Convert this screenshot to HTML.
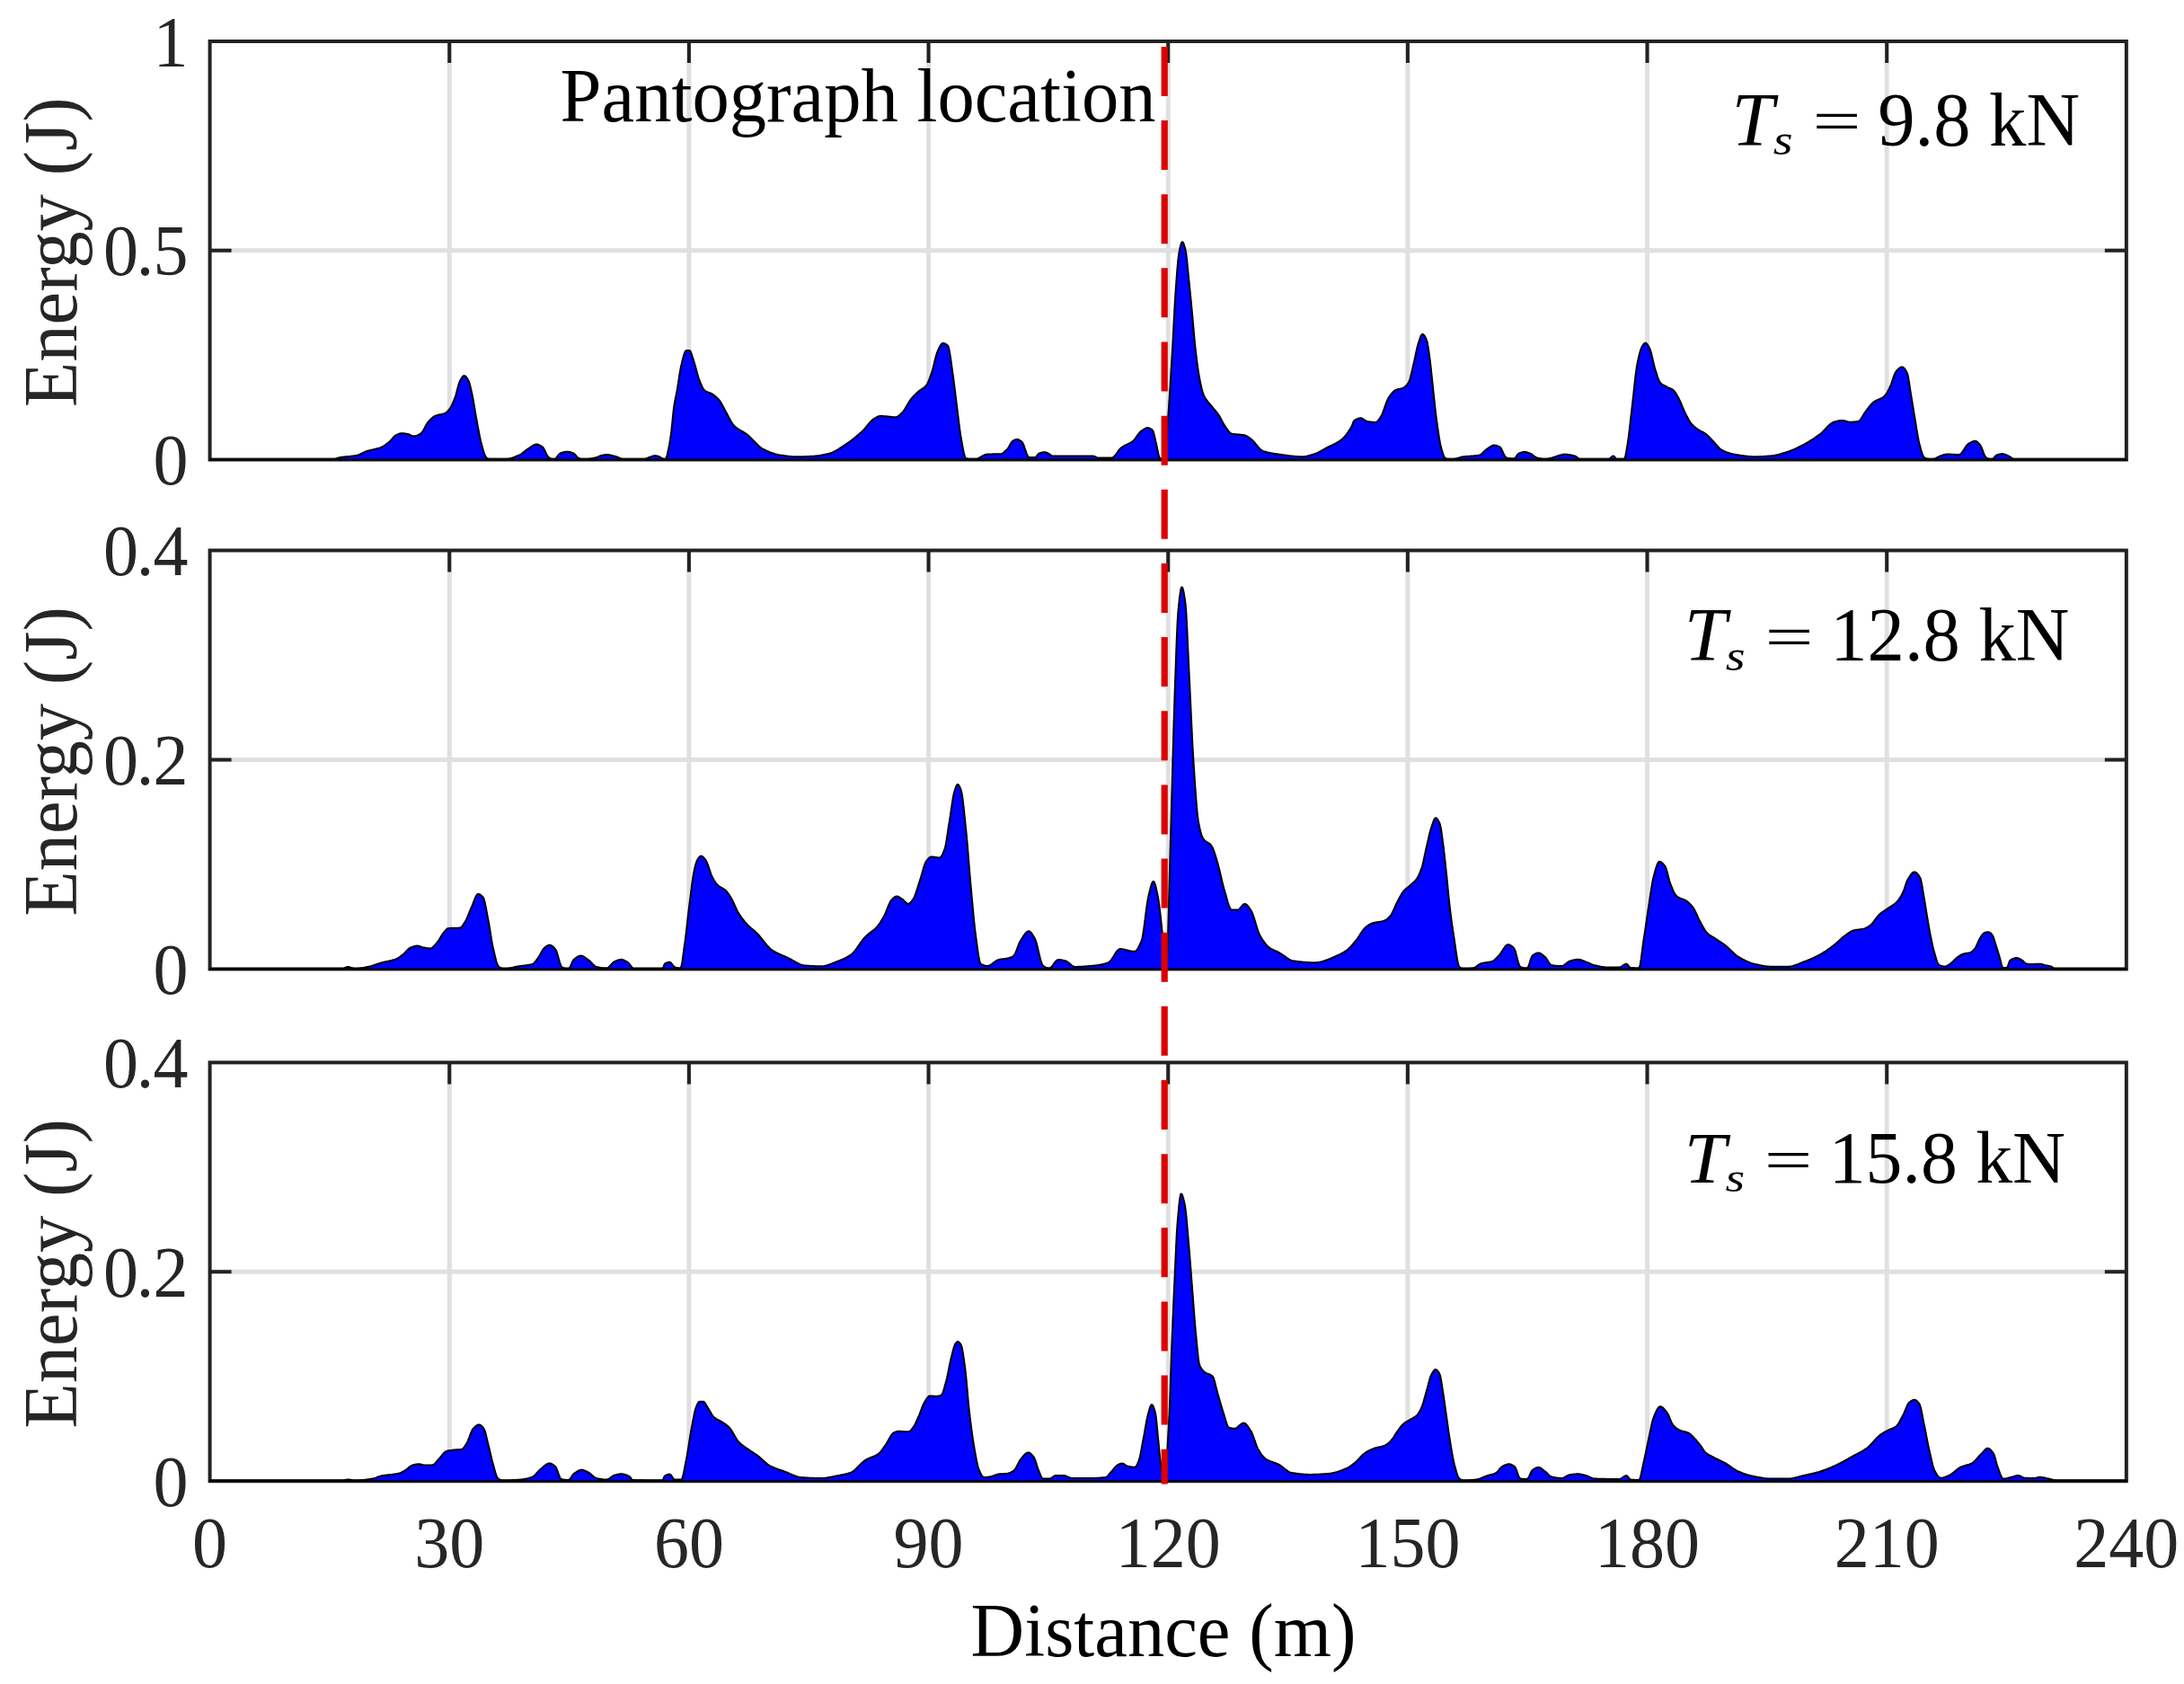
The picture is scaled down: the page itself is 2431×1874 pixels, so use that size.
<!DOCTYPE html><html><head><meta charset="utf-8"><title>Energy vs Distance</title>
<style>html,body{margin:0;padding:0;background:#fff;}svg{display:block;}</style></head><body>
<svg width="2431" height="1874" viewBox="0 0 2431 1874">
<rect x="0" y="0" width="2431" height="1874" fill="#fff"/>
<path d="M500.25,46V511.5M766.91,46V511.5M1033.57,46V511.5M1300.22,46V511.5M1566.88,46V511.5M1833.53,46V511.5M2100.18,46V511.5M233.6,278.75H2366.84" stroke="#e0e0e0" stroke-width="5.0" fill="none"/>
<path d="M500.25,46v24M500.25,511.5v-24M766.91,46v24M766.91,511.5v-24M1033.57,46v24M1033.57,511.5v-24M1300.22,46v24M1300.22,511.5v-24M1566.88,46v24M1566.88,511.5v-24M1833.53,46v24M1833.53,511.5v-24M2100.18,46v24M2100.18,511.5v-24M233.6,278.75h24M2366.84,278.75h-24" stroke="#222222" stroke-width="4.0" fill="none"/>
<rect x="233.6" y="46" width="2133.24" height="465.5" stroke="#222222" stroke-width="4.0" fill="none"/>
<path d="M233.6,511.5 L233.6,511.5 234.35,511.5 235.1,511.5 235.85,511.5 236.6,511.5 237.35,511.5 238.1,511.5 238.85,511.5 239.6,511.5 240.35,511.5 241.1,511.5 241.85,511.5 242.6,511.5 243.35,511.5 244.1,511.5 244.85,511.5 245.6,511.5 246.35,511.5 247.1,511.5 247.85,511.5 248.6,511.5 249.35,511.5 250.1,511.5 250.85,511.5 251.6,511.5 252.35,511.5 253.1,511.5 253.85,511.5 254.6,511.5 255.35,511.5 256.1,511.5 256.85,511.5 257.6,511.5 258.35,511.5 259.1,511.5 259.85,511.5 260.6,511.5 261.35,511.5 262.1,511.5 262.85,511.5 263.6,511.5 264.35,511.5 265.1,511.5 265.85,511.5 266.6,511.5 267.35,511.5 268.1,511.5 268.85,511.5 269.6,511.5 270.35,511.5 271.1,511.5 271.85,511.5 272.6,511.5 273.35,511.5 274.1,511.5 274.85,511.5 275.6,511.5 276.35,511.5 277.1,511.5 277.85,511.5 278.6,511.5 279.35,511.5 280.1,511.5 280.85,511.5 281.6,511.5 282.35,511.5 283.1,511.5 283.85,511.5 284.6,511.5 285.35,511.5 286.1,511.5 286.85,511.5 287.6,511.5 288.35,511.5 289.1,511.5 289.85,511.5 290.6,511.5 291.35,511.5 292.1,511.5 292.85,511.5 293.6,511.5 294.35,511.5 295.1,511.5 295.85,511.5 296.6,511.5 297.35,511.5 298.1,511.5 298.85,511.5 299.6,511.5 300.35,511.5 301.1,511.5 301.85,511.5 302.6,511.5 303.35,511.5 304.1,511.5 304.85,511.5 305.6,511.5 306.35,511.5 307.1,511.5 307.85,511.5 308.6,511.5 309.35,511.5 310.1,511.5 310.85,511.5 311.6,511.5 312.35,511.5 313.1,511.5 313.85,511.5 314.6,511.5 315.35,511.5 316.1,511.5 316.85,511.5 317.6,511.5 318.35,511.5 319.1,511.5 319.85,511.5 320.6,511.5 321.35,511.5 322.1,511.5 322.85,511.5 323.6,511.5 324.35,511.5 325.1,511.5 325.85,511.5 326.6,511.5 327.35,511.5 328.1,511.5 328.85,511.5 329.6,511.5 330.35,511.5 331.1,511.5 331.85,511.5 332.6,511.5 333.35,511.5 334.1,511.5 334.85,511.5 335.6,511.5 336.35,511.5 337.1,511.5 337.85,511.5 338.6,511.5 339.35,511.5 340.1,511.5 340.85,511.5 341.6,511.5 342.35,511.5 343.1,511.5 343.85,511.5 344.6,511.5 345.35,511.5 346.1,511.5 346.85,511.5 347.6,511.5 348.35,511.5 349.1,511.5 349.85,511.5 350.6,511.5 351.35,511.5 352.1,511.5 352.85,511.5 353.6,511.5 354.35,511.5 355.1,511.5 355.85,511.5 356.6,511.5 357.35,511.5 358.1,511.5 358.85,511.5 359.6,511.5 360.35,511.5 361.1,511.5 361.85,511.5 362.6,511.5 363.35,511.5 364.1,511.5 364.85,511.5 365.6,511.5 366.35,511.5 367.1,511.5 367.85,511.5 368.6,511.5 369.35,511.5 370.1,511.5 370.85,511.44 371.6,511.31 372.35,511.12 373.1,510.88 373.85,510.6 374.6,510.31 375.35,510.01 376.1,509.73 376.85,509.47 377.6,509.25 378.35,509.09 379.1,508.96 379.85,508.85 380.6,508.74 381.35,508.64 382.1,508.55 382.85,508.47 383.6,508.39 384.35,508.31 385.1,508.24 385.85,508.18 386.6,508.11 387.35,508.05 388.1,507.98 388.85,507.91 389.6,507.85 390.35,507.77 391.1,507.7 391.85,507.61 392.6,507.53 393.35,507.43 394.1,507.32 394.85,507.21 395.6,507.08 396.35,506.95 397.1,506.79 397.85,506.59 398.6,506.34 399.35,506.05 400.1,505.74 400.85,505.39 401.6,505.04 402.35,504.67 403.1,504.29 403.85,503.92 404.6,503.55 405.35,503.2 406.1,502.87 406.85,502.57 407.6,502.3 408.35,502.06 409.1,501.83 409.85,501.62 410.6,501.41 411.35,501.22 412.1,501.04 412.85,500.86 413.6,500.69 414.35,500.52 415.1,500.36 415.85,500.19 416.6,500.02 417.35,499.85 418.1,499.67 418.85,499.48 419.6,499.28 420.35,499.07 421.1,498.85 421.85,498.61 422.6,498.36 423.35,498.09 424.1,497.8 424.85,497.48 425.6,497.11 426.35,496.7 427.1,496.26 427.85,495.78 428.6,495.28 429.35,494.75 430.1,494.2 430.85,493.63 431.6,493.05 432.35,492.46 433.1,491.86 433.85,491.22 434.6,490.48 435.35,489.65 436.1,488.78 436.85,487.9 437.6,487.03 438.35,486.21 439.1,485.48 439.85,484.87 440.6,484.4 441.35,484.02 442.1,483.65 442.85,483.3 443.6,482.97 444.35,482.69 445.1,482.47 445.85,482.3 446.6,482.21 447.35,482.2 448.1,482.23 448.85,482.28 449.6,482.35 450.35,482.44 451.1,482.54 451.85,482.65 452.6,482.77 453.35,482.89 454.1,483.05 454.85,483.3 455.6,483.6 456.35,483.93 457.1,484.27 457.85,484.6 458.6,484.89 459.35,485.12 460.1,485.26 460.85,485.3 461.6,485.25 462.35,485.12 463.1,484.94 463.85,484.69 464.6,484.4 465.35,484.07 466.1,483.7 466.85,483.3 467.6,482.89 468.35,482.44 469.1,481.78 469.85,480.89 470.6,479.82 471.35,478.59 472.1,477.26 472.85,475.87 473.6,474.46 474.35,473.08 475.1,471.76 475.85,470.56 476.6,469.5 477.35,468.64 478.1,467.86 478.85,467.1 479.6,466.37 480.35,465.67 481.1,465.02 481.85,464.42 482.6,463.87 483.35,463.39 484.1,462.99 484.85,462.65 485.6,462.37 486.35,462.13 487.1,461.92 487.85,461.74 488.6,461.58 489.35,461.43 490.1,461.28 490.85,461.13 491.6,460.97 492.35,460.79 493.1,460.59 493.85,460.36 494.6,460.09 495.35,459.77 496.1,459.37 496.85,458.85 497.6,458.21 498.35,457.46 499.1,456.63 499.85,455.72 500.6,454.74 501.35,453.7 502.1,452.46 502.85,451.04 503.6,449.45 504.35,447.72 505.1,445.9 505.85,443.99 506.6,442.03 507.35,439.73 508.1,437.05 508.85,434.16 509.6,431.26 510.35,428.52 511.1,426.14 511.85,424.29 512.6,422.9 513.35,421.54 514.1,420.3 514.85,419.26 515.6,418.5 516.35,418.13 517.1,418.18 517.85,418.58 518.6,419.26 519.35,420.16 520.1,421.23 520.85,422.42 521.6,423.78 522.35,425.81 523.1,428.44 523.85,431.51 524.6,434.86 525.35,438.33 526.1,441.82 526.85,445.75 527.6,450.09 528.35,454.64 529.1,459.21 529.85,463.62 530.6,467.71 531.35,471.81 532.1,475.93 532.85,479.99 533.6,483.89 534.35,487.54 535.1,490.87 535.85,493.78 536.6,496.49 537.35,499.16 538.1,501.7 538.85,504.03 539.6,506.06 540.35,507.7 541.1,508.88 541.85,509.65 542.6,510.33 543.35,510.91 544.1,511.31 544.85,511.49 545.6,511.5 546.35,511.5 547.1,511.5 547.85,511.5 548.6,511.5 549.35,511.5 550.1,511.5 550.85,511.5 551.6,511.5 552.35,511.5 553.1,511.5 553.85,511.5 554.6,511.5 555.35,511.5 556.1,511.5 556.85,511.5 557.6,511.5 558.35,511.5 559.1,511.5 559.85,511.5 560.6,511.49 561.35,511.46 562.1,511.4 562.85,511.32 563.6,511.21 564.35,511.09 565.1,510.94 565.85,510.78 566.6,510.6 567.35,510.4 568.1,510.18 568.85,509.95 569.6,509.71 570.35,509.45 571.1,509.19 571.85,508.91 572.6,508.62 573.35,508.33 574.1,508.03 574.85,507.72 575.6,507.41 576.35,507.1 577.1,506.78 577.85,506.46 578.6,506.12 579.35,505.71 580.1,505.24 580.85,504.72 581.6,504.16 582.35,503.58 583.1,502.98 583.85,502.38 584.6,501.78 585.35,501.21 586.1,500.66 586.85,500.16 587.6,499.68 588.35,499.18 589.1,498.65 589.85,498.1 590.6,497.56 591.35,497.02 592.1,496.51 592.85,496.03 593.6,495.59 594.35,495.21 595.1,494.9 595.85,494.67 596.6,494.54 597.35,494.5 598.1,494.57 598.85,494.74 599.6,494.98 600.35,495.3 601.1,495.67 601.85,496.09 602.6,496.55 603.35,497.04 604.1,497.63 604.85,498.58 605.6,499.82 606.35,501.27 607.1,502.83 607.85,504.4 608.6,505.91 609.35,507.25 610.1,508.33 610.85,509.07 611.6,509.56 612.35,510.04 613.1,510.48 613.85,510.86 614.6,511.16 615.35,511.38 616.1,511.49 616.85,511.43 617.6,511.06 618.35,510.42 619.1,509.58 619.85,508.62 620.6,507.61 621.35,506.63 622.1,505.74 622.85,505.02 623.6,504.54 624.35,504.25 625.1,503.97 625.85,503.71 626.6,503.47 627.35,503.25 628.1,503.07 628.85,502.91 629.6,502.8 630.35,502.73 631.1,502.7 631.85,502.73 632.6,502.8 633.35,502.91 634.1,503.07 634.85,503.26 635.6,503.48 636.35,503.73 637.1,504 637.85,504.28 638.6,504.59 639.35,505.11 640.1,505.84 640.85,506.7 641.6,507.6 642.35,508.46 643.1,509.18 643.85,509.68 644.6,510.01 645.35,510.34 646.1,510.64 646.85,510.91 647.6,511.14 648.35,511.32 649.1,511.45 649.85,511.5 650.6,511.49 651.35,511.46 652.1,511.39 652.85,511.31 653.6,511.21 654.35,511.1 655.1,510.97 655.85,510.83 656.6,510.68 657.35,510.53 658.1,510.38 658.85,510.22 659.6,510.08 660.35,509.93 661.1,509.76 661.85,509.56 662.6,509.35 663.35,509.11 664.1,508.86 664.85,508.6 665.6,508.33 666.35,508.06 667.1,507.79 667.85,507.52 668.6,507.27 669.35,507.02 670.1,506.8 670.85,506.59 671.6,506.41 672.35,506.26 673.1,506.14 673.85,506.05 674.6,506.01 675.35,506 676.1,506.04 676.85,506.1 677.6,506.19 678.35,506.3 679.1,506.44 679.85,506.6 680.6,506.77 681.35,506.95 682.1,507.15 682.85,507.35 683.6,507.55 684.35,507.76 685.1,507.96 685.85,508.16 686.6,508.38 687.35,508.65 688.1,508.96 688.85,509.31 689.6,509.67 690.35,510.03 691.1,510.38 691.85,510.71 692.6,510.99 693.35,511.23 694.1,511.4 694.85,511.49 695.6,511.5 696.35,511.5 697.1,511.5 697.85,511.5 698.6,511.5 699.35,511.5 700.1,511.5 700.85,511.5 701.6,511.5 702.35,511.5 703.1,511.5 703.85,511.5 704.6,511.5 705.35,511.5 706.1,511.5 706.85,511.5 707.6,511.5 708.35,511.5 709.1,511.5 709.85,511.5 710.6,511.5 711.35,511.5 712.1,511.5 712.85,511.5 713.6,511.5 714.35,511.5 715.1,511.5 715.85,511.44 716.6,511.31 717.35,511.12 718.1,510.87 718.85,510.57 719.6,510.25 720.35,509.91 721.1,509.56 721.85,509.21 722.6,508.89 723.35,508.58 724.1,508.32 724.85,508.1 725.6,507.86 726.35,507.61 727.1,507.39 727.85,507.22 728.6,507.12 729.35,507.11 730.1,507.2 730.85,507.35 731.6,507.56 732.35,507.79 733.1,508.04 733.85,508.29 734.6,508.62 735.35,509.03 736.1,509.5 736.85,509.99 737.6,510.46 738.35,510.88 739.1,511.22 739.85,511.43 740.6,511.49 741.35,510.55 742.1,508.42 742.85,505.44 743.6,501.97 744.35,498.37 745.1,494.69 745.85,490.22 746.6,485.1 747.35,479.51 748.1,472.64 748.85,464.76 749.6,457.31 750.35,451.63 751.1,447.2 751.85,443.36 752.6,439.75 753.35,436 754.1,431.76 754.85,427.03 755.6,422.08 756.35,417.17 757.1,412.58 757.85,408.59 758.6,405.38 759.35,402.25 760.1,399.17 760.85,396.29 761.6,393.78 762.35,391.8 763.1,390.52 763.85,390.1 764.6,390.1 765.35,390.1 766.1,390.1 766.85,390.1 767.6,390.11 768.35,390.76 769.1,392.25 769.85,394.32 770.6,396.7 771.35,399.14 772.1,401.38 772.85,403.69 773.6,406.26 774.35,408.99 775.1,411.79 775.85,414.59 776.6,417.29 777.35,419.8 778.1,422.05 778.85,423.98 779.6,425.85 780.35,427.68 781.1,429.41 781.85,430.97 782.6,432.33 783.35,433.42 784.1,434.18 784.85,434.76 785.6,435.25 786.35,435.67 787.1,436.03 787.85,436.35 788.6,436.65 789.35,436.93 790.1,437.22 790.85,437.53 791.6,437.86 792.35,438.25 793.1,438.7 793.85,439.2 794.6,439.73 795.35,440.29 796.1,440.88 796.85,441.52 797.6,442.19 798.35,442.9 799.1,443.67 799.85,444.47 800.6,445.34 801.35,446.33 802.1,447.47 802.85,448.72 803.6,450.06 804.35,451.45 805.1,452.88 805.85,454.32 806.6,455.74 807.35,457.11 808.1,458.42 808.85,459.78 809.6,461.19 810.35,462.64 811.1,464.1 811.85,465.55 812.6,466.97 813.35,468.34 814.1,469.64 814.85,470.85 815.6,471.94 816.35,472.9 817.1,473.7 817.85,474.42 818.6,475.09 819.35,475.71 820.1,476.29 820.85,476.84 821.6,477.35 822.35,477.84 823.1,478.31 823.85,478.76 824.6,479.2 825.35,479.63 826.1,480.06 826.85,480.49 827.6,480.93 828.35,481.38 829.1,481.85 829.85,482.34 830.6,482.86 831.35,483.41 832.1,484 832.85,484.62 833.6,485.28 834.35,485.96 835.1,486.67 835.85,487.4 836.6,488.15 837.35,488.91 838.1,489.68 838.85,490.46 839.6,491.23 840.35,492.01 841.1,492.78 841.85,493.54 842.6,494.28 843.35,495.01 844.1,495.71 844.85,496.39 845.6,497.04 846.35,497.66 847.1,498.24 847.85,498.77 848.6,499.27 849.35,499.71 850.1,500.1 850.85,500.47 851.6,500.84 852.35,501.19 853.1,501.54 853.85,501.88 854.6,502.21 855.35,502.53 856.1,502.85 856.85,503.15 857.6,503.45 858.35,503.73 859.1,504 859.85,504.27 860.6,504.52 861.35,504.76 862.1,504.99 862.85,505.21 863.6,505.41 864.35,505.61 865.1,505.79 865.85,505.96 866.6,506.11 867.35,506.26 868.1,506.38 868.85,506.5 869.6,506.62 870.35,506.74 871.1,506.86 871.85,506.97 872.6,507.08 873.35,507.19 874.1,507.3 874.85,507.4 875.6,507.5 876.35,507.6 877.1,507.69 877.85,507.77 878.6,507.85 879.35,507.93 880.1,508 880.85,508.06 881.6,508.12 882.35,508.17 883.1,508.21 883.85,508.24 884.6,508.27 885.35,508.29 886.1,508.3 886.85,508.3 887.6,508.3 888.35,508.29 889.1,508.28 889.85,508.27 890.6,508.26 891.35,508.25 892.1,508.23 892.85,508.21 893.6,508.19 894.35,508.17 895.1,508.14 895.85,508.12 896.6,508.09 897.35,508.06 898.1,508.03 898.85,508 899.6,507.96 900.35,507.93 901.1,507.89 901.85,507.86 902.6,507.82 903.35,507.78 904.1,507.74 904.85,507.7 905.6,507.65 906.35,507.6 907.1,507.54 907.85,507.47 908.6,507.39 909.35,507.3 910.1,507.21 910.85,507.11 911.6,507 912.35,506.89 913.1,506.77 913.85,506.64 914.6,506.51 915.35,506.37 916.1,506.23 916.85,506.08 917.6,505.92 918.35,505.76 919.1,505.59 919.85,505.42 920.6,505.25 921.35,505.07 922.1,504.88 922.85,504.69 923.6,504.49 924.35,504.27 925.1,504.02 925.85,503.74 926.6,503.44 927.35,503.11 928.1,502.76 928.85,502.4 929.6,502.01 930.35,501.6 931.1,501.18 931.85,500.75 932.6,500.3 933.35,499.84 934.1,499.37 934.85,498.89 935.6,498.41 936.35,497.92 937.1,497.42 937.85,496.92 938.6,496.42 939.35,495.92 940.1,495.42 940.85,494.93 941.6,494.43 942.35,493.94 943.1,493.43 943.85,492.92 944.6,492.39 945.35,491.86 946.1,491.31 946.85,490.76 947.6,490.2 948.35,489.62 949.1,489.04 949.85,488.45 950.6,487.86 951.35,487.25 952.1,486.64 952.85,486.02 953.6,485.39 954.35,484.75 955.1,484.1 955.85,483.45 956.6,482.79 957.35,482.12 958.1,481.45 958.85,480.77 959.6,480.08 960.35,479.38 961.1,478.61 961.85,477.79 962.6,476.93 963.35,476.04 964.1,475.13 964.85,474.2 965.6,473.27 966.35,472.35 967.1,471.44 967.85,470.56 968.6,469.72 969.35,468.92 970.1,468.17 970.85,467.49 971.6,466.88 972.35,466.36 973.1,465.9 973.85,465.44 974.6,464.98 975.35,464.54 976.1,464.13 976.85,463.76 977.6,463.46 978.35,463.22 979.1,463.06 979.85,463 980.6,463.01 981.35,463.02 982.1,463.05 982.85,463.09 983.6,463.14 984.35,463.19 985.1,463.24 985.85,463.3 986.6,463.35 987.35,463.4 988.1,463.47 988.85,463.54 989.6,463.63 990.35,463.73 991.1,463.83 991.85,463.93 992.6,464.02 993.35,464.11 994.1,464.19 994.85,464.25 995.6,464.28 996.35,464.3 997.1,464.23 997.85,464.03 998.6,463.7 999.35,463.27 1000.1,462.75 1000.85,462.17 1001.6,461.54 1002.35,460.89 1003.1,460.22 1003.85,459.57 1004.6,458.81 1005.35,457.92 1006.1,456.92 1006.85,455.81 1007.6,454.63 1008.35,453.39 1009.1,452.11 1009.85,450.81 1010.6,449.52 1011.35,448.24 1012.1,447 1012.85,445.83 1013.6,444.73 1014.35,443.73 1015.1,442.83 1015.85,441.98 1016.6,441.17 1017.35,440.39 1018.1,439.63 1018.85,438.9 1019.6,438.18 1020.35,437.48 1021.1,436.8 1021.85,436.12 1022.6,435.47 1023.35,434.88 1024.1,434.34 1024.85,433.83 1025.6,433.34 1026.35,432.85 1027.1,432.34 1027.85,431.81 1028.6,431.22 1029.35,430.57 1030.1,429.85 1030.85,429.02 1031.6,428.05 1032.35,426.79 1033.1,425.25 1033.85,423.5 1034.6,421.58 1035.35,419.56 1036.1,417.47 1036.85,415.37 1037.6,413 1038.35,410.3 1039.1,407.38 1039.85,404.34 1040.6,401.28 1041.35,398.31 1042.1,395.54 1042.85,393.07 1043.6,391 1044.35,389.37 1045.1,387.8 1045.85,386.27 1046.6,384.85 1047.35,383.63 1048.1,382.68 1048.85,382.08 1049.6,381.9 1050.35,381.98 1051.1,382.16 1051.85,382.46 1052.6,382.85 1053.35,383.34 1054.1,383.91 1054.85,384.56 1055.6,385.79 1056.35,388.46 1057.1,392.3 1057.85,396.99 1058.6,402.22 1059.35,407.69 1060.1,413.07 1060.85,418.2 1061.6,423.76 1062.35,429.74 1063.1,435.97 1063.85,442.26 1064.6,448.44 1065.35,454.36 1066.1,460.45 1066.85,466.65 1067.6,472.74 1068.35,478.49 1069.1,483.65 1069.85,488.02 1070.6,492.21 1071.35,496.42 1072.1,500.42 1072.85,504 1073.6,506.94 1074.35,509.03 1075.1,510.06 1075.85,510.3 1076.6,510.51 1077.35,510.7 1078.1,510.87 1078.85,511.02 1079.6,511.14 1080.35,511.25 1081.1,511.34 1081.85,511.41 1082.6,511.45 1083.35,511.49 1084.1,511.5 1084.85,511.48 1085.6,511.37 1086.35,511.19 1087.1,510.95 1087.85,510.64 1088.6,510.29 1089.35,509.91 1090.1,509.49 1090.85,509.05 1091.6,508.6 1092.35,508.15 1093.1,507.71 1093.85,507.28 1094.6,506.88 1095.35,506.51 1096.1,506.18 1096.85,505.91 1097.6,505.7 1098.35,505.56 1099.1,505.5 1099.85,505.47 1100.6,505.45 1101.35,505.43 1102.1,505.41 1102.85,505.4 1103.6,505.39 1104.35,505.38 1105.1,505.37 1105.85,505.36 1106.6,505.36 1107.35,505.35 1108.1,505.34 1108.85,505.33 1109.6,505.32 1110.35,505.3 1111.1,505.29 1111.85,505.27 1112.6,505.24 1113.35,505.21 1114.1,505.14 1114.85,504.93 1115.6,504.6 1116.35,504.15 1117.1,503.6 1117.85,502.99 1118.6,502.31 1119.35,501.6 1120.1,500.87 1120.85,500.14 1121.6,499.33 1122.35,498.26 1123.1,497.01 1123.85,495.68 1124.6,494.34 1125.35,493.08 1126.1,491.99 1126.85,491.15 1127.6,490.61 1128.35,490.16 1129.1,489.74 1129.85,489.38 1130.6,489.1 1131.35,488.94 1132.1,488.91 1132.85,489.01 1133.6,489.25 1134.35,489.59 1135.1,490.03 1135.85,490.53 1136.6,491.08 1137.35,491.66 1138.1,492.52 1138.85,493.92 1139.6,495.72 1140.35,497.79 1141.1,500.01 1141.85,502.25 1142.6,504.37 1143.35,506.24 1144.1,507.74 1144.85,508.74 1145.6,509.1 1146.35,509.1 1147.1,509.1 1147.85,509.1 1148.6,509.1 1149.35,509.1 1150.1,509.1 1150.85,509.1 1151.6,509.1 1152.35,509.03 1153.1,508.51 1153.85,507.62 1154.6,506.58 1155.35,505.57 1156.1,504.79 1156.85,504.41 1157.6,504.17 1158.35,503.94 1159.1,503.73 1159.85,503.56 1160.6,503.41 1161.35,503.3 1162.1,503.23 1162.85,503.2 1163.6,503.24 1164.35,503.41 1165.1,503.69 1165.85,504.05 1166.6,504.48 1167.35,504.95 1168.1,505.43 1168.85,505.92 1169.6,506.38 1170.35,506.8 1171.1,507.15 1171.85,507.41 1172.6,507.57 1173.35,507.6 1174.1,507.6 1174.85,507.6 1175.6,507.6 1176.35,507.6 1177.1,507.6 1177.85,507.6 1178.6,507.6 1179.35,507.6 1180.1,507.6 1180.85,507.6 1181.6,507.6 1182.35,507.6 1183.1,507.6 1183.85,507.6 1184.6,507.6 1185.35,507.6 1186.1,507.6 1186.85,507.6 1187.6,507.6 1188.35,507.6 1189.1,507.6 1189.85,507.6 1190.6,507.6 1191.35,507.6 1192.1,507.6 1192.85,507.6 1193.6,507.6 1194.35,507.6 1195.1,507.6 1195.85,507.6 1196.6,507.6 1197.35,507.6 1198.1,507.6 1198.85,507.6 1199.6,507.6 1200.35,507.6 1201.1,507.6 1201.85,507.6 1202.6,507.6 1203.35,507.6 1204.1,507.6 1204.85,507.6 1205.6,507.6 1206.35,507.6 1207.1,507.6 1207.85,507.6 1208.6,507.6 1209.35,507.6 1210.1,507.6 1210.85,507.6 1211.6,507.6 1212.35,507.6 1213.1,507.6 1213.85,507.6 1214.6,507.6 1215.35,507.6 1216.1,507.6 1216.85,507.6 1217.6,507.64 1218.35,507.85 1219.1,508.17 1219.85,508.55 1220.6,508.93 1221.35,509.25 1222.1,509.46 1222.85,509.5 1223.6,509.5 1224.35,509.5 1225.1,509.5 1225.85,509.5 1226.6,509.5 1227.35,509.5 1228.1,509.5 1228.85,509.5 1229.6,509.5 1230.35,509.5 1231.1,509.5 1231.85,509.5 1232.6,509.5 1233.35,509.5 1234.1,509.5 1234.85,509.5 1235.6,509.5 1236.35,509.5 1237.1,509.5 1237.85,509.41 1238.6,509.11 1239.35,508.61 1240.1,507.96 1240.85,507.17 1241.6,506.27 1242.35,505.29 1243.1,504.27 1243.85,503.22 1244.6,502.17 1245.35,501.16 1246.1,500.21 1246.85,499.34 1247.6,498.6 1248.35,497.99 1249.1,497.47 1249.85,496.99 1250.6,496.54 1251.35,496.12 1252.1,495.73 1252.85,495.36 1253.6,495 1254.35,494.64 1255.1,494.29 1255.85,493.93 1256.6,493.55 1257.35,493.16 1258.1,492.74 1258.85,492.3 1259.6,491.82 1260.35,491.29 1261.1,490.72 1261.85,490.03 1262.6,489.22 1263.35,488.3 1264.1,487.31 1264.85,486.26 1265.6,485.2 1266.35,484.14 1267.1,483.12 1267.85,482.15 1268.6,481.27 1269.35,480.5 1270.1,479.87 1270.85,479.34 1271.6,478.8 1272.35,478.28 1273.1,477.77 1273.85,477.31 1274.6,476.9 1275.35,476.56 1276.1,476.3 1276.85,476.15 1277.6,476.1 1278.35,476.18 1279.1,476.36 1279.85,476.66 1280.6,477.05 1281.35,477.53 1282.1,478.11 1282.85,478.76 1283.6,479.95 1284.35,482.37 1285.1,485.55 1285.85,489 1286.6,492.22 1287.35,495.34 1288.1,498.94 1288.85,502.62 1289.6,505.96 1290.35,508.54 1291.1,509.93 1291.85,510.36 1292.6,510.72 1293.35,511.02 1294.1,511.25 1294.85,511.41 1295.6,511.49 1296.35,510.94 1297.1,506.42 1297.85,498.39 1298.6,488.08 1299.35,476.75 1300.1,465.62 1300.85,455.35 1301.6,444.35 1302.35,432.6 1303.1,420.32 1303.85,407.7 1304.6,394.97 1305.35,382.12 1306.1,368.21 1306.85,353.87 1307.6,340.06 1308.35,327.72 1309.1,317.11 1309.85,306.8 1310.6,297.26 1311.35,289.17 1312.1,283.16 1312.85,279.12 1313.6,275.47 1314.35,272.4 1315.1,270.22 1315.85,269.23 1316.6,269.55 1317.35,270.84 1318.1,272.87 1318.85,275.43 1319.6,278.3 1320.35,282.54 1321.1,288.82 1321.85,296.33 1322.6,304.25 1323.35,311.78 1324.1,319.06 1324.85,326.59 1325.6,334.3 1326.35,342.12 1327.1,350.03 1327.85,358.44 1328.6,367.15 1329.35,375.67 1330.1,383.55 1330.85,390.36 1331.6,396.67 1332.35,402.64 1333.1,408.21 1333.85,413.33 1334.6,417.93 1335.35,421.97 1336.1,425.7 1336.85,429.22 1337.6,432.44 1338.35,435.3 1339.1,437.72 1339.85,439.61 1340.6,441.15 1341.35,442.54 1342.1,443.78 1342.85,444.91 1343.6,445.94 1344.35,446.9 1345.1,447.8 1345.85,448.67 1346.6,449.52 1347.35,450.39 1348.1,451.28 1348.85,452.23 1349.6,453.2 1350.35,454.12 1351.1,455.02 1351.85,455.9 1352.6,456.77 1353.35,457.66 1354.1,458.57 1354.85,459.52 1355.6,460.51 1356.35,461.57 1357.1,462.74 1357.85,464.03 1358.6,465.4 1359.35,466.82 1360.1,468.27 1360.85,469.7 1361.6,471.08 1362.35,472.39 1363.1,473.58 1363.85,474.65 1364.6,475.71 1365.35,476.79 1366.1,477.86 1366.85,478.89 1367.6,479.86 1368.35,480.72 1369.1,481.45 1369.85,482.02 1370.6,482.41 1371.35,482.61 1372.1,482.77 1372.85,482.91 1373.6,483.03 1374.35,483.14 1375.1,483.22 1375.85,483.3 1376.6,483.37 1377.35,483.43 1378.1,483.48 1378.85,483.54 1379.6,483.59 1380.35,483.65 1381.1,483.72 1381.85,483.79 1382.6,483.88 1383.35,483.98 1384.1,484.1 1384.85,484.24 1385.6,484.4 1386.35,484.62 1387.1,484.93 1387.85,485.31 1388.6,485.75 1389.35,486.25 1390.1,486.78 1390.85,487.34 1391.6,487.91 1392.35,488.48 1393.1,489.05 1393.85,489.69 1394.6,490.41 1395.35,491.2 1396.1,492.04 1396.85,492.93 1397.6,493.85 1398.35,494.78 1399.1,495.71 1399.85,496.63 1400.6,497.52 1401.35,498.37 1402.1,499.17 1402.85,499.9 1403.6,500.55 1404.35,501.1 1405.1,501.54 1405.85,501.85 1406.6,502.12 1407.35,502.37 1408.1,502.61 1408.85,502.83 1409.6,503.05 1410.35,503.25 1411.1,503.44 1411.85,503.61 1412.6,503.78 1413.35,503.94 1414.1,504.09 1414.85,504.24 1415.6,504.38 1416.35,504.51 1417.1,504.63 1417.85,504.75 1418.6,504.87 1419.35,504.99 1420.1,505.1 1420.85,505.21 1421.6,505.31 1422.35,505.42 1423.1,505.53 1423.85,505.64 1424.6,505.75 1425.35,505.86 1426.1,505.96 1426.85,506.07 1427.6,506.18 1428.35,506.29 1429.1,506.39 1429.85,506.5 1430.6,506.6 1431.35,506.71 1432.1,506.81 1432.85,506.91 1433.6,507 1434.35,507.1 1435.1,507.19 1435.85,507.28 1436.6,507.37 1437.35,507.45 1438.1,507.53 1438.85,507.61 1439.6,507.68 1440.35,507.75 1441.1,507.81 1441.85,507.88 1442.6,507.93 1443.35,507.98 1444.1,508.03 1444.85,508.07 1445.6,508.11 1446.35,508.14 1447.1,508.16 1447.85,508.18 1448.6,508.19 1449.35,508.2 1450.1,508.2 1450.85,508.16 1451.6,508.11 1452.35,508.02 1453.1,507.91 1453.85,507.78 1454.6,507.63 1455.35,507.47 1456.1,507.28 1456.85,507.09 1457.6,506.88 1458.35,506.66 1459.1,506.44 1459.85,506.21 1460.6,505.98 1461.35,505.75 1462.1,505.52 1462.85,505.29 1463.6,505.04 1464.35,504.76 1465.1,504.46 1465.85,504.14 1466.6,503.79 1467.35,503.43 1468.1,503.06 1468.85,502.67 1469.6,502.27 1470.35,501.86 1471.1,501.44 1471.85,501.02 1472.6,500.6 1473.35,500.17 1474.1,499.75 1474.85,499.33 1475.6,498.91 1476.35,498.5 1477.1,498.1 1477.85,497.71 1478.6,497.33 1479.35,496.96 1480.1,496.6 1480.85,496.24 1481.6,495.89 1482.35,495.53 1483.1,495.18 1483.85,494.82 1484.6,494.45 1485.35,494.08 1486.1,493.7 1486.85,493.3 1487.6,492.9 1488.35,492.47 1489.1,492.03 1489.85,491.57 1490.6,491.09 1491.35,490.58 1492.1,490.05 1492.85,489.49 1493.6,488.9 1494.35,488.26 1495.1,487.57 1495.85,486.82 1496.6,486.01 1497.35,485.15 1498.1,484.23 1498.85,483.27 1499.6,482.25 1500.35,481.19 1501.1,480.07 1501.85,478.92 1502.6,477.71 1503.35,476.47 1504.1,475.18 1504.85,473.8 1505.6,471.84 1506.35,469.77 1507.1,468.3 1507.85,467.71 1508.6,467.23 1509.35,466.79 1510.1,466.41 1510.85,466.08 1511.6,465.81 1512.35,465.6 1513.1,465.44 1513.85,465.34 1514.6,465.3 1515.35,465.37 1516.1,465.62 1516.85,466 1517.6,466.47 1518.35,467 1519.1,467.53 1519.85,468.04 1520.6,468.49 1521.35,468.83 1522.1,469.02 1522.85,469.14 1523.6,469.26 1524.35,469.37 1525.1,469.47 1525.85,469.56 1526.6,469.65 1527.35,469.72 1528.1,469.78 1528.85,469.83 1529.6,469.87 1530.35,469.89 1531.1,469.9 1531.85,469.74 1532.6,469.3 1533.35,468.63 1534.1,467.79 1534.85,466.83 1535.6,465.79 1536.35,464.74 1537.1,463.64 1537.85,462.24 1538.6,460.58 1539.35,458.7 1540.1,456.68 1540.85,454.57 1541.6,452.42 1542.35,450.29 1543.1,448.24 1543.85,446.33 1544.6,444.61 1545.35,443.14 1546.1,441.95 1546.85,440.84 1547.6,439.77 1548.35,438.75 1549.1,437.79 1549.85,436.91 1550.6,436.11 1551.35,435.4 1552.1,434.81 1552.85,434.33 1553.6,433.97 1554.35,433.67 1555.1,433.43 1555.85,433.22 1556.6,433.04 1557.35,432.87 1558.1,432.71 1558.85,432.55 1559.6,432.37 1560.35,432.16 1561.1,431.91 1561.85,431.61 1562.6,431.25 1563.35,430.79 1564.1,430.24 1564.85,429.59 1565.6,428.82 1566.35,427.94 1567.1,426.94 1567.85,425.82 1568.6,424.22 1569.35,422 1570.1,419.29 1570.85,416.25 1571.6,413.02 1572.35,409.76 1573.1,406.6 1573.85,403.51 1574.6,400.12 1575.35,396.55 1576.1,392.95 1576.85,389.46 1577.6,386.24 1578.35,383.43 1579.1,381.11 1579.85,378.8 1580.6,376.55 1581.35,374.55 1582.1,372.99 1582.85,372.06 1583.6,371.94 1584.35,372.32 1585.1,373.08 1585.85,374.17 1586.6,375.51 1587.35,377.06 1588.1,378.82 1588.85,381.81 1589.6,386.06 1590.35,391.15 1591.1,396.64 1591.85,402.17 1592.6,408.48 1593.35,415.5 1594.1,422.84 1594.85,430.07 1595.6,436.96 1596.35,444 1597.1,451.03 1597.85,457.77 1598.6,463.95 1599.35,469.47 1600.1,474.86 1600.85,480.09 1601.6,485.05 1602.35,489.62 1603.1,493.68 1603.85,497.13 1604.6,499.88 1605.35,502.37 1606.1,504.71 1606.85,506.79 1607.6,508.48 1608.35,509.67 1609.1,510.24 1609.85,510.53 1610.6,510.78 1611.35,511 1612.1,511.18 1612.85,511.32 1613.6,511.42 1614.35,511.48 1615.1,511.5 1615.85,511.47 1616.6,511.4 1617.35,511.29 1618.1,511.15 1618.85,510.98 1619.6,510.79 1620.35,510.57 1621.1,510.35 1621.85,510.11 1622.6,509.87 1623.35,509.63 1624.1,509.4 1624.85,509.17 1625.6,508.96 1626.35,508.77 1627.1,508.6 1627.85,508.46 1628.6,508.34 1629.35,508.24 1630.1,508.15 1630.85,508.07 1631.6,508 1632.35,507.93 1633.1,507.87 1633.85,507.81 1634.6,507.76 1635.35,507.71 1636.1,507.66 1636.85,507.61 1637.6,507.56 1638.35,507.5 1639.1,507.45 1639.85,507.38 1640.6,507.32 1641.35,507.25 1642.1,507.17 1642.85,507.08 1643.6,506.98 1644.35,506.88 1645.1,506.76 1645.85,506.63 1646.6,506.48 1647.35,506.23 1648.1,505.84 1648.85,505.33 1649.6,504.72 1650.35,504.05 1651.1,503.32 1651.85,502.58 1652.6,501.82 1653.35,501.1 1654.1,500.41 1654.85,499.79 1655.6,499.26 1656.35,498.79 1657.1,498.28 1657.85,497.77 1658.6,497.27 1659.35,496.79 1660.1,496.36 1660.85,496 1661.6,495.72 1662.35,495.55 1663.1,495.5 1663.85,495.54 1664.6,495.65 1665.35,495.81 1666.1,496.02 1666.85,496.28 1667.6,496.57 1668.35,496.9 1669.1,497.25 1669.85,497.72 1670.6,498.63 1671.35,499.91 1672.1,501.44 1672.85,503.1 1673.6,504.78 1674.35,506.36 1675.1,507.71 1675.85,508.72 1676.6,509.27 1677.35,509.47 1678.1,509.65 1678.85,509.82 1679.6,509.97 1680.35,510.1 1681.1,510.22 1681.85,510.31 1682.6,510.39 1683.35,510.45 1684.1,510.48 1684.85,510.5 1685.6,510.33 1686.35,509.74 1687.1,508.83 1687.85,507.76 1688.6,506.67 1689.35,505.68 1690.1,504.94 1690.85,504.54 1691.6,504.22 1692.35,503.91 1693.1,503.64 1693.85,503.39 1694.6,503.19 1695.35,503.04 1696.1,502.94 1696.85,502.9 1697.6,502.93 1698.35,503.04 1699.1,503.2 1699.85,503.41 1700.6,503.66 1701.35,503.94 1702.1,504.23 1702.85,504.52 1703.6,504.83 1704.35,505.22 1705.1,505.7 1705.85,506.24 1706.6,506.82 1707.35,507.4 1708.1,507.96 1708.85,508.47 1709.6,508.9 1710.35,509.22 1711.1,509.44 1711.85,509.65 1712.6,509.85 1713.35,510.05 1714.1,510.23 1714.85,510.4 1715.6,510.55 1716.35,510.68 1717.1,510.79 1717.85,510.88 1718.6,510.95 1719.35,510.99 1720.1,511 1720.85,510.97 1721.6,510.9 1722.35,510.78 1723.1,510.64 1723.85,510.46 1724.6,510.27 1725.35,510.05 1726.1,509.82 1726.85,509.58 1727.6,509.34 1728.35,509.1 1729.1,508.87 1729.85,508.65 1730.6,508.45 1731.35,508.26 1732.1,508.04 1732.85,507.81 1733.6,507.56 1734.35,507.31 1735.1,507.06 1735.85,506.81 1736.6,506.56 1737.35,506.34 1738.1,506.13 1738.85,505.95 1739.6,505.8 1740.35,505.69 1741.1,505.62 1741.85,505.6 1742.6,505.61 1743.35,505.65 1744.1,505.71 1744.85,505.78 1745.6,505.88 1746.35,505.99 1747.1,506.11 1747.85,506.25 1748.6,506.41 1749.35,506.57 1750.1,506.74 1750.85,506.93 1751.6,507.11 1752.35,507.31 1753.1,507.53 1753.85,507.88 1754.6,508.35 1755.35,508.89 1756.1,509.46 1756.85,510.03 1757.6,510.56 1758.35,511 1759.1,511.33 1759.85,511.49 1760.6,511.5 1761.35,511.5 1762.1,511.5 1762.85,511.5 1763.6,511.5 1764.35,511.5 1765.1,511.5 1765.85,511.5 1766.6,511.5 1767.35,511.5 1768.1,511.5 1768.85,511.5 1769.6,511.5 1770.35,511.5 1771.1,511.5 1771.85,511.5 1772.6,511.5 1773.35,511.5 1774.1,511.5 1774.85,511.5 1775.6,511.5 1776.35,511.5 1777.1,511.5 1777.85,511.5 1778.6,511.5 1779.35,511.5 1780.1,511.5 1780.85,511.5 1781.6,511.5 1782.35,511.5 1783.1,511.5 1783.85,511.5 1784.6,511.5 1785.35,511.5 1786.1,511.5 1786.85,511.5 1787.6,511.5 1788.35,511.5 1789.1,511.5 1789.85,511.5 1790.6,511.38 1791.35,510.94 1792.1,510.28 1792.85,509.5 1793.6,508.72 1794.35,508.04 1795.1,507.56 1795.85,507.4 1796.6,507.79 1797.35,508.66 1798.1,509.74 1798.85,510.75 1799.6,511.4 1800.35,511.5 1801.1,511.5 1801.85,511.5 1802.6,511.5 1803.35,511.5 1804.1,511.5 1804.85,511.5 1805.6,511.5 1806.35,511.5 1807.1,511.5 1807.85,511.46 1808.6,510.04 1809.35,507.05 1810.1,503.07 1810.85,498.66 1811.6,494.36 1812.35,489.46 1813.1,483.78 1813.85,477.53 1814.6,470.94 1815.35,464.2 1816.1,457.55 1816.85,451.19 1817.6,444.68 1818.35,437.76 1819.1,430.72 1819.85,423.83 1820.6,417.37 1821.35,411.62 1822.1,406.87 1822.85,403.04 1823.6,399.46 1824.35,396.13 1825.1,393.11 1825.85,390.45 1826.6,388.2 1827.35,386.42 1828.1,385.12 1828.85,383.95 1829.6,382.92 1830.35,382.12 1831.1,381.67 1831.85,381.65 1832.6,382.08 1833.35,382.87 1834.1,383.94 1834.85,385.2 1835.6,386.57 1836.35,388.01 1837.1,389.98 1837.85,392.51 1838.6,395.45 1839.35,398.64 1840.1,401.92 1840.85,405.15 1841.6,408.17 1842.35,410.83 1843.1,413.19 1843.85,415.62 1844.6,418.02 1845.35,420.29 1846.1,422.35 1846.85,424.08 1847.6,425.4 1848.35,426.25 1849.1,426.93 1849.85,427.52 1850.6,428.03 1851.35,428.48 1852.1,428.88 1852.85,429.26 1853.6,429.62 1854.35,430 1855.1,430.39 1855.85,430.79 1856.6,431.16 1857.35,431.49 1858.1,431.8 1858.85,432.11 1859.6,432.44 1860.35,432.8 1861.1,433.2 1861.85,433.66 1862.6,434.2 1863.35,434.89 1864.1,435.78 1864.85,436.84 1865.6,438.02 1866.35,439.29 1867.1,440.62 1867.85,441.96 1868.6,443.32 1869.35,444.84 1870.1,446.47 1870.85,448.2 1871.6,449.99 1872.35,451.8 1873.1,453.6 1873.85,455.36 1874.6,457.03 1875.35,458.6 1876.1,460.09 1876.85,461.58 1877.6,463.08 1878.35,464.55 1879.1,465.98 1879.85,467.34 1880.6,468.62 1881.35,469.8 1882.1,470.85 1882.85,471.76 1883.6,472.56 1884.35,473.31 1885.1,474.01 1885.85,474.67 1886.6,475.29 1887.35,475.87 1888.1,476.43 1888.85,476.97 1889.6,477.48 1890.35,477.98 1891.1,478.48 1891.85,478.97 1892.6,479.44 1893.35,479.86 1894.1,480.25 1894.85,480.63 1895.6,481.01 1896.35,481.41 1897.1,481.83 1897.85,482.29 1898.6,482.82 1899.35,483.4 1900.1,484.05 1900.85,484.74 1901.6,485.47 1902.35,486.24 1903.1,487.02 1903.85,487.83 1904.6,488.64 1905.35,489.45 1906.1,490.25 1906.85,491.04 1907.6,491.8 1908.35,492.59 1909.1,493.43 1909.85,494.29 1910.6,495.18 1911.35,496.06 1912.1,496.93 1912.85,497.77 1913.6,498.56 1914.35,499.28 1915.1,499.92 1915.85,500.47 1916.6,500.9 1917.35,501.26 1918.1,501.61 1918.85,501.95 1919.6,502.27 1920.35,502.58 1921.1,502.87 1921.85,503.16 1922.6,503.43 1923.35,503.69 1924.1,503.93 1924.85,504.17 1925.6,504.4 1926.35,504.61 1927.1,504.82 1927.85,505.01 1928.6,505.19 1929.35,505.37 1930.1,505.54 1930.85,505.69 1931.6,505.84 1932.35,505.98 1933.1,506.11 1933.85,506.24 1934.6,506.36 1935.35,506.47 1936.1,506.58 1936.85,506.69 1937.6,506.8 1938.35,506.9 1939.1,507.01 1939.85,507.11 1940.6,507.21 1941.35,507.31 1942.1,507.41 1942.85,507.5 1943.6,507.58 1944.35,507.67 1945.1,507.75 1945.85,507.82 1946.6,507.89 1947.35,507.95 1948.1,508.01 1948.85,508.06 1949.6,508.1 1950.35,508.13 1951.1,508.16 1951.85,508.18 1952.6,508.2 1953.35,508.2 1954.1,508.2 1954.85,508.19 1955.6,508.18 1956.35,508.17 1957.1,508.15 1957.85,508.13 1958.6,508.11 1959.35,508.08 1960.1,508.05 1960.85,508.02 1961.6,507.98 1962.35,507.94 1963.1,507.9 1963.85,507.86 1964.6,507.81 1965.35,507.77 1966.1,507.72 1966.85,507.66 1967.6,507.61 1968.35,507.56 1969.1,507.5 1969.85,507.44 1970.6,507.38 1971.35,507.32 1972.1,507.26 1972.85,507.17 1973.6,507.08 1974.35,506.97 1975.1,506.85 1975.85,506.71 1976.6,506.56 1977.35,506.4 1978.1,506.23 1978.85,506.05 1979.6,505.86 1980.35,505.66 1981.1,505.45 1981.85,505.24 1982.6,505.02 1983.35,504.79 1984.1,504.56 1984.85,504.33 1985.6,504.09 1986.35,503.85 1987.1,503.61 1987.85,503.36 1988.6,503.12 1989.35,502.88 1990.1,502.64 1990.85,502.39 1991.6,502.13 1992.35,501.86 1993.1,501.58 1993.85,501.29 1994.6,501 1995.35,500.69 1996.1,500.38 1996.85,500.06 1997.6,499.73 1998.35,499.4 1999.1,499.05 1999.85,498.71 2000.6,498.35 2001.35,497.99 2002.1,497.63 2002.85,497.26 2003.6,496.88 2004.35,496.5 2005.1,496.12 2005.85,495.73 2006.6,495.34 2007.35,494.95 2008.1,494.55 2008.85,494.15 2009.6,493.74 2010.35,493.32 2011.1,492.9 2011.85,492.47 2012.6,492.02 2013.35,491.57 2014.1,491.12 2014.85,490.65 2015.6,490.18 2016.35,489.7 2017.1,489.22 2017.85,488.73 2018.6,488.23 2019.35,487.72 2020.1,487.21 2020.85,486.69 2021.6,486.17 2022.35,485.64 2023.1,485.1 2023.85,484.56 2024.6,484.01 2025.35,483.46 2026.1,482.9 2026.85,482.33 2027.6,481.71 2028.35,481.04 2029.1,480.33 2029.85,479.58 2030.6,478.8 2031.35,478.01 2032.1,477.2 2032.85,476.4 2033.6,475.6 2034.35,474.81 2035.1,474.05 2035.85,473.32 2036.6,472.62 2037.35,471.98 2038.1,471.39 2038.85,470.86 2039.6,470.4 2040.35,470.02 2041.1,469.73 2041.85,469.5 2042.6,469.28 2043.35,469.06 2044.1,468.85 2044.85,468.66 2045.6,468.48 2046.35,468.32 2047.1,468.19 2047.85,468.07 2048.6,467.99 2049.35,467.93 2050.1,467.9 2050.85,467.92 2051.6,468 2052.35,468.13 2053.1,468.3 2053.85,468.5 2054.6,468.71 2055.35,468.93 2056.1,469.14 2056.85,469.34 2057.6,469.5 2058.35,469.62 2059.1,469.69 2059.85,469.7 2060.6,469.69 2061.35,469.66 2062.1,469.62 2062.85,469.57 2063.6,469.51 2064.35,469.43 2065.1,469.35 2065.85,469.25 2066.6,469.14 2067.35,469.02 2068.1,468.89 2068.85,468.73 2069.6,468.31 2070.35,467.6 2071.1,466.65 2071.85,465.54 2072.6,464.3 2073.35,463.01 2074.1,461.71 2074.85,460.47 2075.6,459.34 2076.35,458.35 2077.1,457.36 2077.85,456.36 2078.6,455.34 2079.35,454.33 2080.1,453.34 2080.85,452.36 2081.6,451.42 2082.35,450.53 2083.1,449.69 2083.85,448.92 2084.6,448.22 2085.35,447.61 2086.1,447.06 2086.85,446.58 2087.6,446.14 2088.35,445.74 2089.1,445.38 2089.85,445.04 2090.6,444.71 2091.35,444.39 2092.1,444.06 2092.85,443.72 2093.6,443.36 2094.35,442.98 2095.1,442.55 2095.85,442.08 2096.6,441.56 2097.35,440.97 2098.1,440.31 2098.85,439.46 2099.6,438.41 2100.35,437.19 2101.1,435.83 2101.85,434.39 2102.6,432.9 2103.35,431.4 2104.1,429.77 2104.85,427.86 2105.6,425.76 2106.35,423.55 2107.1,421.33 2107.85,419.17 2108.6,417.17 2109.35,415.41 2110.1,413.97 2110.85,412.95 2111.6,412.13 2112.35,411.34 2113.1,410.61 2113.85,409.94 2114.6,409.37 2115.35,408.91 2116.1,408.59 2116.85,408.42 2117.6,408.44 2118.35,408.75 2119.1,409.32 2119.85,410.13 2120.6,411.14 2121.35,412.32 2122.1,413.65 2122.85,415.13 2123.6,417.67 2124.35,421.44 2125.1,426.02 2125.85,431.03 2126.6,436.05 2127.35,440.69 2128.1,445.17 2128.85,449.78 2129.6,454.46 2130.35,459.13 2131.1,463.73 2131.85,468.19 2132.6,472.71 2133.35,477.36 2134.1,481.93 2134.85,486.26 2135.6,490.14 2136.35,493.41 2137.1,496.26 2137.85,499.08 2138.6,501.75 2139.35,504.18 2140.1,506.24 2140.85,507.85 2141.6,508.87 2142.35,509.35 2143.1,509.73 2143.85,510.09 2144.6,510.4 2145.35,510.68 2146.1,510.92 2146.85,511.12 2147.6,511.28 2148.35,511.39 2149.1,511.47 2149.85,511.5 2150.6,511.47 2151.35,511.35 2152.1,511.14 2152.85,510.87 2153.6,510.55 2154.35,510.18 2155.1,509.79 2155.85,509.38 2156.6,508.96 2157.35,508.55 2158.1,508.16 2158.85,507.81 2159.6,507.5 2160.35,507.25 2161.1,507.01 2161.85,506.76 2162.6,506.52 2163.35,506.27 2164.1,506.05 2164.85,505.85 2165.6,505.69 2166.35,505.57 2167.1,505.51 2167.85,505.5 2168.6,505.51 2169.35,505.53 2170.1,505.55 2170.85,505.58 2171.6,505.62 2172.35,505.66 2173.1,505.7 2173.85,505.74 2174.6,505.79 2175.35,505.83 2176.1,505.87 2176.85,505.91 2177.6,505.94 2178.35,505.97 2179.1,505.99 2179.85,506 2180.6,505.99 2181.35,505.78 2182.1,505.33 2182.85,504.66 2183.6,503.83 2184.35,502.86 2185.1,501.78 2185.85,500.64 2186.6,499.47 2187.35,498.3 2188.1,497.17 2188.85,496.12 2189.6,495.18 2190.35,494.39 2191.1,493.78 2191.85,493.35 2192.6,492.93 2193.35,492.53 2194.1,492.14 2194.85,491.78 2195.6,491.47 2196.35,491.2 2197.1,490.99 2197.85,490.86 2198.6,490.8 2199.35,490.9 2200.1,491.23 2200.85,491.75 2201.6,492.43 2202.35,493.22 2203.1,494.08 2203.85,494.98 2204.6,495.96 2205.35,497.38 2206.1,499.17 2206.85,501.17 2207.6,503.24 2208.35,505.22 2209.1,506.95 2209.85,508.3 2210.6,509.1 2211.35,509.56 2212.1,509.99 2212.85,510.39 2213.6,510.73 2214.35,511.02 2215.1,511.24 2215.85,511.4 2216.6,511.49 2217.35,511.45 2218.1,511.03 2218.85,510.3 2219.6,509.38 2220.35,508.4 2221.1,507.49 2221.85,506.77 2222.6,506.37 2223.35,506.12 2224.1,505.89 2224.85,505.68 2225.6,505.5 2226.35,505.35 2227.1,505.23 2227.85,505.14 2228.6,505.1 2229.35,505.12 2230.1,505.21 2230.85,505.38 2231.6,505.61 2232.35,505.89 2233.1,506.21 2233.85,506.57 2234.6,506.94 2235.35,507.33 2236.1,507.71 2236.85,508.08 2237.6,508.47 2238.35,508.99 2239.1,509.57 2239.85,510.17 2240.6,510.73 2241.35,511.17 2242.1,511.44 2242.85,511.5 2243.6,511.5 2244.35,511.5 2245.1,511.5 2245.85,511.5 2246.6,511.5 2247.35,511.5 2248.1,511.5 2248.85,511.5 2249.6,511.5 2250.35,511.5 2251.1,511.5 2251.85,511.5 2252.6,511.5 2253.35,511.5 2254.1,511.5 2254.85,511.5 2255.6,511.5 2256.35,511.5 2257.1,511.5 2257.85,511.5 2258.6,511.5 2259.35,511.5 2260.1,511.5 2260.85,511.5 2261.6,511.5 2262.35,511.5 2263.1,511.5 2263.85,511.5 2264.6,511.5 2265.35,511.5 2266.1,511.5 2266.85,511.5 2267.6,511.5 2268.35,511.5 2269.1,511.5 2269.85,511.5 2270.6,511.5 2271.35,511.5 2272.1,511.5 2272.85,511.5 2273.6,511.5 2274.35,511.5 2275.1,511.5 2275.85,511.5 2276.6,511.5 2277.35,511.5 2278.1,511.5 2278.85,511.5 2279.6,511.5 2280.35,511.5 2281.1,511.5 2281.85,511.5 2282.6,511.5 2283.35,511.5 2284.1,511.5 2284.85,511.5 2285.6,511.5 2286.35,511.5 2287.1,511.5 2287.85,511.5 2288.6,511.5 2289.35,511.5 2290.1,511.5 2290.85,511.5 2291.6,511.5 2292.35,511.5 2293.1,511.5 2293.85,511.5 2294.6,511.5 2295.35,511.5 2296.1,511.5 2296.85,511.5 2297.6,511.5 2298.35,511.5 2299.1,511.5 2299.85,511.5 2300.6,511.5 2301.35,511.5 2302.1,511.5 2302.85,511.5 2303.6,511.5 2304.35,511.5 2305.1,511.5 2305.85,511.5 2306.6,511.5 2307.35,511.5 2308.1,511.5 2308.85,511.5 2309.6,511.5 2310.35,511.5 2311.1,511.5 2311.85,511.5 2312.6,511.5 2313.35,511.5 2314.1,511.5 2314.85,511.5 2315.6,511.5 2316.35,511.5 2317.1,511.5 2317.85,511.5 2318.6,511.5 2319.35,511.5 2320.1,511.5 2320.85,511.5 2321.6,511.5 2322.35,511.5 2323.1,511.5 2323.85,511.5 2324.6,511.5 2325.35,511.5 2326.1,511.5 2326.85,511.5 2327.6,511.5 2328.35,511.5 2329.1,511.5 2329.85,511.5 2330.6,511.5 2331.35,511.5 2332.1,511.5 2332.85,511.5 2333.6,511.5 2334.35,511.5 2335.1,511.5 2335.85,511.5 2336.6,511.5 2337.35,511.5 2338.1,511.5 2338.85,511.5 2339.6,511.5 2340.35,511.5 2341.1,511.5 2341.85,511.5 2342.6,511.5 2343.35,511.5 2344.1,511.5 2344.85,511.5 2345.6,511.5 2346.35,511.5 2347.1,511.5 2347.85,511.5 2348.6,511.5 2349.35,511.5 2350.1,511.5 2350.85,511.5 2351.6,511.5 2352.35,511.5 2353.1,511.5 2353.85,511.5 2354.6,511.5 2355.35,511.5 2356.1,511.5 2356.85,511.5 2357.6,511.5 2358.35,511.5 2359.1,511.5 2359.85,511.5 2360.6,511.5 2361.35,511.5 2362.1,511.5 2362.85,511.5 2363.6,511.5 2364.35,511.5 2365.1,511.5 2365.85,511.5 2366.6,511.5 2367,511.5 L2367,511.5 Z" fill="#0000ff" stroke="#000" stroke-width="2.0" stroke-linejoin="round"/>
<text transform="translate(0,539) scale(1,1.03)" x="170.4" font-family="'Liberation Serif','Times New Roman',serif" font-size="78" fill="#262626">0</text>
<text transform="translate(0,306.25) scale(1,1.03)" x="115 151.7 170.4" font-family="'Liberation Serif','Times New Roman',serif" font-size="78" fill="#262626">0.5</text>
<text transform="translate(0,73.5) scale(1,1.03)" x="170.4" font-family="'Liberation Serif','Times New Roman',serif" font-size="78" fill="#262626">1</text>
<text transform="translate(84.5,280.75) rotate(-90) scale(1,1.033)" text-anchor="middle" font-family="'Liberation Serif','Times New Roman',serif" font-size="82.6" fill="#262626">Energy (J)</text>
<path d="M500.25,612.5V1078.4M766.91,612.5V1078.4M1033.57,612.5V1078.4M1300.22,612.5V1078.4M1566.88,612.5V1078.4M1833.53,612.5V1078.4M2100.18,612.5V1078.4M233.6,845.45H2366.84" stroke="#e0e0e0" stroke-width="5.0" fill="none"/>
<path d="M500.25,612.5v24M500.25,1078.4v-24M766.91,612.5v24M766.91,1078.4v-24M1033.57,612.5v24M1033.57,1078.4v-24M1300.22,612.5v24M1300.22,1078.4v-24M1566.88,612.5v24M1566.88,1078.4v-24M1833.53,612.5v24M1833.53,1078.4v-24M2100.18,612.5v24M2100.18,1078.4v-24M233.6,845.45h24M2366.84,845.45h-24" stroke="#222222" stroke-width="4.0" fill="none"/>
<rect x="233.6" y="612.5" width="2133.24" height="465.9" stroke="#222222" stroke-width="4.0" fill="none"/>
<path d="M233.6,1078.4 L233.6,1078.3 234.35,1078.3 235.1,1078.3 235.85,1078.3 236.6,1078.3 237.35,1078.3 238.1,1078.3 238.85,1078.3 239.6,1078.3 240.35,1078.3 241.1,1078.3 241.85,1078.3 242.6,1078.3 243.35,1078.3 244.1,1078.3 244.85,1078.3 245.6,1078.3 246.35,1078.3 247.1,1078.3 247.85,1078.3 248.6,1078.3 249.35,1078.3 250.1,1078.3 250.85,1078.3 251.6,1078.3 252.35,1078.3 253.1,1078.3 253.85,1078.3 254.6,1078.3 255.35,1078.3 256.1,1078.3 256.85,1078.3 257.6,1078.3 258.35,1078.3 259.1,1078.3 259.85,1078.3 260.6,1078.3 261.35,1078.3 262.1,1078.3 262.85,1078.3 263.6,1078.3 264.35,1078.3 265.1,1078.3 265.85,1078.3 266.6,1078.3 267.35,1078.3 268.1,1078.3 268.85,1078.3 269.6,1078.3 270.35,1078.3 271.1,1078.3 271.85,1078.3 272.6,1078.3 273.35,1078.3 274.1,1078.3 274.85,1078.3 275.6,1078.3 276.35,1078.3 277.1,1078.3 277.85,1078.3 278.6,1078.3 279.35,1078.3 280.1,1078.3 280.85,1078.3 281.6,1078.3 282.35,1078.3 283.1,1078.3 283.85,1078.3 284.6,1078.3 285.35,1078.3 286.1,1078.3 286.85,1078.3 287.6,1078.3 288.35,1078.3 289.1,1078.3 289.85,1078.3 290.6,1078.3 291.35,1078.3 292.1,1078.3 292.85,1078.3 293.6,1078.3 294.35,1078.3 295.1,1078.3 295.85,1078.3 296.6,1078.3 297.35,1078.3 298.1,1078.3 298.85,1078.3 299.6,1078.3 300.35,1078.3 301.1,1078.3 301.85,1078.3 302.6,1078.3 303.35,1078.3 304.1,1078.3 304.85,1078.3 305.6,1078.3 306.35,1078.3 307.1,1078.3 307.85,1078.3 308.6,1078.3 309.35,1078.3 310.1,1078.3 310.85,1078.3 311.6,1078.3 312.35,1078.3 313.1,1078.3 313.85,1078.3 314.6,1078.3 315.35,1078.3 316.1,1078.3 316.85,1078.3 317.6,1078.3 318.35,1078.3 319.1,1078.3 319.85,1078.3 320.6,1078.3 321.35,1078.3 322.1,1078.3 322.85,1078.3 323.6,1078.3 324.35,1078.3 325.1,1078.3 325.85,1078.3 326.6,1078.3 327.35,1078.3 328.1,1078.3 328.85,1078.3 329.6,1078.3 330.35,1078.3 331.1,1078.3 331.85,1078.3 332.6,1078.3 333.35,1078.3 334.1,1078.3 334.85,1078.3 335.6,1078.3 336.35,1078.3 337.1,1078.3 337.85,1078.3 338.6,1078.3 339.35,1078.3 340.1,1078.3 340.85,1078.3 341.6,1078.3 342.35,1078.3 343.1,1078.3 343.85,1078.3 344.6,1078.3 345.35,1078.3 346.1,1078.3 346.85,1078.3 347.6,1078.3 348.35,1078.3 349.1,1078.3 349.85,1078.3 350.6,1078.3 351.35,1078.3 352.1,1078.3 352.85,1078.3 353.6,1078.3 354.35,1078.3 355.1,1078.3 355.85,1078.3 356.6,1078.3 357.35,1078.3 358.1,1078.3 358.85,1078.3 359.6,1078.3 360.35,1078.3 361.1,1078.3 361.85,1078.3 362.6,1078.3 363.35,1078.3 364.1,1078.3 364.85,1078.3 365.6,1078.3 366.35,1078.3 367.1,1078.3 367.85,1078.3 368.6,1078.3 369.35,1078.3 370.1,1078.3 370.85,1078.3 371.6,1078.3 372.35,1078.3 373.1,1078.3 373.85,1078.3 374.6,1078.3 375.35,1078.3 376.1,1078.3 376.85,1078.3 377.6,1078.3 378.35,1078.3 379.1,1078.3 379.85,1078.3 380.6,1078.26 381.35,1078.1 382.1,1077.86 382.85,1077.56 383.6,1077.22 384.35,1076.88 385.1,1076.56 385.85,1076.28 386.6,1076.09 387.35,1076 388.1,1076.04 388.85,1076.17 389.6,1076.38 390.35,1076.65 391.1,1076.94 391.85,1077.24 392.6,1077.52 393.35,1077.75 394.1,1077.92 394.85,1078 395.6,1077.99 396.35,1077.97 397.1,1077.94 397.85,1077.88 398.6,1077.82 399.35,1077.74 400.1,1077.65 400.85,1077.55 401.6,1077.43 402.35,1077.31 403.1,1077.18 403.85,1077.05 404.6,1076.9 405.35,1076.76 406.1,1076.6 406.85,1076.45 407.6,1076.29 408.35,1076.13 409.1,1075.97 409.85,1075.81 410.6,1075.65 411.35,1075.49 412.1,1075.32 412.85,1075.13 413.6,1074.93 414.35,1074.71 415.1,1074.48 415.85,1074.24 416.6,1073.99 417.35,1073.74 418.1,1073.48 418.85,1073.22 419.6,1072.95 420.35,1072.69 421.1,1072.44 421.85,1072.19 422.6,1071.95 423.35,1071.72 424.1,1071.5 424.85,1071.29 425.6,1071.1 426.35,1070.92 427.1,1070.74 427.85,1070.57 428.6,1070.4 429.35,1070.24 430.1,1070.09 430.85,1069.93 431.6,1069.77 432.35,1069.61 433.1,1069.45 433.85,1069.28 434.6,1069.1 435.35,1068.92 436.1,1068.73 436.85,1068.53 437.6,1068.31 438.35,1068.08 439.1,1067.84 439.85,1067.58 440.6,1067.3 441.35,1066.98 442.1,1066.61 442.85,1066.2 443.6,1065.74 444.35,1065.25 445.1,1064.74 445.85,1064.2 446.6,1063.66 447.35,1063.1 448.1,1062.55 448.85,1061.93 449.6,1061.24 450.35,1060.49 451.1,1059.7 451.85,1058.9 452.6,1058.1 453.35,1057.33 454.1,1056.6 454.85,1055.93 455.6,1055.35 456.35,1054.86 457.1,1054.5 457.85,1054.21 458.6,1053.92 459.35,1053.64 460.1,1053.39 460.85,1053.16 461.6,1052.96 462.35,1052.8 463.1,1052.68 463.85,1052.62 464.6,1052.6 465.35,1052.67 466.1,1052.81 466.85,1053.01 467.6,1053.24 468.35,1053.5 469.1,1053.77 469.85,1054.02 470.6,1054.25 471.35,1054.43 472.1,1054.57 472.85,1054.7 473.6,1054.83 474.35,1054.95 475.1,1055.07 475.85,1055.17 476.6,1055.26 477.35,1055.33 478.1,1055.38 478.85,1055.4 479.6,1055.33 480.35,1055.06 481.1,1054.62 481.85,1054.03 482.6,1053.32 483.35,1052.52 484.1,1051.67 484.85,1050.79 485.6,1049.91 486.35,1049.06 487.1,1048.15 487.85,1047.11 488.6,1045.94 489.35,1044.71 490.1,1043.43 490.85,1042.16 491.6,1040.93 492.35,1039.77 493.1,1038.73 493.85,1037.83 494.6,1036.95 495.35,1036.04 496.1,1035.17 496.85,1034.38 497.6,1033.72 498.35,1033.25 499.1,1033.01 499.85,1032.95 500.6,1032.9 501.35,1032.86 502.1,1032.83 502.85,1032.81 503.6,1032.79 504.35,1032.77 505.1,1032.76 505.85,1032.75 506.6,1032.74 507.35,1032.72 508.1,1032.7 508.85,1032.68 509.6,1032.65 510.35,1032.62 511.1,1032.57 511.85,1032.51 512.6,1032.34 513.35,1031.84 514.1,1031.09 514.85,1030.15 515.6,1029.06 516.35,1027.89 517.1,1026.71 517.85,1025.54 518.6,1024.19 519.35,1022.64 520.1,1020.94 520.85,1019.14 521.6,1017.27 522.35,1015.39 523.1,1013.52 523.85,1011.72 524.6,1010.03 525.35,1008.37 526.1,1006.53 526.85,1004.57 527.6,1002.59 528.35,1000.66 529.1,998.88 529.85,997.33 530.6,996.09 531.35,995.25 532.1,994.91 532.85,994.96 533.6,995.19 534.35,995.56 535.1,996.06 535.85,996.68 536.6,997.4 537.35,998.2 538.1,999.23 538.85,1001.18 539.6,1003.98 540.35,1007.4 541.1,1011.24 541.85,1015.29 542.6,1019.32 543.35,1023.16 544.1,1027.26 544.85,1031.78 545.6,1036.51 546.35,1041.26 547.1,1045.82 547.85,1050 548.6,1053.6 549.35,1056.9 550.1,1060.25 550.85,1063.52 551.6,1066.62 552.35,1069.43 553.1,1071.85 553.85,1073.77 554.6,1075.09 555.35,1075.76 556.1,1076.3 556.85,1076.78 557.6,1077.2 558.35,1077.57 559.1,1077.87 559.85,1078.09 560.6,1078.24 561.35,1078.3 562.1,1078.29 562.85,1078.25 563.6,1078.19 564.35,1078.1 565.1,1077.99 565.85,1077.86 566.6,1077.72 567.35,1077.56 568.1,1077.39 568.85,1077.21 569.6,1077.02 570.35,1076.83 571.1,1076.64 571.85,1076.45 572.6,1076.26 573.35,1076.08 574.1,1075.91 574.85,1075.74 575.6,1075.59 576.35,1075.46 577.1,1075.33 577.85,1075.22 578.6,1075.12 579.35,1075.02 580.1,1074.93 580.85,1074.84 581.6,1074.75 582.35,1074.67 583.1,1074.59 583.85,1074.5 584.6,1074.41 585.35,1074.31 586.1,1074.21 586.85,1074.1 587.6,1073.98 588.35,1073.84 589.1,1073.7 589.85,1073.54 590.6,1073.36 591.35,1073.17 592.1,1072.95 592.85,1072.71 593.6,1072.3 594.35,1071.71 595.1,1070.97 595.85,1070.1 596.6,1069.14 597.35,1068.12 598.1,1067.05 598.85,1065.97 599.6,1064.91 600.35,1063.84 601.1,1062.57 601.85,1061.16 602.6,1059.71 603.35,1058.3 604.1,1057.02 604.85,1055.97 605.6,1055.23 606.35,1054.58 607.1,1053.96 607.85,1053.38 608.6,1052.86 609.35,1052.41 610.1,1052.06 610.85,1051.82 611.6,1051.71 612.35,1051.75 613.1,1051.96 613.85,1052.31 614.6,1052.8 615.35,1053.39 616.1,1054.08 616.85,1054.83 617.6,1055.63 618.35,1056.48 619.1,1057.85 619.85,1059.83 620.6,1062.25 621.35,1064.93 622.1,1067.68 622.85,1070.34 623.6,1072.73 624.35,1074.66 625.1,1075.97 625.85,1076.52 626.6,1076.85 627.35,1077.15 628.1,1077.43 628.85,1077.67 629.6,1077.87 630.35,1078.04 631.1,1078.17 631.85,1078.25 632.6,1078.3 633.35,1078.14 634.1,1077.25 634.85,1075.79 635.6,1073.99 636.35,1072.08 637.1,1070.3 637.85,1068.88 638.6,1068.02 639.35,1067.37 640.1,1066.74 640.85,1066.14 641.6,1065.59 642.35,1065.08 643.1,1064.64 643.85,1064.26 644.6,1063.96 645.35,1063.74 646.1,1063.62 646.85,1063.61 647.6,1063.71 648.35,1063.93 649.1,1064.25 649.85,1064.65 650.6,1065.11 651.35,1065.62 652.1,1066.16 652.85,1066.72 653.6,1067.28 654.35,1067.82 655.1,1068.34 655.85,1068.92 656.6,1069.59 657.35,1070.32 658.1,1071.1 658.85,1071.89 659.6,1072.68 660.35,1073.43 661.1,1074.13 661.85,1074.75 662.6,1075.28 663.35,1075.67 664.1,1075.93 664.85,1076.11 665.6,1076.29 666.35,1076.46 667.1,1076.62 667.85,1076.76 668.6,1076.9 669.35,1077.03 670.1,1077.14 670.85,1077.24 671.6,1077.32 672.35,1077.39 673.1,1077.44 673.85,1077.48 674.6,1077.5 675.35,1077.47 676.1,1077.25 676.85,1076.84 677.6,1076.27 678.35,1075.58 679.1,1074.8 679.85,1073.97 680.6,1073.12 681.35,1072.3 682.1,1071.53 682.85,1070.86 683.6,1070.32 684.35,1069.94 685.1,1069.61 685.85,1069.29 686.6,1068.98 687.35,1068.68 688.1,1068.42 688.85,1068.19 689.6,1068.01 690.35,1067.88 691.1,1067.81 691.85,1067.81 692.6,1067.91 693.35,1068.1 694.1,1068.37 694.85,1068.7 695.6,1069.08 696.35,1069.5 697.1,1069.95 697.85,1070.42 698.6,1070.88 699.35,1071.4 700.1,1072.13 700.85,1073.02 701.6,1074 702.35,1075.01 703.1,1075.99 703.85,1076.87 704.6,1077.59 705.35,1078.09 706.1,1078.3 706.85,1078.3 707.6,1078.3 708.35,1078.3 709.1,1078.3 709.85,1078.3 710.6,1078.3 711.35,1078.3 712.1,1078.3 712.85,1078.3 713.6,1078.3 714.35,1078.3 715.1,1078.3 715.85,1078.3 716.6,1078.3 717.35,1078.3 718.1,1078.3 718.85,1078.3 719.6,1078.3 720.35,1078.3 721.1,1078.3 721.85,1078.3 722.6,1078.3 723.35,1078.3 724.1,1078.3 724.85,1078.3 725.6,1078.3 726.35,1078.3 727.1,1078.3 727.85,1078.3 728.6,1078.3 729.35,1078.3 730.1,1078.3 730.85,1078.3 731.6,1078.3 732.35,1078.3 733.1,1078.3 733.85,1078.3 734.6,1078.3 735.35,1078.3 736.1,1078.3 736.85,1078.3 737.6,1078.12 738.35,1076.51 739.1,1074.25 739.85,1072.63 740.6,1072.15 741.35,1071.75 742.1,1071.42 742.85,1071.14 743.6,1070.93 744.35,1070.79 745.1,1070.71 745.85,1070.76 746.6,1071.21 747.35,1072.01 748.1,1073 748.85,1074.06 749.6,1075.05 750.35,1075.81 751.1,1076.23 751.85,1076.48 752.6,1076.71 753.35,1076.92 754.1,1077.1 754.85,1077.26 755.6,1077.37 756.35,1077.46 757.1,1077.5 757.85,1077.07 758.6,1074.66 759.35,1070.63 760.1,1065.53 760.85,1059.89 761.6,1054.29 762.35,1049.07 763.1,1043.36 763.85,1037.13 764.6,1030.56 765.35,1023.86 766.1,1017.23 766.85,1010.86 767.6,1004.94 768.35,999.06 769.1,993.07 769.85,987.14 770.6,981.46 771.35,976.23 772.1,971.63 772.85,967.84 773.6,964.78 774.35,962 775.1,959.58 775.85,957.62 776.6,956.2 777.35,955.11 778.1,954.12 778.85,953.31 779.6,952.78 780.35,952.6 781.1,952.76 781.85,953.16 782.6,953.75 783.35,954.48 784.1,955.29 784.85,956.14 785.6,957.18 786.35,958.6 787.1,960.33 787.85,962.29 788.6,964.41 789.35,966.63 790.1,968.85 790.85,971.01 791.6,973.04 792.35,974.86 793.1,976.4 793.85,977.75 794.6,979.06 795.35,980.3 796.1,981.46 796.85,982.54 797.6,983.5 798.35,984.35 799.1,985.07 799.85,985.7 800.6,986.25 801.35,986.75 802.1,987.21 802.85,987.64 803.6,988.07 804.35,988.5 805.1,988.95 805.85,989.44 806.6,989.98 807.35,990.59 808.1,991.29 808.85,992.1 809.6,993 810.35,993.98 811.1,995.04 811.85,996.15 812.6,997.3 813.35,998.48 814.1,999.75 814.85,1001.16 815.6,1002.67 816.35,1004.26 817.1,1005.9 817.85,1007.56 818.6,1009.23 819.35,1010.87 820.1,1012.45 820.85,1013.96 821.6,1015.35 822.35,1016.62 823.1,1017.78 823.85,1018.91 824.6,1019.99 825.35,1021.04 826.1,1022.05 826.85,1023.03 827.6,1023.98 828.35,1024.9 829.1,1025.8 829.85,1026.66 830.6,1027.51 831.35,1028.33 832.1,1029.13 832.85,1029.89 833.6,1030.61 834.35,1031.31 835.1,1031.98 835.85,1032.64 836.6,1033.28 837.35,1033.92 838.1,1034.55 838.85,1035.19 839.6,1035.83 840.35,1036.49 841.1,1037.17 841.85,1037.87 842.6,1038.6 843.35,1039.37 844.1,1040.18 844.85,1041.03 845.6,1041.91 846.35,1042.81 847.1,1043.74 847.85,1044.68 848.6,1045.63 849.35,1046.59 850.1,1047.54 850.85,1048.49 851.6,1049.43 852.35,1050.35 853.1,1051.25 853.85,1052.13 854.6,1052.97 855.35,1053.78 856.1,1054.54 856.85,1055.26 857.6,1055.92 858.35,1056.53 859.1,1057.07 859.85,1057.57 860.6,1058.06 861.35,1058.52 862.1,1058.96 862.85,1059.39 863.6,1059.8 864.35,1060.2 865.1,1060.58 865.85,1060.95 866.6,1061.31 867.35,1061.66 868.1,1062.01 868.85,1062.34 869.6,1062.67 870.35,1063 871.1,1063.32 871.85,1063.64 872.6,1063.96 873.35,1064.29 874.1,1064.61 874.85,1064.94 875.6,1065.27 876.35,1065.61 877.1,1065.96 877.85,1066.32 878.6,1066.69 879.35,1067.08 880.1,1067.49 880.85,1067.9 881.6,1068.32 882.35,1068.75 883.1,1069.18 883.85,1069.62 884.6,1070.04 885.35,1070.47 886.1,1070.88 886.85,1071.29 887.6,1071.68 888.35,1072.06 889.1,1072.42 889.85,1072.76 890.6,1073.08 891.35,1073.36 892.1,1073.63 892.85,1073.86 893.6,1074.05 894.35,1074.21 895.1,1074.33 895.85,1074.41 896.6,1074.48 897.35,1074.54 898.1,1074.6 898.85,1074.66 899.6,1074.72 900.35,1074.77 901.1,1074.83 901.85,1074.88 902.6,1074.92 903.35,1074.97 904.1,1075.01 904.85,1075.05 905.6,1075.09 906.35,1075.12 907.1,1075.16 907.85,1075.19 908.6,1075.21 909.35,1075.23 910.1,1075.25 910.85,1075.27 911.6,1075.28 912.35,1075.29 913.1,1075.3 913.85,1075.3 914.6,1075.29 915.35,1075.25 916.1,1075.18 916.85,1075.08 917.6,1074.96 918.35,1074.81 919.1,1074.64 919.85,1074.45 920.6,1074.24 921.35,1074.02 922.1,1073.78 922.85,1073.52 923.6,1073.25 924.35,1072.97 925.1,1072.69 925.85,1072.39 926.6,1072.09 927.35,1071.78 928.1,1071.48 928.85,1071.17 929.6,1070.87 930.35,1070.56 931.1,1070.26 931.85,1069.97 932.6,1069.69 933.35,1069.4 934.1,1069.11 934.85,1068.82 935.6,1068.52 936.35,1068.21 937.1,1067.89 937.85,1067.57 938.6,1067.23 939.35,1066.89 940.1,1066.53 940.85,1066.16 941.6,1065.78 942.35,1065.38 943.1,1064.96 943.85,1064.53 944.6,1064.08 945.35,1063.61 946.1,1063.12 946.85,1062.6 947.6,1062.05 948.35,1061.42 949.1,1060.7 949.85,1059.92 950.6,1059.08 951.35,1058.19 952.1,1057.25 952.85,1056.27 953.6,1055.25 954.35,1054.21 955.1,1053.15 955.85,1052.08 956.6,1051.01 957.35,1049.94 958.1,1048.88 958.85,1047.84 959.6,1046.82 960.35,1045.83 961.1,1044.89 961.85,1043.99 962.6,1043.14 963.35,1042.35 964.1,1041.62 964.85,1040.93 965.6,1040.28 966.35,1039.66 967.1,1039.07 967.85,1038.49 968.6,1037.92 969.35,1037.36 970.1,1036.8 970.85,1036.23 971.6,1035.65 972.35,1035.05 973.1,1034.42 973.85,1033.76 974.6,1033.06 975.35,1032.32 976.1,1031.52 976.85,1030.66 977.6,1029.73 978.35,1028.72 979.1,1027.65 979.85,1026.53 980.6,1025.35 981.35,1024.14 982.1,1022.88 982.85,1021.6 983.6,1020.3 984.35,1018.88 985.1,1017.28 985.85,1015.54 986.6,1013.71 987.35,1011.83 988.1,1009.95 988.85,1008.11 989.6,1006.37 990.35,1004.76 991.1,1003.33 991.85,1002.13 992.6,1001.2 993.35,1000.46 994.1,999.74 994.85,999.07 995.6,998.46 996.35,997.97 997.1,997.61 997.85,997.42 998.6,997.43 999.35,997.6 1000.1,997.91 1000.85,998.33 1001.6,998.81 1002.35,999.32 1003.1,999.82 1003.85,1000.29 1004.6,1000.84 1005.35,1001.49 1006.1,1002.22 1006.85,1002.96 1007.6,1003.7 1008.35,1004.37 1009.1,1004.95 1009.85,1005.39 1010.6,1005.65 1011.35,1005.68 1012.1,1005.43 1012.85,1004.93 1013.6,1004.21 1014.35,1003.34 1015.1,1002.34 1015.85,1001.28 1016.6,1000.2 1017.35,998.94 1018.1,997.34 1018.85,995.46 1019.6,993.36 1020.35,991.11 1021.1,988.75 1021.85,986.34 1022.6,983.95 1023.35,981.63 1024.1,979.41 1024.85,977.05 1025.6,974.5 1026.35,971.84 1027.1,969.16 1027.85,966.56 1028.6,964.11 1029.35,961.91 1030.1,960.05 1030.85,958.6 1031.6,957.59 1032.35,956.66 1033.1,955.8 1033.85,955.02 1034.6,954.37 1035.35,953.88 1036.1,953.58 1036.85,953.5 1037.6,953.52 1038.35,953.58 1039.1,953.65 1039.85,953.74 1040.6,953.85 1041.35,953.96 1042.1,954.07 1042.85,954.17 1043.6,954.26 1044.35,954.33 1045.1,954.38 1045.85,954.4 1046.6,954.19 1047.35,953.55 1048.1,952.53 1048.85,951.2 1049.6,949.63 1050.35,947.86 1051.1,945.98 1051.85,943.81 1052.6,940.61 1053.35,936.54 1054.1,931.86 1054.85,926.85 1055.6,921.75 1056.35,916.84 1057.1,912.29 1057.85,907.42 1058.6,902.27 1059.35,897.08 1060.1,892.1 1060.85,887.59 1061.6,883.79 1062.35,880.94 1063.1,878.57 1063.85,876.34 1064.6,874.5 1065.35,873.27 1066.1,872.91 1066.85,873.35 1067.6,874.38 1068.35,875.88 1069.1,877.7 1069.85,879.75 1070.6,883 1071.35,887.72 1072.1,893.6 1072.85,900.32 1073.6,907.56 1074.35,915.01 1075.1,922.35 1075.85,929.84 1076.6,938.17 1077.35,947.09 1078.1,956.35 1078.85,965.68 1079.6,974.83 1080.35,983.55 1081.1,991.73 1081.85,999.97 1082.6,1008.2 1083.35,1016.27 1084.1,1023.98 1084.85,1031.18 1085.6,1037.7 1086.35,1043.38 1087.1,1048.93 1087.85,1054.51 1088.6,1059.82 1089.35,1064.56 1090.1,1068.46 1090.85,1071.2 1091.6,1072.5 1092.35,1072.96 1093.1,1073.37 1093.85,1073.73 1094.6,1074.05 1095.35,1074.31 1096.1,1074.53 1096.85,1074.69 1097.6,1074.81 1098.35,1074.88 1099.1,1074.9 1099.85,1074.82 1100.6,1074.64 1101.35,1074.36 1102.1,1073.99 1102.85,1073.56 1103.6,1073.07 1104.35,1072.54 1105.1,1071.98 1105.85,1071.41 1106.6,1070.83 1107.35,1070.27 1108.1,1069.73 1108.85,1069.23 1109.6,1068.78 1110.35,1068.4 1111.1,1068.1 1111.85,1067.89 1112.6,1067.74 1113.35,1067.61 1114.1,1067.5 1114.85,1067.41 1115.6,1067.32 1116.35,1067.23 1117.1,1067.15 1117.85,1067.05 1118.6,1066.95 1119.35,1066.82 1120.1,1066.68 1120.85,1066.52 1121.6,1066.36 1122.35,1066.18 1123.1,1065.98 1123.85,1065.76 1124.6,1065.51 1125.35,1065.24 1126.1,1064.92 1126.85,1064.57 1127.6,1064.17 1128.35,1063.64 1129.1,1062.68 1129.85,1061.33 1130.6,1059.68 1131.35,1057.82 1132.1,1055.83 1132.85,1053.8 1133.6,1051.81 1134.35,1049.95 1135.1,1048.31 1135.85,1046.98 1136.6,1045.82 1137.35,1044.64 1138.1,1043.45 1138.85,1042.28 1139.6,1041.14 1140.35,1040.07 1141.1,1039.09 1141.85,1038.21 1142.6,1037.48 1143.35,1036.9 1144.1,1036.5 1144.85,1036.31 1145.6,1036.37 1146.35,1036.72 1147.1,1037.32 1147.85,1038.13 1148.6,1039.12 1149.35,1040.24 1150.1,1041.46 1150.85,1042.74 1151.6,1044.03 1152.35,1045.55 1153.1,1047.65 1153.85,1050.21 1154.6,1053.11 1155.35,1056.23 1156.1,1059.45 1156.85,1062.65 1157.6,1065.71 1158.35,1068.52 1159.1,1070.95 1159.85,1072.88 1160.6,1074.19 1161.35,1074.86 1162.1,1075.38 1162.85,1075.87 1163.6,1076.3 1164.35,1076.69 1165.1,1077 1165.85,1077.25 1166.6,1077.42 1167.35,1077.49 1168.1,1077.44 1168.85,1077.13 1169.6,1076.6 1170.35,1075.89 1171.1,1075.04 1171.85,1074.09 1172.6,1073.09 1173.35,1072.07 1174.1,1071.09 1174.85,1070.17 1175.6,1069.36 1176.35,1068.7 1177.1,1068.24 1177.85,1068.02 1178.6,1068.01 1179.35,1068.05 1180.1,1068.11 1180.85,1068.2 1181.6,1068.32 1182.35,1068.46 1183.1,1068.61 1183.85,1068.78 1184.6,1068.95 1185.35,1069.14 1186.1,1069.33 1186.85,1069.6 1187.6,1070 1188.35,1070.49 1189.1,1071.06 1189.85,1071.67 1190.6,1072.32 1191.35,1072.98 1192.1,1073.62 1192.85,1074.22 1193.6,1074.77 1194.35,1075.23 1195.1,1075.59 1195.85,1075.82 1196.6,1075.9 1197.35,1075.9 1198.1,1075.89 1198.85,1075.88 1199.6,1075.87 1200.35,1075.85 1201.1,1075.82 1201.85,1075.8 1202.6,1075.77 1203.35,1075.73 1204.1,1075.7 1204.85,1075.65 1205.6,1075.61 1206.35,1075.57 1207.1,1075.52 1207.85,1075.47 1208.6,1075.41 1209.35,1075.35 1210.1,1075.3 1210.85,1075.24 1211.6,1075.17 1212.35,1075.11 1213.1,1075.04 1213.85,1074.98 1214.6,1074.91 1215.35,1074.84 1216.1,1074.76 1216.85,1074.69 1217.6,1074.62 1218.35,1074.54 1219.1,1074.46 1219.85,1074.38 1220.6,1074.28 1221.35,1074.18 1222.1,1074.07 1222.85,1073.96 1223.6,1073.83 1224.35,1073.7 1225.1,1073.56 1225.85,1073.41 1226.6,1073.24 1227.35,1073.07 1228.1,1072.89 1228.85,1072.7 1229.6,1072.49 1230.35,1072.28 1231.1,1072.05 1231.85,1071.81 1232.6,1071.56 1233.35,1071.29 1234.1,1070.97 1234.85,1070.44 1235.6,1069.73 1236.35,1068.87 1237.1,1067.88 1237.85,1066.79 1238.6,1065.63 1239.35,1064.42 1240.1,1063.2 1240.85,1061.99 1241.6,1060.82 1242.35,1059.72 1243.1,1058.72 1243.85,1057.84 1244.6,1057.11 1245.35,1056.55 1246.1,1056.21 1246.85,1056.1 1247.6,1056.12 1248.35,1056.17 1249.1,1056.25 1249.85,1056.36 1250.6,1056.49 1251.35,1056.64 1252.1,1056.8 1252.85,1056.98 1253.6,1057.16 1254.35,1057.35 1255.1,1057.54 1255.85,1057.73 1256.6,1057.91 1257.35,1058.09 1258.1,1058.25 1258.85,1058.4 1259.6,1058.53 1260.35,1058.64 1261.1,1058.72 1261.85,1058.78 1262.6,1058.8 1263.35,1058.69 1264.1,1058.31 1264.85,1057.67 1265.6,1056.81 1266.35,1055.74 1267.1,1054.48 1267.85,1053.07 1268.6,1051.52 1269.35,1049.86 1270.1,1048.11 1270.85,1046.21 1271.6,1043.27 1272.35,1039.22 1273.1,1034.31 1273.85,1028.79 1274.6,1022.93 1275.35,1016.97 1276.1,1011.18 1276.85,1005.8 1277.6,1001.1 1278.35,997.32 1279.1,994.26 1279.85,991.14 1280.6,988.14 1281.35,985.43 1282.1,983.18 1282.85,981.59 1283.6,980.84 1284.35,981.1 1285.1,982.4 1285.85,984.56 1286.6,987.38 1287.35,990.7 1288.1,994.32 1288.85,998.06 1289.6,1002.08 1290.35,1007.28 1291.1,1013.44 1291.85,1020.25 1292.6,1027.42 1293.35,1034.62 1294.1,1041.56 1294.85,1048.49 1295.6,1056.85 1296.35,1065.45 1297.1,1072.8 1297.85,1077.44 1298.6,1077.03 1299.35,1064.19 1300.1,1041.13 1300.85,1012.32 1301.6,982.25 1302.35,955.38 1303.1,929.85 1303.85,902.68 1304.6,874.73 1305.35,846.84 1306.1,819.87 1306.85,794.67 1307.6,772.1 1308.35,750.68 1309.1,729.36 1309.85,709.68 1310.6,693.15 1311.35,681.28 1312.1,673.51 1312.85,666.48 1313.6,660.51 1314.35,656.05 1315.1,653.57 1315.85,653.39 1316.6,654.99 1317.35,657.98 1318.1,662.08 1318.85,666.99 1319.6,672.5 1320.35,681.78 1321.1,695.48 1321.85,711.76 1322.6,728.79 1323.35,744.72 1324.1,759.79 1324.85,775.66 1325.6,791.85 1326.35,807.86 1327.1,823.21 1327.85,837.38 1328.6,849.88 1329.35,861.13 1330.1,872.2 1330.85,882.79 1331.6,892.58 1332.35,901.25 1333.1,908.48 1333.85,913.95 1334.6,917.92 1335.35,921.47 1336.1,924.62 1336.85,927.35 1337.6,929.67 1338.35,931.55 1339.1,932.99 1339.85,934.05 1340.6,934.91 1341.35,935.63 1342.1,936.22 1342.85,936.73 1343.6,937.19 1344.35,937.63 1345.1,938.09 1345.85,938.58 1346.6,939.16 1347.35,939.85 1348.1,940.69 1348.85,941.72 1349.6,943.11 1350.35,944.82 1351.1,946.82 1351.85,949.03 1352.6,951.39 1353.35,953.86 1354.1,956.38 1354.85,958.88 1355.6,961.4 1356.35,964.16 1357.1,967.13 1357.85,970.25 1358.6,973.46 1359.35,976.71 1360.1,979.93 1360.85,983.07 1361.6,986.06 1362.35,988.86 1363.1,991.4 1363.85,993.89 1364.6,996.53 1365.35,999.23 1366.1,1001.9 1366.85,1004.45 1367.6,1006.8 1368.35,1008.85 1369.1,1010.53 1369.85,1011.75 1370.6,1012.4 1371.35,1012.5 1372.1,1012.5 1372.85,1012.5 1373.6,1012.5 1374.35,1012.5 1375.1,1012.5 1375.85,1012.5 1376.6,1012.5 1377.35,1012.5 1378.1,1012.42 1378.85,1012.06 1379.6,1011.45 1380.35,1010.66 1381.1,1009.76 1381.85,1008.82 1382.6,1007.92 1383.35,1007.1 1384.1,1006.45 1384.85,1006.03 1385.6,1005.9 1386.35,1006.07 1387.1,1006.46 1387.85,1007.05 1388.6,1007.81 1389.35,1008.69 1390.1,1009.67 1390.85,1010.72 1391.6,1011.79 1392.35,1012.88 1393.1,1014.24 1393.85,1015.93 1394.6,1017.89 1395.35,1020.06 1396.1,1022.39 1396.85,1024.83 1397.6,1027.32 1398.35,1029.82 1399.1,1032.26 1399.85,1034.6 1400.6,1036.78 1401.35,1038.76 1402.1,1040.46 1402.85,1041.86 1403.6,1043.11 1404.35,1044.32 1405.1,1045.48 1405.85,1046.6 1406.6,1047.66 1407.35,1048.68 1408.1,1049.64 1408.85,1050.56 1409.6,1051.41 1410.35,1052.21 1411.1,1052.96 1411.85,1053.64 1412.6,1054.27 1413.35,1054.84 1414.1,1055.35 1414.85,1055.82 1415.6,1056.25 1416.35,1056.65 1417.1,1057.02 1417.85,1057.37 1418.6,1057.71 1419.35,1058.04 1420.1,1058.36 1420.85,1058.69 1421.6,1059.02 1422.35,1059.37 1423.1,1059.74 1423.85,1060.13 1424.6,1060.55 1425.35,1061 1426.1,1061.48 1426.85,1061.98 1427.6,1062.5 1428.35,1063.04 1429.1,1063.58 1429.85,1064.12 1430.6,1064.66 1431.35,1065.19 1432.1,1065.72 1432.85,1066.22 1433.6,1066.71 1434.35,1067.17 1435.1,1067.6 1435.85,1068 1436.6,1068.35 1437.35,1068.66 1438.1,1068.93 1438.85,1069.13 1439.6,1069.28 1440.35,1069.4 1441.1,1069.5 1441.85,1069.61 1442.6,1069.71 1443.35,1069.81 1444.1,1069.9 1444.85,1070 1445.6,1070.09 1446.35,1070.17 1447.1,1070.26 1447.85,1070.34 1448.6,1070.41 1449.35,1070.49 1450.1,1070.56 1450.85,1070.63 1451.6,1070.69 1452.35,1070.75 1453.1,1070.81 1453.85,1070.86 1454.6,1070.91 1455.35,1070.96 1456.1,1071 1456.85,1071.04 1457.6,1071.07 1458.35,1071.1 1459.1,1071.13 1459.85,1071.15 1460.6,1071.17 1461.35,1071.18 1462.1,1071.19 1462.85,1071.2 1463.6,1071.2 1464.35,1071.19 1465.1,1071.15 1465.85,1071.09 1466.6,1071.02 1467.35,1070.92 1468.1,1070.8 1468.85,1070.67 1469.6,1070.52 1470.35,1070.36 1471.1,1070.17 1471.85,1069.98 1472.6,1069.76 1473.35,1069.54 1474.1,1069.3 1474.85,1069.05 1475.6,1068.79 1476.35,1068.52 1477.1,1068.24 1477.85,1067.95 1478.6,1067.65 1479.35,1067.35 1480.1,1067.04 1480.85,1066.72 1481.6,1066.4 1482.35,1066.07 1483.1,1065.74 1483.85,1065.41 1484.6,1065.07 1485.35,1064.73 1486.1,1064.39 1486.85,1064.06 1487.6,1063.72 1488.35,1063.38 1489.1,1063.05 1489.85,1062.72 1490.6,1062.39 1491.35,1062.04 1492.1,1061.67 1492.85,1061.29 1493.6,1060.89 1494.35,1060.47 1495.1,1060.03 1495.85,1059.58 1496.6,1059.1 1497.35,1058.61 1498.1,1058.1 1498.85,1057.56 1499.6,1057.01 1500.35,1056.42 1501.1,1055.79 1501.85,1055.09 1502.6,1054.36 1503.35,1053.57 1504.1,1052.76 1504.85,1051.91 1505.6,1051.03 1506.35,1050.14 1507.1,1049.24 1507.85,1048.33 1508.6,1047.42 1509.35,1046.52 1510.1,1045.56 1510.85,1044.54 1511.6,1043.47 1512.35,1042.35 1513.1,1041.22 1513.85,1040.07 1514.6,1038.92 1515.35,1037.8 1516.1,1036.7 1516.85,1035.66 1517.6,1034.67 1518.35,1033.76 1519.1,1032.93 1519.85,1032.21 1520.6,1031.59 1521.35,1030.99 1522.1,1030.42 1522.85,1029.88 1523.6,1029.37 1524.35,1028.89 1525.1,1028.46 1525.85,1028.07 1526.6,1027.74 1527.35,1027.45 1528.1,1027.21 1528.85,1027 1529.6,1026.82 1530.35,1026.66 1531.1,1026.52 1531.85,1026.39 1532.6,1026.27 1533.35,1026.16 1534.1,1026.05 1534.85,1025.94 1535.6,1025.82 1536.35,1025.69 1537.1,1025.55 1537.85,1025.39 1538.6,1025.21 1539.35,1025 1540.1,1024.77 1540.85,1024.49 1541.6,1024.14 1542.35,1023.73 1543.1,1023.25 1543.85,1022.71 1544.6,1022.11 1545.35,1021.46 1546.1,1020.75 1546.85,1020 1547.6,1019.2 1548.35,1018.23 1549.1,1017.01 1549.85,1015.58 1550.6,1014 1551.35,1012.32 1552.1,1010.58 1552.85,1008.85 1553.6,1007.16 1554.35,1005.57 1555.1,1004.13 1555.85,1002.7 1556.6,1001.26 1557.35,999.81 1558.1,998.38 1558.85,997 1559.6,995.67 1560.35,994.42 1561.1,993.28 1561.85,992.25 1562.6,991.36 1563.35,990.57 1564.1,989.85 1564.85,989.19 1565.6,988.57 1566.35,987.98 1567.1,987.39 1567.85,986.8 1568.6,986.19 1569.35,985.53 1570.1,984.84 1570.85,984.18 1571.6,983.53 1572.35,982.87 1573.1,982.2 1573.85,981.5 1574.6,980.76 1575.35,979.94 1576.1,979.05 1576.85,978.07 1577.6,976.95 1578.35,975.67 1579.1,974.23 1579.85,972.64 1580.6,970.89 1581.35,968.99 1582.1,966.95 1582.85,964.69 1583.6,961.93 1584.35,958.76 1585.1,955.31 1585.85,951.73 1586.6,948.13 1587.35,944.68 1588.1,941.46 1588.85,938.24 1589.6,934.94 1590.35,931.66 1591.1,928.49 1591.85,925.5 1592.6,922.79 1593.35,920.44 1594.1,918.26 1594.85,916.01 1595.6,913.9 1596.35,912.1 1597.1,910.81 1597.85,910.22 1598.6,910.34 1599.35,910.88 1600.1,911.77 1600.85,912.96 1601.6,914.4 1602.35,916.03 1603.1,918.18 1603.85,921.9 1604.6,926.77 1605.35,932.26 1606.1,937.87 1606.85,943.62 1607.6,950.03 1608.35,956.9 1609.1,964.01 1609.85,971.13 1610.6,978.44 1611.35,986.16 1612.1,993.93 1612.85,1001.4 1613.6,1008.2 1614.35,1014.4 1615.1,1020.3 1615.85,1025.92 1616.6,1031.27 1617.35,1036.36 1618.1,1041.2 1618.85,1046.14 1619.6,1051.37 1620.35,1056.65 1621.1,1061.74 1621.85,1066.4 1622.6,1070.4 1623.35,1073.51 1624.1,1075.49 1624.85,1076.26 1625.6,1076.77 1626.35,1077.23 1627.1,1077.61 1627.85,1077.91 1628.6,1078.13 1629.35,1078.26 1630.1,1078.3 1630.85,1078.29 1631.6,1078.27 1632.35,1078.24 1633.1,1078.19 1633.85,1078.14 1634.6,1078.07 1635.35,1078 1636.1,1077.92 1636.85,1077.83 1637.6,1077.73 1638.35,1077.62 1639.1,1077.52 1639.85,1077.35 1640.6,1077.08 1641.35,1076.71 1642.1,1076.27 1642.85,1075.77 1643.6,1075.23 1644.35,1074.69 1645.1,1074.14 1645.85,1073.62 1646.6,1073.14 1647.35,1072.73 1648.1,1072.4 1648.85,1072.16 1649.6,1071.96 1650.35,1071.78 1651.1,1071.62 1651.85,1071.48 1652.6,1071.35 1653.35,1071.24 1654.1,1071.13 1654.85,1071.01 1655.6,1070.9 1656.35,1070.78 1657.1,1070.65 1657.85,1070.51 1658.6,1070.35 1659.35,1070.17 1660.1,1069.96 1660.85,1069.72 1661.6,1069.44 1662.35,1069.03 1663.1,1068.52 1663.85,1067.91 1664.6,1067.23 1665.35,1066.49 1666.1,1065.71 1666.85,1064.92 1667.6,1064.13 1668.35,1063.35 1669.1,1062.55 1669.85,1061.6 1670.6,1060.54 1671.35,1059.4 1672.1,1058.22 1672.85,1057.03 1673.6,1055.86 1674.35,1054.75 1675.1,1053.73 1675.85,1052.84 1676.6,1052.11 1677.35,1051.57 1678.1,1051.26 1678.85,1051.21 1679.6,1051.32 1680.35,1051.55 1681.1,1051.89 1681.85,1052.32 1682.6,1052.84 1683.35,1053.43 1684.1,1054.07 1684.85,1054.76 1685.6,1055.77 1686.35,1057.57 1687.1,1059.98 1687.85,1062.78 1688.6,1065.77 1689.35,1068.72 1690.1,1071.43 1690.85,1073.7 1691.6,1075.29 1692.35,1076.02 1693.1,1076.29 1693.85,1076.54 1694.6,1076.77 1695.35,1076.96 1696.1,1077.13 1696.85,1077.27 1697.6,1077.38 1698.35,1077.45 1699.1,1077.49 1699.85,1077.44 1700.6,1076.66 1701.35,1075.13 1702.1,1073.09 1702.85,1070.77 1703.6,1068.4 1704.35,1066.22 1705.1,1064.45 1705.85,1063.33 1706.6,1062.78 1707.35,1062.27 1708.1,1061.82 1708.85,1061.41 1709.6,1061.06 1710.35,1060.77 1711.1,1060.56 1711.85,1060.44 1712.6,1060.4 1713.35,1060.5 1714.1,1060.74 1714.85,1061.09 1715.6,1061.55 1716.35,1062.09 1717.1,1062.68 1717.85,1063.31 1718.6,1063.97 1719.35,1064.62 1720.1,1065.27 1720.85,1066.13 1721.6,1067.18 1722.35,1068.35 1723.1,1069.58 1723.85,1070.79 1724.6,1071.91 1725.35,1072.87 1726.1,1073.6 1726.85,1074.03 1727.6,1074.19 1728.35,1074.31 1729.1,1074.43 1729.85,1074.53 1730.6,1074.63 1731.35,1074.72 1732.1,1074.8 1732.85,1074.87 1733.6,1074.93 1734.35,1074.98 1735.1,1075.02 1735.85,1075.06 1736.6,1075.08 1737.35,1075.1 1738.1,1075.1 1738.85,1075.01 1739.6,1074.77 1740.35,1074.4 1741.1,1073.93 1741.85,1073.38 1742.6,1072.79 1743.35,1072.17 1744.1,1071.55 1744.85,1070.97 1745.6,1070.44 1746.35,1070 1747.1,1069.67 1747.85,1069.43 1748.6,1069.2 1749.35,1068.97 1750.1,1068.76 1750.85,1068.55 1751.6,1068.36 1752.35,1068.18 1753.1,1068.03 1753.85,1067.9 1754.6,1067.81 1755.35,1067.74 1756.1,1067.7 1756.85,1067.71 1757.6,1067.78 1758.35,1067.91 1759.1,1068.09 1759.85,1068.31 1760.6,1068.56 1761.35,1068.84 1762.1,1069.13 1762.85,1069.43 1763.6,1069.74 1764.35,1070.04 1765.1,1070.32 1765.85,1070.59 1766.6,1070.87 1767.35,1071.18 1768.1,1071.5 1768.85,1071.84 1769.6,1072.18 1770.35,1072.52 1771.1,1072.85 1771.85,1073.16 1772.6,1073.45 1773.35,1073.72 1774.1,1073.95 1774.85,1074.13 1775.6,1074.31 1776.35,1074.48 1777.1,1074.66 1777.85,1074.83 1778.6,1074.99 1779.35,1075.16 1780.1,1075.31 1780.85,1075.46 1781.6,1075.61 1782.35,1075.75 1783.1,1075.87 1783.85,1075.99 1784.6,1076.1 1785.35,1076.2 1786.1,1076.28 1786.85,1076.36 1787.6,1076.42 1788.35,1076.46 1789.1,1076.49 1789.85,1076.5 1790.6,1076.5 1791.35,1076.5 1792.1,1076.5 1792.85,1076.5 1793.6,1076.5 1794.35,1076.5 1795.1,1076.5 1795.85,1076.5 1796.6,1076.5 1797.35,1076.5 1798.1,1076.5 1798.85,1076.5 1799.6,1076.5 1800.35,1076.5 1801.1,1076.5 1801.85,1076.5 1802.6,1076.47 1803.35,1076.3 1804.1,1075.98 1804.85,1075.57 1805.6,1075.08 1806.35,1074.57 1807.1,1074.05 1807.85,1073.57 1808.6,1073.17 1809.35,1072.87 1810.1,1072.71 1810.85,1072.81 1811.6,1073.4 1812.35,1074.31 1813.1,1075.33 1813.85,1076.25 1814.6,1076.87 1815.35,1077.04 1816.1,1077.12 1816.85,1077.19 1817.6,1077.25 1818.35,1077.31 1819.1,1077.35 1819.85,1077.39 1820.6,1077.43 1821.35,1077.46 1822.1,1077.48 1822.85,1077.49 1823.6,1077.5 1824.35,1077.45 1825.1,1075.93 1825.85,1072.61 1826.6,1067.96 1827.35,1062.45 1828.1,1056.54 1828.85,1050.72 1829.6,1045.44 1830.35,1040.64 1831.1,1035.68 1831.85,1030.62 1832.6,1025.5 1833.35,1020.39 1834.1,1015.34 1834.85,1010.43 1835.6,1005.63 1836.35,1000.63 1837.1,995.53 1837.85,990.51 1838.6,985.74 1839.35,981.4 1840.1,977.65 1840.85,974.65 1841.6,971.91 1842.35,969.19 1843.1,966.61 1843.85,964.25 1844.6,962.19 1845.35,960.55 1846.1,959.4 1846.85,958.84 1847.6,958.84 1848.35,959.07 1849.1,959.46 1849.85,960.01 1850.6,960.69 1851.35,961.48 1852.1,962.37 1852.85,963.33 1853.6,964.35 1854.35,965.93 1855.1,968.23 1855.85,971 1856.6,974.02 1857.35,977.05 1858.1,979.86 1858.85,982.21 1859.6,984.12 1860.35,986.02 1861.1,987.87 1861.85,989.66 1862.6,991.34 1863.35,992.9 1864.1,994.3 1864.85,995.51 1865.6,996.5 1866.35,997.24 1867.1,997.82 1867.85,998.32 1868.6,998.76 1869.35,999.15 1870.1,999.49 1870.85,999.8 1871.6,1000.08 1872.35,1000.36 1873.1,1000.64 1873.85,1000.93 1874.6,1001.24 1875.35,1001.58 1876.1,1001.97 1876.85,1002.41 1877.6,1002.91 1878.35,1003.46 1879.1,1004.06 1879.85,1004.71 1880.6,1005.41 1881.35,1006.16 1882.1,1006.96 1882.85,1007.81 1883.6,1008.71 1884.35,1009.67 1885.1,1010.72 1885.85,1011.97 1886.6,1013.4 1887.35,1014.95 1888.1,1016.59 1888.85,1018.27 1889.6,1019.95 1890.35,1021.6 1891.1,1023.17 1891.85,1024.61 1892.6,1025.98 1893.35,1027.38 1894.1,1028.78 1894.85,1030.17 1895.6,1031.54 1896.35,1032.85 1897.1,1034.1 1897.85,1035.27 1898.6,1036.34 1899.35,1037.29 1900.1,1038.1 1900.85,1038.8 1901.6,1039.45 1902.35,1040.04 1903.1,1040.59 1903.85,1041.1 1904.6,1041.58 1905.35,1042.05 1906.1,1042.5 1906.85,1042.95 1907.6,1043.4 1908.35,1043.87 1909.1,1044.36 1909.85,1044.87 1910.6,1045.37 1911.35,1045.87 1912.1,1046.36 1912.85,1046.84 1913.6,1047.33 1914.35,1047.81 1915.1,1048.3 1915.85,1048.79 1916.6,1049.28 1917.35,1049.79 1918.1,1050.31 1918.85,1050.83 1919.6,1051.38 1920.35,1051.94 1921.1,1052.53 1921.85,1053.15 1922.6,1053.81 1923.35,1054.49 1924.1,1055.19 1924.85,1055.9 1925.6,1056.63 1926.35,1057.36 1927.1,1058.1 1927.85,1058.83 1928.6,1059.56 1929.35,1060.27 1930.1,1060.97 1930.85,1061.64 1931.6,1062.29 1932.35,1062.9 1933.1,1063.48 1933.85,1064.02 1934.6,1064.52 1935.35,1064.97 1936.1,1065.41 1936.85,1065.85 1937.6,1066.28 1938.35,1066.7 1939.1,1067.12 1939.85,1067.52 1940.6,1067.92 1941.35,1068.31 1942.1,1068.69 1942.85,1069.06 1943.6,1069.42 1944.35,1069.77 1945.1,1070.1 1945.85,1070.43 1946.6,1070.74 1947.35,1071.04 1948.1,1071.33 1948.85,1071.6 1949.6,1071.86 1950.35,1072.1 1951.1,1072.33 1951.85,1072.54 1952.6,1072.73 1953.35,1072.91 1954.1,1073.08 1954.85,1073.25 1955.6,1073.42 1956.35,1073.59 1957.1,1073.76 1957.85,1073.92 1958.6,1074.08 1959.35,1074.23 1960.1,1074.38 1960.85,1074.53 1961.6,1074.67 1962.35,1074.8 1963.1,1074.93 1963.85,1075.05 1964.6,1075.16 1965.35,1075.26 1966.1,1075.36 1966.85,1075.44 1967.6,1075.51 1968.35,1075.57 1969.1,1075.62 1969.85,1075.66 1970.6,1075.69 1971.35,1075.7 1972.1,1075.7 1972.85,1075.7 1973.6,1075.7 1974.35,1075.7 1975.1,1075.7 1975.85,1075.7 1976.6,1075.7 1977.35,1075.7 1978.1,1075.7 1978.85,1075.7 1979.6,1075.7 1980.35,1075.7 1981.1,1075.7 1981.85,1075.7 1982.6,1075.7 1983.35,1075.7 1984.1,1075.7 1984.85,1075.7 1985.6,1075.7 1986.35,1075.7 1987.1,1075.7 1987.85,1075.7 1988.6,1075.7 1989.35,1075.7 1990.1,1075.7 1990.85,1075.67 1991.6,1075.62 1992.35,1075.53 1993.1,1075.42 1993.85,1075.28 1994.6,1075.12 1995.35,1074.94 1996.1,1074.74 1996.85,1074.51 1997.6,1074.28 1998.35,1074.02 1999.1,1073.76 1999.85,1073.48 2000.6,1073.2 2001.35,1072.9 2002.1,1072.61 2002.85,1072.3 2003.6,1072 2004.35,1071.7 2005.1,1071.39 2005.85,1071.09 2006.6,1070.8 2007.35,1070.51 2008.1,1070.24 2008.85,1069.96 2009.6,1069.68 2010.35,1069.4 2011.1,1069.11 2011.85,1068.81 2012.6,1068.51 2013.35,1068.21 2014.1,1067.9 2014.85,1067.58 2015.6,1067.25 2016.35,1066.92 2017.1,1066.59 2017.85,1066.25 2018.6,1065.9 2019.35,1065.55 2020.1,1065.19 2020.85,1064.83 2021.6,1064.46 2022.35,1064.08 2023.1,1063.7 2023.85,1063.32 2024.6,1062.92 2025.35,1062.52 2026.1,1062.12 2026.85,1061.71 2027.6,1061.28 2028.35,1060.84 2029.1,1060.39 2029.85,1059.93 2030.6,1059.46 2031.35,1058.98 2032.1,1058.48 2032.85,1057.98 2033.6,1057.46 2034.35,1056.94 2035.1,1056.41 2035.85,1055.88 2036.6,1055.34 2037.35,1054.79 2038.1,1054.23 2038.85,1053.67 2039.6,1053.11 2040.35,1052.55 2041.1,1051.98 2041.85,1051.39 2042.6,1050.78 2043.35,1050.15 2044.1,1049.5 2044.85,1048.83 2045.6,1048.14 2046.35,1047.45 2047.1,1046.76 2047.85,1046.07 2048.6,1045.38 2049.35,1044.7 2050.1,1044.03 2050.85,1043.38 2051.6,1042.74 2052.35,1042.13 2053.1,1041.55 2053.85,1041.01 2054.6,1040.48 2055.35,1039.94 2056.1,1039.4 2056.85,1038.86 2057.6,1038.33 2058.35,1037.81 2059.1,1037.33 2059.85,1036.87 2060.6,1036.45 2061.35,1036.08 2062.1,1035.76 2062.85,1035.5 2063.6,1035.3 2064.35,1035.13 2065.1,1034.98 2065.85,1034.86 2066.6,1034.75 2067.35,1034.65 2068.1,1034.56 2068.85,1034.47 2069.6,1034.38 2070.35,1034.28 2071.1,1034.18 2071.85,1034.06 2072.6,1033.93 2073.35,1033.78 2074.1,1033.6 2074.85,1033.38 2075.6,1033.13 2076.35,1032.83 2077.1,1032.49 2077.85,1032.12 2078.6,1031.71 2079.35,1031.28 2080.1,1030.82 2080.85,1030.34 2081.6,1029.83 2082.35,1029.24 2083.1,1028.54 2083.85,1027.75 2084.6,1026.88 2085.35,1025.95 2086.1,1024.97 2086.85,1023.96 2087.6,1022.94 2088.35,1021.93 2089.1,1020.93 2089.85,1019.97 2090.6,1019.06 2091.35,1018.22 2092.1,1017.46 2092.85,1016.8 2093.6,1016.18 2094.35,1015.6 2095.1,1015.05 2095.85,1014.52 2096.6,1014.01 2097.35,1013.51 2098.1,1013.03 2098.85,1012.54 2099.6,1012.05 2100.35,1011.56 2101.1,1011.05 2101.85,1010.53 2102.6,1010.02 2103.35,1009.54 2104.1,1009.07 2104.85,1008.6 2105.6,1008.14 2106.35,1007.66 2107.1,1007.17 2107.85,1006.65 2108.6,1006.09 2109.35,1005.5 2110.1,1004.85 2110.85,1004.15 2111.6,1003.37 2112.35,1002.5 2113.1,1001.55 2113.85,1000.52 2114.6,999.41 2115.35,998.22 2116.1,996.97 2116.85,995.64 2117.6,994.26 2118.35,992.79 2119.1,990.96 2119.85,988.81 2120.6,986.5 2121.35,984.18 2122.1,981.99 2122.85,980.08 2123.6,978.6 2124.35,977.38 2125.1,976.18 2125.85,975.01 2126.6,973.91 2127.35,972.9 2128.1,972.03 2128.85,971.31 2129.6,970.78 2130.35,970.47 2131.1,970.41 2131.85,970.57 2132.6,970.94 2133.35,971.49 2134.1,972.21 2134.85,973.08 2135.6,974.09 2136.35,975.22 2137.1,976.46 2137.85,978.16 2138.6,981.13 2139.35,985.06 2140.1,989.57 2140.85,994.3 2141.6,998.89 2142.35,1003.15 2143.1,1007.62 2143.85,1012.27 2144.6,1016.99 2145.35,1021.69 2146.1,1026.27 2146.85,1030.61 2147.6,1034.65 2148.35,1038.58 2149.1,1042.45 2149.85,1046.22 2150.6,1049.82 2151.35,1053.19 2152.1,1056.28 2152.85,1059.03 2153.6,1061.61 2154.35,1064.23 2155.1,1066.77 2155.85,1069.09 2156.6,1071.08 2157.35,1072.63 2158.1,1073.6 2158.85,1074.01 2159.6,1074.33 2160.35,1074.61 2161.1,1074.86 2161.85,1075.07 2162.6,1075.24 2163.35,1075.37 2164.1,1075.46 2164.85,1075.5 2165.6,1075.46 2166.35,1075.25 2167.1,1074.92 2167.85,1074.49 2168.6,1074 2169.35,1073.49 2170.1,1073 2170.85,1072.49 2171.6,1071.91 2172.35,1071.27 2173.1,1070.58 2173.85,1069.86 2174.6,1069.12 2175.35,1068.37 2176.1,1067.64 2176.85,1066.92 2177.6,1066.25 2178.35,1065.63 2179.1,1065.07 2179.85,1064.56 2180.6,1064.05 2181.35,1063.56 2182.1,1063.09 2182.85,1062.65 2183.6,1062.25 2184.35,1061.91 2185.1,1061.63 2185.85,1061.41 2186.6,1061.24 2187.35,1061.09 2188.1,1060.97 2188.85,1060.85 2189.6,1060.74 2190.35,1060.62 2191.1,1060.49 2191.85,1060.33 2192.6,1060.13 2193.35,1059.88 2194.1,1059.52 2194.85,1059.01 2195.6,1058.38 2196.35,1057.64 2197.1,1056.82 2197.85,1055.95 2198.6,1055 2199.35,1053.78 2200.1,1052.29 2200.85,1050.64 2201.6,1048.91 2202.35,1047.19 2203.1,1045.58 2203.85,1044.16 2204.6,1043.02 2205.35,1041.94 2206.1,1040.87 2206.85,1039.87 2207.6,1039 2208.35,1038.32 2209.1,1037.89 2209.85,1037.71 2210.6,1037.56 2211.35,1037.45 2212.1,1037.36 2212.85,1037.31 2213.6,1037.31 2214.35,1037.51 2215.1,1037.94 2215.85,1038.55 2216.6,1039.29 2217.35,1040.13 2218.1,1041.25 2218.85,1043.02 2219.6,1045.24 2220.35,1047.69 2221.1,1050.16 2221.85,1052.47 2222.6,1054.87 2223.35,1057.37 2224.1,1059.9 2224.85,1062.4 2225.6,1064.82 2226.35,1067.58 2227.1,1070.6 2227.85,1073.46 2228.6,1075.71 2229.35,1076.91 2230.1,1077 2230.85,1077 2231.6,1077 2232.35,1077 2233.1,1077 2233.85,1076.91 2234.6,1075.79 2235.35,1073.82 2236.1,1071.57 2236.85,1069.6 2237.6,1068.5 2238.35,1068.03 2239.1,1067.61 2239.85,1067.23 2240.6,1066.89 2241.35,1066.6 2242.1,1066.37 2242.85,1066.19 2243.6,1066.07 2244.35,1066.01 2245.1,1066.02 2245.85,1066.14 2246.6,1066.37 2247.35,1066.67 2248.1,1067.04 2248.85,1067.44 2249.6,1067.87 2250.35,1068.3 2251.1,1068.75 2251.85,1069.38 2252.6,1070.12 2253.35,1070.89 2254.1,1071.6 2254.85,1072.16 2255.6,1072.48 2256.35,1072.61 2257.1,1072.72 2257.85,1072.82 2258.6,1072.9 2259.35,1072.95 2260.1,1072.99 2260.85,1073 2261.6,1072.99 2262.35,1072.98 2263.1,1072.96 2263.85,1072.93 2264.6,1072.9 2265.35,1072.87 2266.1,1072.84 2266.85,1072.8 2267.6,1072.77 2268.35,1072.75 2269.1,1072.72 2269.85,1072.71 2270.6,1072.7 2271.35,1072.73 2272.1,1072.85 2272.85,1073.05 2273.6,1073.28 2274.35,1073.54 2275.1,1073.78 2275.85,1073.99 2276.6,1074.15 2277.35,1074.3 2278.1,1074.44 2278.85,1074.58 2279.6,1074.72 2280.35,1074.86 2281.1,1075.02 2281.85,1075.2 2282.6,1075.41 2283.35,1075.68 2284.1,1076.11 2284.85,1076.65 2285.6,1077.21 2286.35,1077.72 2287.1,1078.11 2287.85,1078.29 2288.6,1078.3 2289.35,1078.3 2290.1,1078.3 2290.85,1078.3 2291.6,1078.3 2292.35,1078.3 2293.1,1078.3 2293.85,1078.3 2294.6,1078.3 2295.35,1078.3 2296.1,1078.3 2296.85,1078.3 2297.6,1078.3 2298.35,1078.3 2299.1,1078.3 2299.85,1078.3 2300.6,1078.3 2301.35,1078.3 2302.1,1078.3 2302.85,1078.3 2303.6,1078.3 2304.35,1078.3 2305.1,1078.3 2305.85,1078.3 2306.6,1078.3 2307.35,1078.3 2308.1,1078.3 2308.85,1078.3 2309.6,1078.3 2310.35,1078.3 2311.1,1078.3 2311.85,1078.3 2312.6,1078.3 2313.35,1078.3 2314.1,1078.3 2314.85,1078.3 2315.6,1078.3 2316.35,1078.3 2317.1,1078.3 2317.85,1078.3 2318.6,1078.3 2319.35,1078.3 2320.1,1078.3 2320.85,1078.3 2321.6,1078.3 2322.35,1078.3 2323.1,1078.3 2323.85,1078.3 2324.6,1078.3 2325.35,1078.3 2326.1,1078.3 2326.85,1078.3 2327.6,1078.3 2328.35,1078.3 2329.1,1078.3 2329.85,1078.3 2330.6,1078.3 2331.35,1078.3 2332.1,1078.3 2332.85,1078.3 2333.6,1078.3 2334.35,1078.3 2335.1,1078.3 2335.85,1078.3 2336.6,1078.3 2337.35,1078.3 2338.1,1078.3 2338.85,1078.3 2339.6,1078.3 2340.35,1078.3 2341.1,1078.3 2341.85,1078.3 2342.6,1078.3 2343.35,1078.3 2344.1,1078.3 2344.85,1078.3 2345.6,1078.3 2346.35,1078.3 2347.1,1078.3 2347.85,1078.3 2348.6,1078.3 2349.35,1078.3 2350.1,1078.3 2350.85,1078.3 2351.6,1078.3 2352.35,1078.3 2353.1,1078.3 2353.85,1078.3 2354.6,1078.3 2355.35,1078.3 2356.1,1078.3 2356.85,1078.3 2357.6,1078.3 2358.35,1078.3 2359.1,1078.3 2359.85,1078.3 2360.6,1078.3 2361.35,1078.3 2362.1,1078.3 2362.85,1078.3 2363.6,1078.3 2364.35,1078.3 2365.1,1078.3 2365.85,1078.3 2366.6,1078.3 2367,1078.3 L2367,1078.4 Z" fill="#0000ff" stroke="#000" stroke-width="2.0" stroke-linejoin="round"/>
<text transform="translate(0,1105.9) scale(1,1.03)" x="170.4" font-family="'Liberation Serif','Times New Roman',serif" font-size="78" fill="#262626">0</text>
<text transform="translate(0,872.95) scale(1,1.03)" x="115 151.7 170.4" font-family="'Liberation Serif','Times New Roman',serif" font-size="78" fill="#262626">0.2</text>
<text transform="translate(0,640) scale(1,1.03)" x="115 151.7 170.4" font-family="'Liberation Serif','Times New Roman',serif" font-size="78" fill="#262626">0.4</text>
<text transform="translate(84.5,847.45) rotate(-90) scale(1,1.033)" text-anchor="middle" font-family="'Liberation Serif','Times New Roman',serif" font-size="82.6" fill="#262626">Energy (J)</text>
<path d="M500.25,1182.4V1648.2M766.91,1182.4V1648.2M1033.57,1182.4V1648.2M1300.22,1182.4V1648.2M1566.88,1182.4V1648.2M1833.53,1182.4V1648.2M2100.18,1182.4V1648.2M233.6,1415.3H2366.84" stroke="#e0e0e0" stroke-width="5.0" fill="none"/>
<path d="M500.25,1182.4v24M500.25,1648.2v-24M766.91,1182.4v24M766.91,1648.2v-24M1033.57,1182.4v24M1033.57,1648.2v-24M1300.22,1182.4v24M1300.22,1648.2v-24M1566.88,1182.4v24M1566.88,1648.2v-24M1833.53,1182.4v24M1833.53,1648.2v-24M2100.18,1182.4v24M2100.18,1648.2v-24M233.6,1415.3h24M2366.84,1415.3h-24" stroke="#222222" stroke-width="4.0" fill="none"/>
<rect x="233.6" y="1182.4" width="2133.24" height="465.8" stroke="#222222" stroke-width="4.0" fill="none"/>
<path d="M233.6,1648.2 L233.6,1647.5 234.35,1647.5 235.1,1647.5 235.85,1647.5 236.6,1647.5 237.35,1647.5 238.1,1647.5 238.85,1647.5 239.6,1647.5 240.35,1647.5 241.1,1647.5 241.85,1647.5 242.6,1647.5 243.35,1647.5 244.1,1647.5 244.85,1647.5 245.6,1647.5 246.35,1647.5 247.1,1647.5 247.85,1647.5 248.6,1647.5 249.35,1647.5 250.1,1647.5 250.85,1647.5 251.6,1647.5 252.35,1647.5 253.1,1647.5 253.85,1647.5 254.6,1647.5 255.35,1647.5 256.1,1647.5 256.85,1647.5 257.6,1647.5 258.35,1647.5 259.1,1647.5 259.85,1647.5 260.6,1647.5 261.35,1647.5 262.1,1647.5 262.85,1647.5 263.6,1647.5 264.35,1647.5 265.1,1647.5 265.85,1647.5 266.6,1647.5 267.35,1647.5 268.1,1647.5 268.85,1647.5 269.6,1647.5 270.35,1647.5 271.1,1647.5 271.85,1647.5 272.6,1647.5 273.35,1647.5 274.1,1647.5 274.85,1647.5 275.6,1647.5 276.35,1647.5 277.1,1647.5 277.85,1647.5 278.6,1647.5 279.35,1647.5 280.1,1647.5 280.85,1647.5 281.6,1647.5 282.35,1647.5 283.1,1647.5 283.85,1647.5 284.6,1647.5 285.35,1647.5 286.1,1647.5 286.85,1647.5 287.6,1647.5 288.35,1647.5 289.1,1647.5 289.85,1647.5 290.6,1647.5 291.35,1647.5 292.1,1647.5 292.85,1647.5 293.6,1647.5 294.35,1647.5 295.1,1647.5 295.85,1647.5 296.6,1647.5 297.35,1647.5 298.1,1647.5 298.85,1647.5 299.6,1647.5 300.35,1647.5 301.1,1647.5 301.85,1647.5 302.6,1647.5 303.35,1647.5 304.1,1647.5 304.85,1647.5 305.6,1647.5 306.35,1647.5 307.1,1647.5 307.85,1647.5 308.6,1647.5 309.35,1647.5 310.1,1647.5 310.85,1647.5 311.6,1647.5 312.35,1647.5 313.1,1647.5 313.85,1647.5 314.6,1647.5 315.35,1647.5 316.1,1647.5 316.85,1647.5 317.6,1647.5 318.35,1647.5 319.1,1647.5 319.85,1647.5 320.6,1647.5 321.35,1647.5 322.1,1647.5 322.85,1647.5 323.6,1647.5 324.35,1647.5 325.1,1647.5 325.85,1647.5 326.6,1647.5 327.35,1647.5 328.1,1647.5 328.85,1647.5 329.6,1647.5 330.35,1647.5 331.1,1647.5 331.85,1647.5 332.6,1647.5 333.35,1647.5 334.1,1647.5 334.85,1647.5 335.6,1647.5 336.35,1647.5 337.1,1647.5 337.85,1647.5 338.6,1647.5 339.35,1647.5 340.1,1647.5 340.85,1647.5 341.6,1647.5 342.35,1647.5 343.1,1647.5 343.85,1647.5 344.6,1647.5 345.35,1647.5 346.1,1647.5 346.85,1647.5 347.6,1647.5 348.35,1647.5 349.1,1647.5 349.85,1647.5 350.6,1647.5 351.35,1647.5 352.1,1647.5 352.85,1647.5 353.6,1647.5 354.35,1647.5 355.1,1647.5 355.85,1647.5 356.6,1647.5 357.35,1647.5 358.1,1647.5 358.85,1647.5 359.6,1647.5 360.35,1647.5 361.1,1647.5 361.85,1647.5 362.6,1647.5 363.35,1647.5 364.1,1647.5 364.85,1647.5 365.6,1647.5 366.35,1647.5 367.1,1647.5 367.85,1647.5 368.6,1647.5 369.35,1647.5 370.1,1647.5 370.85,1647.5 371.6,1647.5 372.35,1647.5 373.1,1647.5 373.85,1647.5 374.6,1647.5 375.35,1647.5 376.1,1647.5 376.85,1647.5 377.6,1647.5 378.35,1647.5 379.1,1647.5 379.85,1647.5 380.6,1647.48 381.35,1647.41 382.1,1647.31 382.85,1647.18 383.6,1647.03 384.35,1646.88 385.1,1646.74 385.85,1646.62 386.6,1646.54 387.35,1646.5 388.1,1646.52 388.85,1646.59 389.6,1646.69 390.35,1646.82 391.1,1646.97 391.85,1647.12 392.6,1647.26 393.35,1647.38 394.1,1647.46 394.85,1647.5 395.6,1647.5 396.35,1647.49 397.1,1647.47 397.85,1647.45 398.6,1647.42 399.35,1647.38 400.1,1647.34 400.85,1647.29 401.6,1647.23 402.35,1647.17 403.1,1647.1 403.85,1647.03 404.6,1646.95 405.35,1646.87 406.1,1646.79 406.85,1646.7 407.6,1646.6 408.35,1646.5 409.1,1646.4 409.85,1646.3 410.6,1646.19 411.35,1646.08 412.1,1645.96 412.85,1645.85 413.6,1645.73 414.35,1645.61 415.1,1645.48 415.85,1645.33 416.6,1645.13 417.35,1644.89 418.1,1644.62 418.85,1644.34 419.6,1644.04 420.35,1643.74 421.1,1643.44 421.85,1643.17 422.6,1642.91 423.35,1642.68 424.1,1642.5 424.85,1642.34 425.6,1642.2 426.35,1642.07 427.1,1641.95 427.85,1641.83 428.6,1641.73 429.35,1641.63 430.1,1641.54 430.85,1641.45 431.6,1641.36 432.35,1641.28 433.1,1641.2 433.85,1641.12 434.6,1641.04 435.35,1640.96 436.1,1640.87 436.85,1640.78 437.6,1640.69 438.35,1640.59 439.1,1640.49 439.85,1640.37 440.6,1640.25 441.35,1640.12 442.1,1639.97 442.85,1639.82 443.6,1639.65 444.35,1639.46 445.1,1639.23 445.85,1638.95 446.6,1638.62 447.35,1638.25 448.1,1637.85 448.85,1637.43 449.6,1636.99 450.35,1636.54 451.1,1636.1 451.85,1635.65 452.6,1635.13 453.35,1634.54 454.1,1633.91 454.85,1633.27 455.6,1632.63 456.35,1632.03 457.1,1631.49 457.85,1631.04 458.6,1630.7 459.35,1630.47 460.1,1630.27 460.85,1630.07 461.6,1629.89 462.35,1629.73 463.1,1629.59 463.85,1629.47 464.6,1629.38 465.35,1629.32 466.1,1629.3 466.85,1629.33 467.6,1629.42 468.35,1629.57 469.1,1629.74 469.85,1629.94 470.6,1630.13 471.35,1630.31 472.1,1630.46 472.85,1630.56 473.6,1630.6 474.35,1630.6 475.1,1630.59 475.85,1630.57 476.6,1630.55 477.35,1630.52 478.1,1630.48 478.85,1630.43 479.6,1630.38 480.35,1630.33 481.1,1630.26 481.85,1630.19 482.6,1629.95 483.35,1629.45 484.1,1628.75 484.85,1627.9 485.6,1626.96 486.35,1625.99 487.1,1625.04 487.85,1624.16 488.6,1623.39 489.35,1622.56 490.1,1621.68 490.85,1620.77 491.6,1619.84 492.35,1618.93 493.1,1618.04 493.85,1617.22 494.6,1616.46 495.35,1615.81 496.1,1615.28 496.85,1614.88 497.6,1614.65 498.35,1614.48 499.1,1614.33 499.85,1614.19 500.6,1614.07 501.35,1613.96 502.1,1613.87 502.85,1613.78 503.6,1613.69 504.35,1613.62 505.1,1613.54 505.85,1613.47 506.6,1613.39 507.35,1613.32 508.1,1613.27 508.85,1613.22 509.6,1613.18 510.35,1613.14 511.1,1613.09 511.85,1613.03 512.6,1612.96 513.35,1612.87 514.1,1612.73 514.85,1612.32 515.6,1611.66 516.35,1610.79 517.1,1609.76 517.85,1608.64 518.6,1607.48 519.35,1606.32 520.1,1604.99 520.85,1603.34 521.6,1601.48 522.35,1599.49 523.1,1597.46 523.85,1595.48 524.6,1593.63 525.35,1592 526.1,1590.68 526.85,1589.74 527.6,1588.96 528.35,1588.2 529.1,1587.49 529.85,1586.85 530.6,1586.3 531.35,1585.86 532.1,1585.56 532.85,1585.41 533.6,1585.45 534.35,1585.69 535.1,1586.12 535.85,1586.72 536.6,1587.45 537.35,1588.29 538.1,1589.23 538.85,1590.3 539.6,1592.08 540.35,1594.59 541.1,1597.57 541.85,1600.78 542.6,1604 543.35,1606.98 544.1,1609.98 544.85,1613.12 545.6,1616.34 546.35,1619.55 547.1,1622.68 547.85,1625.66 548.6,1628.4 549.35,1631.12 550.1,1633.96 550.85,1636.78 551.6,1639.42 552.35,1641.73 553.1,1643.57 553.85,1644.77 554.6,1645.36 555.35,1645.87 556.1,1646.32 556.85,1646.71 557.6,1647.03 558.35,1647.27 559.1,1647.43 559.85,1647.5 560.6,1647.5 561.35,1647.49 562.1,1647.49 562.85,1647.47 563.6,1647.46 564.35,1647.44 565.1,1647.42 565.85,1647.4 566.6,1647.37 567.35,1647.34 568.1,1647.31 568.85,1647.27 569.6,1647.23 570.35,1647.19 571.1,1647.15 571.85,1647.1 572.6,1647.05 573.35,1647 574.1,1646.95 574.85,1646.9 575.6,1646.84 576.35,1646.79 577.1,1646.73 577.85,1646.67 578.6,1646.6 579.35,1646.54 580.1,1646.47 580.85,1646.4 581.6,1646.31 582.35,1646.21 583.1,1646.09 583.85,1645.96 584.6,1645.82 585.35,1645.67 586.1,1645.51 586.85,1645.33 587.6,1645.13 588.35,1644.93 589.1,1644.71 589.85,1644.47 590.6,1644.23 591.35,1643.97 592.1,1643.69 592.85,1643.39 593.6,1642.98 594.35,1642.44 595.1,1641.79 595.85,1641.05 596.6,1640.25 597.35,1639.41 598.1,1638.56 598.85,1637.7 599.6,1636.87 600.35,1636.09 601.1,1635.38 601.85,1634.76 602.6,1634.17 603.35,1633.54 604.1,1632.9 604.85,1632.25 605.6,1631.61 606.35,1631 607.1,1630.42 607.85,1629.88 608.6,1629.41 609.35,1629.02 610.1,1628.71 610.85,1628.5 611.6,1628.4 612.35,1628.44 613.1,1628.6 613.85,1628.89 614.6,1629.28 615.35,1629.76 616.1,1630.3 616.85,1630.91 617.6,1631.56 618.35,1632.25 619.1,1633.41 619.85,1635.09 620.6,1637.12 621.35,1639.3 622.1,1641.45 622.85,1643.38 623.6,1644.9 624.35,1645.82 625.1,1646.09 625.85,1646.26 626.6,1646.4 627.35,1646.54 628.1,1646.65 628.85,1646.75 629.6,1646.83 630.35,1646.9 631.1,1646.95 631.85,1646.98 632.6,1647 633.35,1646.9 634.1,1646.33 634.85,1645.4 635.6,1644.24 636.35,1643 637.1,1641.81 637.85,1640.82 638.6,1640.15 639.35,1639.6 640.1,1639.05 640.85,1638.51 641.6,1638 642.35,1637.52 643.1,1637.07 643.85,1636.68 644.6,1636.34 645.35,1636.06 646.1,1635.86 646.85,1635.74 647.6,1635.7 648.35,1635.76 649.1,1635.9 649.85,1636.12 650.6,1636.39 651.35,1636.71 652.1,1637.07 652.85,1637.45 653.6,1637.84 654.35,1638.23 655.1,1638.6 655.85,1639.05 656.6,1639.59 657.35,1640.19 658.1,1640.83 658.85,1641.5 659.6,1642.17 660.35,1642.82 661.1,1643.43 661.85,1643.98 662.6,1644.44 663.35,1644.8 664.1,1645.02 664.85,1645.19 665.6,1645.36 666.35,1645.52 667.1,1645.66 667.85,1645.8 668.6,1645.93 669.35,1646.05 670.1,1646.16 670.85,1646.25 671.6,1646.33 672.35,1646.39 673.1,1646.44 673.85,1646.48 674.6,1646.5 675.35,1646.48 676.1,1646.34 676.85,1646.06 677.6,1645.69 678.35,1645.23 679.1,1644.71 679.85,1644.17 680.6,1643.61 681.35,1643.07 682.1,1642.58 682.85,1642.14 683.6,1641.8 684.35,1641.56 685.1,1641.36 685.85,1641.17 686.6,1640.99 687.35,1640.82 688.1,1640.66 688.85,1640.53 689.6,1640.42 690.35,1640.35 691.1,1640.31 691.85,1640.31 692.6,1640.35 693.35,1640.44 694.1,1640.57 694.85,1640.74 695.6,1640.95 696.35,1641.19 697.1,1641.46 697.85,1641.76 698.6,1642.08 699.35,1642.43 700.1,1642.79 700.85,1643.19 701.6,1643.96 702.35,1645.04 703.1,1646.11 703.85,1646.84 704.6,1647.01 705.35,1647.04 706.1,1647.07 706.85,1647.1 707.6,1647.12 708.35,1647.15 709.1,1647.17 709.85,1647.19 710.6,1647.21 711.35,1647.23 712.1,1647.25 712.85,1647.27 713.6,1647.29 714.35,1647.31 715.1,1647.32 715.85,1647.34 716.6,1647.35 717.35,1647.37 718.1,1647.38 718.85,1647.39 719.6,1647.4 720.35,1647.41 721.1,1647.42 721.85,1647.43 722.6,1647.44 723.35,1647.45 724.1,1647.45 724.85,1647.46 725.6,1647.46 726.35,1647.47 727.1,1647.47 727.85,1647.48 728.6,1647.48 729.35,1647.49 730.1,1647.49 730.85,1647.49 731.6,1647.49 732.35,1647.5 733.1,1647.5 733.85,1647.5 734.6,1647.5 735.35,1647.5 736.1,1647.5 736.85,1647.5 737.6,1647.34 738.35,1645.94 739.1,1643.96 739.85,1642.53 740.6,1642.05 741.35,1641.66 742.1,1641.33 742.85,1641.05 743.6,1640.84 744.35,1640.69 745.1,1640.61 745.85,1640.67 746.6,1641.21 747.35,1642.15 748.1,1643.31 748.85,1644.5 749.6,1645.55 750.35,1646.27 751.1,1646.5 751.85,1646.5 752.6,1646.5 753.35,1646.5 754.1,1646.5 754.85,1646.5 755.6,1646.5 756.35,1646.5 757.1,1646.5 757.85,1646.5 758.6,1646.39 759.35,1645.2 760.1,1642.93 760.85,1639.85 761.6,1636.2 762.35,1632.27 763.1,1628.3 763.85,1624.56 764.6,1620.66 765.35,1616.28 766.1,1611.59 766.85,1606.74 767.6,1601.92 768.35,1597.27 769.1,1592.97 769.85,1588.96 770.6,1584.87 771.35,1580.79 772.1,1576.87 772.85,1573.25 773.6,1570.06 774.35,1567.44 775.1,1565.46 775.85,1563.63 776.6,1561.97 777.35,1560.67 778.1,1559.91 778.85,1559.8 779.6,1559.8 780.35,1559.8 781.1,1559.8 781.85,1559.8 782.6,1559.8 783.35,1559.87 784.1,1560.43 784.85,1561.43 785.6,1562.7 786.35,1564.08 787.1,1565.42 787.85,1566.57 788.6,1567.73 789.35,1568.97 790.1,1570.26 790.85,1571.54 791.6,1572.81 792.35,1574.01 793.1,1575.12 793.85,1576.1 794.6,1576.92 795.35,1577.58 796.1,1578.16 796.85,1578.67 797.6,1579.14 798.35,1579.57 799.1,1579.97 799.85,1580.36 800.6,1580.74 801.35,1581.12 802.1,1581.51 802.85,1581.93 803.6,1582.38 804.35,1582.87 805.1,1583.36 805.85,1583.86 806.6,1584.36 807.35,1584.88 808.1,1585.42 808.85,1585.98 809.6,1586.58 810.35,1587.22 811.1,1587.91 811.85,1588.67 812.6,1589.56 813.35,1590.57 814.1,1591.69 814.85,1592.88 815.6,1594.13 816.35,1595.43 817.1,1596.73 817.85,1598.04 818.6,1599.32 819.35,1600.56 820.1,1601.73 820.85,1602.82 821.6,1603.8 822.35,1604.65 823.1,1605.4 823.85,1606.11 824.6,1606.77 825.35,1607.4 826.1,1608.01 826.85,1608.59 827.6,1609.15 828.35,1609.69 829.1,1610.22 829.85,1610.75 830.6,1611.28 831.35,1611.82 832.1,1612.36 832.85,1612.88 833.6,1613.39 834.35,1613.89 835.1,1614.37 835.85,1614.85 836.6,1615.33 837.35,1615.8 838.1,1616.28 838.85,1616.76 839.6,1617.24 840.35,1617.74 841.1,1618.24 841.85,1618.76 842.6,1619.3 843.35,1619.86 844.1,1620.46 844.85,1621.08 845.6,1621.72 846.35,1622.38 847.1,1623.05 847.85,1623.73 848.6,1624.42 849.35,1625.1 850.1,1625.78 850.85,1626.46 851.6,1627.12 852.35,1627.76 853.1,1628.38 853.85,1628.98 854.6,1629.54 855.35,1630.07 856.1,1630.56 856.85,1631.01 857.6,1631.41 858.35,1631.8 859.1,1632.16 859.85,1632.52 860.6,1632.85 861.35,1633.18 862.1,1633.5 862.85,1633.8 863.6,1634.09 864.35,1634.38 865.1,1634.66 865.85,1634.93 866.6,1635.2 867.35,1635.47 868.1,1635.73 868.85,1635.99 869.6,1636.25 870.35,1636.51 871.1,1636.77 871.85,1637.03 872.6,1637.3 873.35,1637.57 874.1,1637.85 874.85,1638.14 875.6,1638.45 876.35,1638.76 877.1,1639.08 877.85,1639.4 878.6,1639.73 879.35,1640.06 880.1,1640.4 880.85,1640.72 881.6,1641.05 882.35,1641.37 883.1,1641.68 883.85,1641.98 884.6,1642.27 885.35,1642.55 886.1,1642.81 886.85,1643.05 887.6,1643.28 888.35,1643.48 889.1,1643.66 889.85,1643.81 890.6,1643.94 891.35,1644.04 892.1,1644.11 892.85,1644.16 893.6,1644.22 894.35,1644.27 895.1,1644.32 895.85,1644.37 896.6,1644.42 897.35,1644.46 898.1,1644.51 898.85,1644.55 899.6,1644.59 900.35,1644.63 901.1,1644.67 901.85,1644.71 902.6,1644.74 903.35,1644.77 904.1,1644.8 904.85,1644.83 905.6,1644.86 906.35,1644.88 907.1,1644.9 907.85,1644.92 908.6,1644.94 909.35,1644.95 910.1,1644.97 910.85,1644.98 911.6,1644.99 912.35,1644.99 913.1,1645 913.85,1645 914.6,1644.99 915.35,1644.97 916.1,1644.94 916.85,1644.89 917.6,1644.83 918.35,1644.75 919.1,1644.66 919.85,1644.57 920.6,1644.46 921.35,1644.34 922.1,1644.22 922.85,1644.09 923.6,1643.95 924.35,1643.81 925.1,1643.66 925.85,1643.51 926.6,1643.36 927.35,1643.2 928.1,1643.05 928.85,1642.89 929.6,1642.74 930.35,1642.58 931.1,1642.43 931.85,1642.29 932.6,1642.14 933.35,1642 934.1,1641.86 934.85,1641.72 935.6,1641.58 936.35,1641.43 937.1,1641.28 937.85,1641.13 938.6,1640.97 939.35,1640.81 940.1,1640.64 940.85,1640.46 941.6,1640.27 942.35,1640.08 943.1,1639.87 943.85,1639.65 944.6,1639.43 945.35,1639.18 946.1,1638.93 946.85,1638.66 947.6,1638.35 948.35,1637.97 949.1,1637.53 949.85,1637.02 950.6,1636.46 951.35,1635.85 952.1,1635.2 952.85,1634.51 953.6,1633.8 954.35,1633.06 955.1,1632.31 955.85,1631.54 956.6,1630.78 957.35,1630.02 958.1,1629.27 958.85,1628.53 959.6,1627.82 960.35,1627.14 961.1,1626.49 961.85,1625.89 962.6,1625.33 963.35,1624.83 964.1,1624.38 964.85,1623.96 965.6,1623.58 966.35,1623.22 967.1,1622.88 967.85,1622.55 968.6,1622.24 969.35,1621.94 970.1,1621.64 970.85,1621.34 971.6,1621.03 972.35,1620.72 973.1,1620.39 973.85,1620.04 974.6,1619.67 975.35,1619.27 976.1,1618.84 976.85,1618.37 977.6,1617.86 978.35,1617.31 979.1,1616.64 979.85,1615.86 980.6,1614.99 981.35,1614.04 982.1,1613.03 982.85,1611.99 983.6,1610.92 984.35,1609.86 985.1,1608.81 985.85,1607.76 986.6,1606.6 987.35,1605.33 988.1,1603.99 988.85,1602.62 989.6,1601.25 990.35,1599.91 991.1,1598.64 991.85,1597.47 992.6,1596.44 993.35,1595.57 994.1,1594.91 994.85,1594.47 995.6,1594.1 996.35,1593.75 997.1,1593.44 997.85,1593.18 998.6,1592.98 999.35,1592.85 1000.1,1592.8 1000.85,1592.81 1001.6,1592.83 1002.35,1592.85 1003.1,1592.89 1003.85,1592.93 1004.6,1592.98 1005.35,1593.03 1006.1,1593.08 1006.85,1593.13 1007.6,1593.18 1008.35,1593.22 1009.1,1593.26 1009.85,1593.28 1010.6,1593.3 1011.35,1593.28 1012.1,1593.04 1012.85,1592.56 1013.6,1591.88 1014.35,1591.06 1015.1,1590.14 1015.85,1589.17 1016.6,1588.2 1017.35,1587.12 1018.1,1585.83 1018.85,1584.37 1019.6,1582.78 1020.35,1581.11 1021.1,1579.42 1021.85,1577.75 1022.6,1576.08 1023.35,1574.26 1024.1,1572.33 1024.85,1570.33 1025.6,1568.33 1026.35,1566.36 1027.1,1564.48 1027.85,1562.74 1028.6,1561.19 1029.35,1559.88 1030.1,1558.69 1030.85,1557.49 1031.6,1556.33 1032.35,1555.28 1033.1,1554.4 1033.85,1553.76 1034.6,1553.43 1035.35,1553.4 1036.1,1553.43 1036.85,1553.47 1037.6,1553.52 1038.35,1553.58 1039.1,1553.64 1039.85,1553.7 1040.6,1553.75 1041.35,1553.78 1042.1,1553.8 1042.85,1553.78 1043.6,1553.71 1044.35,1553.58 1045.1,1553.41 1045.85,1553.2 1046.6,1552.94 1047.35,1552.65 1048.1,1552.21 1048.85,1551.1 1049.6,1549.36 1050.35,1547.15 1051.1,1544.6 1051.85,1541.86 1052.6,1539.07 1053.35,1536.36 1054.1,1533.33 1054.85,1529.87 1055.6,1526.15 1056.35,1522.31 1057.1,1518.52 1057.85,1514.93 1058.6,1511.7 1059.35,1508.7 1060.1,1505.64 1060.85,1502.67 1061.6,1499.97 1062.35,1497.7 1063.1,1496.02 1063.85,1494.9 1064.6,1493.91 1065.35,1493.22 1066.1,1493 1066.85,1493.24 1067.6,1493.8 1068.35,1494.63 1069.1,1495.66 1069.85,1496.88 1070.6,1499.15 1071.35,1502.69 1072.1,1507.19 1072.85,1512.35 1073.6,1517.85 1074.35,1523.44 1075.1,1530.11 1075.85,1538 1076.6,1546.52 1077.35,1555.13 1078.1,1563.25 1078.85,1570.33 1079.6,1576.68 1080.35,1582.81 1081.1,1588.68 1081.85,1594.26 1082.6,1599.54 1083.35,1604.48 1084.1,1609.05 1084.85,1613.34 1085.6,1617.6 1086.35,1621.72 1087.1,1625.6 1087.85,1629.12 1088.6,1632.17 1089.35,1634.64 1090.1,1636.48 1090.85,1638.16 1091.6,1639.74 1092.35,1641.17 1093.1,1642.38 1093.85,1643.32 1094.6,1643.91 1095.35,1644.1 1096.1,1644.08 1096.85,1644.04 1097.6,1643.97 1098.35,1643.89 1099.1,1643.79 1099.85,1643.67 1100.6,1643.55 1101.35,1643.42 1102.1,1643.29 1102.85,1643.15 1103.6,1642.98 1104.35,1642.76 1105.1,1642.51 1105.85,1642.24 1106.6,1641.95 1107.35,1641.66 1108.1,1641.37 1108.85,1641.1 1109.6,1640.86 1110.35,1640.66 1111.1,1640.5 1111.85,1640.4 1112.6,1640.33 1113.35,1640.28 1114.1,1640.23 1114.85,1640.2 1115.6,1640.17 1116.35,1640.14 1117.1,1640.1 1117.85,1640.07 1118.6,1640.02 1119.35,1639.96 1120.1,1639.89 1120.85,1639.78 1121.6,1639.64 1122.35,1639.45 1123.1,1639.23 1123.85,1638.97 1124.6,1638.67 1125.35,1638.34 1126.1,1637.98 1126.85,1637.58 1127.6,1637.16 1128.35,1636.7 1129.1,1636.02 1129.85,1635.06 1130.6,1633.87 1131.35,1632.53 1132.1,1631.08 1132.85,1629.57 1133.6,1628.08 1134.35,1626.64 1135.1,1625.33 1135.85,1624.19 1136.6,1623.27 1137.35,1622.4 1138.1,1621.51 1138.85,1620.62 1139.6,1619.76 1140.35,1618.95 1141.1,1618.21 1141.85,1617.57 1142.6,1617.04 1143.35,1616.66 1144.1,1616.44 1144.85,1616.41 1145.6,1616.59 1146.35,1616.95 1147.1,1617.48 1147.85,1618.15 1148.6,1618.93 1149.35,1619.8 1150.1,1620.73 1150.85,1621.71 1151.6,1623.15 1152.35,1625.1 1153.1,1627.39 1153.85,1629.83 1154.6,1632.24 1155.35,1634.43 1156.1,1636.26 1156.85,1638.1 1157.6,1640.01 1158.35,1641.85 1159.1,1643.46 1159.85,1644.69 1160.6,1645.4 1161.35,1645.5 1162.1,1645.5 1162.85,1645.5 1163.6,1645.5 1164.35,1645.5 1165.1,1645.5 1165.85,1645.5 1166.6,1645.5 1167.35,1645.5 1168.1,1645.5 1168.85,1645.42 1169.6,1645.15 1170.35,1644.73 1171.1,1644.23 1171.85,1643.68 1172.6,1643.13 1173.35,1642.65 1174.1,1642.27 1174.85,1642.04 1175.6,1642 1176.35,1642 1177.1,1642 1177.85,1642 1178.6,1642 1179.35,1642 1180.1,1642 1180.85,1642 1181.6,1642 1182.35,1642 1183.1,1642 1183.85,1642.01 1184.6,1642.1 1185.35,1642.26 1186.1,1642.48 1186.85,1642.75 1187.6,1643.05 1188.35,1643.37 1189.1,1643.7 1189.85,1644.01 1190.6,1644.31 1191.35,1644.57 1192.1,1644.78 1192.85,1644.93 1193.6,1645 1194.35,1645 1195.1,1645 1195.85,1645 1196.6,1645 1197.35,1645 1198.1,1645 1198.85,1645 1199.6,1645 1200.35,1645 1201.1,1645 1201.85,1645 1202.6,1645 1203.35,1645 1204.1,1645 1204.85,1645 1205.6,1645 1206.35,1645 1207.1,1645 1207.85,1645 1208.6,1645 1209.35,1645 1210.1,1645 1210.85,1645 1211.6,1645 1212.35,1645 1213.1,1645 1213.85,1644.99 1214.6,1644.99 1215.35,1644.98 1216.1,1644.96 1216.85,1644.95 1217.6,1644.93 1218.35,1644.91 1219.1,1644.88 1219.85,1644.85 1220.6,1644.82 1221.35,1644.78 1222.1,1644.74 1222.85,1644.7 1223.6,1644.65 1224.35,1644.6 1225.1,1644.55 1225.85,1644.49 1226.6,1644.43 1227.35,1644.36 1228.1,1644.29 1228.85,1644.21 1229.6,1644.13 1230.35,1644.04 1231.1,1643.91 1231.85,1643.52 1232.6,1642.89 1233.35,1642.1 1234.1,1641.19 1234.85,1640.22 1235.6,1639.27 1236.35,1638.38 1237.1,1637.59 1237.85,1636.78 1238.6,1635.91 1239.35,1635.02 1240.1,1634.12 1240.85,1633.24 1241.6,1632.4 1242.35,1631.62 1243.1,1630.92 1243.85,1630.34 1244.6,1629.88 1245.35,1629.56 1246.1,1629.27 1246.85,1629.01 1247.6,1628.8 1248.35,1628.65 1249.1,1628.6 1249.85,1628.71 1250.6,1629.01 1251.35,1629.45 1252.1,1629.96 1252.85,1630.49 1253.6,1631 1254.35,1631.41 1255.1,1631.68 1255.85,1631.83 1256.6,1631.97 1257.35,1632.11 1258.1,1632.23 1258.85,1632.35 1259.6,1632.45 1260.35,1632.53 1261.1,1632.6 1261.85,1632.65 1262.6,1632.69 1263.35,1632.7 1264.1,1632.4 1264.85,1631.49 1265.6,1630.12 1266.35,1628.44 1267.1,1626.6 1267.85,1624.63 1268.6,1621.97 1269.35,1618.67 1270.1,1614.91 1270.85,1610.89 1271.6,1606.78 1272.35,1602.78 1273.1,1598.95 1273.85,1594.82 1274.6,1590.5 1275.35,1586.17 1276.1,1582.03 1276.85,1578.25 1277.6,1575.04 1278.35,1572.29 1279.1,1569.48 1279.85,1566.88 1280.6,1564.76 1281.35,1563.42 1282.1,1563.13 1282.85,1563.72 1283.6,1565 1284.35,1566.84 1285.1,1569.13 1285.85,1571.75 1286.6,1575.68 1287.35,1582.36 1288.1,1590.46 1288.85,1598.55 1289.6,1605.96 1290.35,1613.89 1291.1,1621.56 1291.85,1628 1292.6,1632.89 1293.35,1637.64 1294.1,1641.92 1294.85,1645.27 1295.6,1647.21 1296.35,1647.03 1297.1,1643.13 1297.85,1635.84 1298.6,1625.86 1299.35,1613.87 1300.1,1600.56 1300.85,1586.62 1301.6,1572.46 1302.35,1553.94 1303.1,1531.84 1303.85,1509.34 1304.6,1489.41 1305.35,1471.18 1306.1,1453.66 1306.85,1436.81 1307.6,1420.55 1308.35,1403.77 1309.1,1387.11 1309.85,1372.33 1310.6,1361.2 1311.35,1352.49 1312.1,1344.23 1312.85,1337.08 1313.6,1331.7 1314.35,1328.76 1315.1,1328.57 1315.85,1329.69 1316.6,1331.7 1317.35,1334.38 1318.1,1337.53 1318.85,1340.94 1319.6,1345.77 1320.35,1352.56 1321.1,1360.68 1321.85,1369.47 1322.6,1378.3 1323.35,1386.83 1324.1,1395.88 1324.85,1405.36 1325.6,1415.05 1326.35,1424.75 1327.1,1434.26 1327.85,1443.95 1328.6,1453.89 1329.35,1463.72 1330.1,1473.08 1330.85,1481.6 1331.6,1489.39 1332.35,1497.39 1333.1,1505.05 1333.85,1511.7 1334.6,1516.67 1335.35,1519.36 1336.1,1520.99 1336.85,1522.37 1337.6,1523.53 1338.35,1524.51 1339.1,1525.34 1339.85,1526.04 1340.6,1526.67 1341.35,1527.24 1342.1,1527.73 1342.85,1528.13 1343.6,1528.46 1344.35,1528.74 1345.1,1528.99 1345.85,1529.25 1346.6,1529.53 1347.35,1529.86 1348.1,1530.26 1348.85,1530.77 1349.6,1531.4 1350.35,1532.58 1351.1,1534.46 1351.85,1536.87 1352.6,1539.66 1353.35,1542.67 1354.1,1545.75 1354.85,1548.73 1355.6,1551.46 1356.35,1554 1357.1,1556.58 1357.85,1559.2 1358.6,1561.81 1359.35,1564.4 1360.1,1566.93 1360.85,1569.37 1361.6,1571.7 1362.35,1574 1363.1,1576.5 1363.85,1579.07 1364.6,1581.59 1365.35,1583.93 1366.1,1585.94 1366.85,1587.5 1367.6,1588.47 1368.35,1588.81 1369.1,1589.01 1369.85,1589.2 1370.6,1589.35 1371.35,1589.48 1372.1,1589.58 1372.85,1589.65 1373.6,1589.69 1374.35,1589.69 1375.1,1589.54 1375.85,1589.22 1376.6,1588.78 1377.35,1588.24 1378.1,1587.62 1378.85,1586.96 1379.6,1586.29 1380.35,1585.64 1381.1,1585.02 1381.85,1584.49 1382.6,1584.05 1383.35,1583.75 1384.1,1583.61 1384.85,1583.67 1385.6,1583.95 1386.35,1584.44 1387.1,1585.11 1387.85,1585.93 1388.6,1586.88 1389.35,1587.92 1390.1,1589.04 1390.85,1590.2 1391.6,1591.39 1392.35,1592.57 1393.1,1593.84 1393.85,1595.43 1394.6,1597.28 1395.35,1599.31 1396.1,1601.47 1396.85,1603.67 1397.6,1605.86 1398.35,1607.97 1399.1,1609.93 1399.85,1611.67 1400.6,1613.13 1401.35,1614.37 1402.1,1615.56 1402.85,1616.7 1403.6,1617.79 1404.35,1618.83 1405.1,1619.8 1405.85,1620.69 1406.6,1621.52 1407.35,1622.26 1408.1,1622.91 1408.85,1623.47 1409.6,1623.95 1410.35,1624.39 1411.1,1624.8 1411.85,1625.17 1412.6,1625.52 1413.35,1625.84 1414.1,1626.14 1414.85,1626.43 1415.6,1626.7 1416.35,1626.96 1417.1,1627.22 1417.85,1627.48 1418.6,1627.74 1419.35,1628.01 1420.1,1628.29 1420.85,1628.58 1421.6,1628.9 1422.35,1629.23 1423.1,1629.6 1423.85,1630 1424.6,1630.45 1425.35,1630.94 1426.1,1631.48 1426.85,1632.04 1427.6,1632.62 1428.35,1633.22 1429.1,1633.82 1429.85,1634.43 1430.6,1635.02 1431.35,1635.61 1432.1,1636.17 1432.85,1636.7 1433.6,1637.19 1434.35,1637.64 1435.1,1638.04 1435.85,1638.38 1436.6,1638.65 1437.35,1638.85 1438.1,1638.99 1438.85,1639.12 1439.6,1639.24 1440.35,1639.36 1441.1,1639.48 1441.85,1639.6 1442.6,1639.71 1443.35,1639.81 1444.1,1639.91 1444.85,1640.01 1445.6,1640.1 1446.35,1640.19 1447.1,1640.28 1447.85,1640.35 1448.6,1640.43 1449.35,1640.5 1450.1,1640.56 1450.85,1640.62 1451.6,1640.67 1452.35,1640.72 1453.1,1640.76 1453.85,1640.8 1454.6,1640.83 1455.35,1640.86 1456.1,1640.88 1456.85,1640.89 1457.6,1640.9 1458.35,1640.9 1459.1,1640.9 1459.85,1640.89 1460.6,1640.88 1461.35,1640.87 1462.1,1640.85 1462.85,1640.83 1463.6,1640.81 1464.35,1640.79 1465.1,1640.76 1465.85,1640.73 1466.6,1640.7 1467.35,1640.66 1468.1,1640.63 1468.85,1640.59 1469.6,1640.55 1470.35,1640.5 1471.1,1640.46 1471.85,1640.41 1472.6,1640.36 1473.35,1640.31 1474.1,1640.25 1474.85,1640.2 1475.6,1640.14 1476.35,1640.08 1477.1,1640.02 1477.85,1639.96 1478.6,1639.9 1479.35,1639.83 1480.1,1639.74 1480.85,1639.64 1481.6,1639.53 1482.35,1639.4 1483.1,1639.25 1483.85,1639.09 1484.6,1638.92 1485.35,1638.74 1486.1,1638.55 1486.85,1638.34 1487.6,1638.13 1488.35,1637.9 1489.1,1637.67 1489.85,1637.42 1490.6,1637.17 1491.35,1636.9 1492.1,1636.63 1492.85,1636.35 1493.6,1636.07 1494.35,1635.77 1495.1,1635.48 1495.85,1635.17 1496.6,1634.86 1497.35,1634.55 1498.1,1634.23 1498.85,1633.91 1499.6,1633.57 1500.35,1633.2 1501.1,1632.78 1501.85,1632.33 1502.6,1631.84 1503.35,1631.34 1504.1,1630.8 1504.85,1630.26 1505.6,1629.69 1506.35,1629.13 1507.1,1628.55 1507.85,1627.96 1508.6,1627.33 1509.35,1626.64 1510.1,1625.93 1510.85,1625.18 1511.6,1624.4 1512.35,1623.62 1513.1,1622.82 1513.85,1622.03 1514.6,1621.24 1515.35,1620.47 1516.1,1619.72 1516.85,1619 1517.6,1618.32 1518.35,1617.68 1519.1,1617.09 1519.85,1616.56 1520.6,1616.09 1521.35,1615.64 1522.1,1615.21 1522.85,1614.79 1523.6,1614.4 1524.35,1614.02 1525.1,1613.66 1525.85,1613.31 1526.6,1612.98 1527.35,1612.66 1528.1,1612.36 1528.85,1612.07 1529.6,1611.79 1530.35,1611.54 1531.1,1611.31 1531.85,1611.1 1532.6,1610.91 1533.35,1610.72 1534.1,1610.55 1534.85,1610.38 1535.6,1610.21 1536.35,1610.04 1537.1,1609.86 1537.85,1609.67 1538.6,1609.46 1539.35,1609.24 1540.1,1608.99 1540.85,1608.72 1541.6,1608.42 1542.35,1608.08 1543.1,1607.67 1543.85,1607.19 1544.6,1606.63 1545.35,1606.01 1546.1,1605.34 1546.85,1604.62 1547.6,1603.86 1548.35,1603.06 1549.1,1602.24 1549.85,1601.39 1550.6,1600.38 1551.35,1599.25 1552.1,1598.04 1552.85,1596.79 1553.6,1595.56 1554.35,1594.39 1555.1,1593.32 1555.85,1592.28 1556.6,1591.23 1557.35,1590.19 1558.1,1589.17 1558.85,1588.18 1559.6,1587.23 1560.35,1586.34 1561.1,1585.53 1561.85,1584.79 1562.6,1584.15 1563.35,1583.58 1564.1,1583.06 1564.85,1582.57 1565.6,1582.12 1566.35,1581.68 1567.1,1581.26 1567.85,1580.84 1568.6,1580.41 1569.35,1579.96 1570.1,1579.49 1570.85,1579.07 1571.6,1578.66 1572.35,1578.26 1573.1,1577.86 1573.85,1577.43 1574.6,1576.98 1575.35,1576.47 1576.1,1575.9 1576.85,1575.25 1577.6,1574.47 1578.35,1573.53 1579.1,1572.43 1579.85,1571.18 1580.6,1569.82 1581.35,1568.34 1582.1,1566.76 1582.85,1565.03 1583.6,1562.93 1584.35,1560.52 1585.1,1557.9 1585.85,1555.16 1586.6,1552.39 1587.35,1549.69 1588.1,1547.12 1588.85,1544.42 1589.6,1541.57 1590.35,1538.68 1591.1,1535.91 1591.85,1533.38 1592.6,1531.23 1593.35,1529.59 1594.1,1528.28 1594.85,1527.03 1595.6,1525.89 1596.35,1524.96 1597.1,1524.3 1597.85,1524.01 1598.6,1524.12 1599.35,1524.58 1600.1,1525.34 1600.85,1526.36 1601.6,1527.59 1602.35,1529 1603.1,1530.94 1603.85,1534.41 1604.6,1538.97 1605.35,1544.01 1606.1,1548.98 1606.85,1553.77 1607.6,1558.88 1608.35,1564.19 1609.1,1569.56 1609.85,1574.85 1610.6,1580.14 1611.35,1585.54 1612.1,1590.9 1612.85,1596.07 1613.6,1600.9 1614.35,1605.52 1615.1,1610.12 1615.85,1614.61 1616.6,1618.89 1617.35,1622.89 1618.1,1626.5 1618.85,1629.64 1619.6,1632.42 1620.35,1635.18 1621.1,1637.82 1621.85,1640.25 1622.6,1642.34 1623.35,1644.01 1624.1,1645.15 1624.85,1645.72 1625.6,1646.16 1626.35,1646.55 1627.1,1646.88 1627.85,1647.15 1628.6,1647.35 1629.35,1647.47 1630.1,1647.5 1630.85,1647.49 1631.6,1647.48 1632.35,1647.46 1633.1,1647.43 1633.85,1647.39 1634.6,1647.34 1635.35,1647.29 1636.1,1647.23 1636.85,1647.17 1637.6,1647.1 1638.35,1647.03 1639.1,1646.95 1639.85,1646.87 1640.6,1646.78 1641.35,1646.69 1642.1,1646.6 1642.85,1646.51 1643.6,1646.39 1644.35,1646.25 1645.1,1646.07 1645.85,1645.85 1646.6,1645.62 1647.35,1645.36 1648.1,1645.09 1648.85,1644.8 1649.6,1644.49 1650.35,1644.19 1651.1,1643.87 1651.85,1643.56 1652.6,1643.25 1653.35,1642.95 1654.1,1642.66 1654.85,1642.39 1655.6,1642.13 1656.35,1641.9 1657.1,1641.68 1657.85,1641.48 1658.6,1641.29 1659.35,1641.1 1660.1,1640.91 1660.85,1640.71 1661.6,1640.5 1662.35,1640.27 1663.1,1640.01 1663.85,1639.72 1664.6,1639.39 1665.35,1638.98 1666.1,1638.38 1666.85,1637.64 1667.6,1636.79 1668.35,1635.89 1669.1,1634.97 1669.85,1634.09 1670.6,1633.27 1671.35,1632.58 1672.1,1632.06 1672.85,1631.65 1673.6,1631.25 1674.35,1630.86 1675.1,1630.49 1675.85,1630.16 1676.6,1629.87 1677.35,1629.62 1678.1,1629.44 1678.85,1629.33 1679.6,1629.3 1680.35,1629.36 1681.1,1629.51 1681.85,1629.74 1682.6,1630.04 1683.35,1630.41 1684.1,1630.83 1684.85,1631.29 1685.6,1631.79 1686.35,1632.46 1687.1,1633.78 1687.85,1635.6 1688.6,1637.73 1689.35,1639.94 1690.1,1642.03 1690.85,1643.8 1691.6,1645.02 1692.35,1645.51 1693.1,1645.6 1693.85,1645.69 1694.6,1645.76 1695.35,1645.83 1696.1,1645.88 1696.85,1645.93 1697.6,1645.96 1698.35,1645.99 1699.1,1646 1699.85,1645.96 1700.6,1645.41 1701.35,1644.35 1702.1,1642.92 1702.85,1641.28 1703.6,1639.6 1704.35,1638.02 1705.1,1636.71 1705.85,1635.81 1706.6,1635.3 1707.35,1634.81 1708.1,1634.36 1708.85,1633.95 1709.6,1633.59 1710.35,1633.29 1711.1,1633.07 1711.85,1632.94 1712.6,1632.9 1713.35,1633.01 1714.1,1633.27 1714.85,1633.66 1715.6,1634.15 1716.35,1634.71 1717.1,1635.32 1717.85,1635.95 1718.6,1636.57 1719.35,1637.17 1720.1,1637.72 1720.85,1638.34 1721.6,1639.04 1722.35,1639.77 1723.1,1640.52 1723.85,1641.24 1724.6,1641.92 1725.35,1642.51 1726.1,1642.99 1726.85,1643.33 1727.6,1643.53 1728.35,1643.71 1729.1,1643.89 1729.85,1644.05 1730.6,1644.2 1731.35,1644.35 1732.1,1644.48 1732.85,1644.59 1733.6,1644.7 1734.35,1644.79 1735.1,1644.86 1735.85,1644.92 1736.6,1644.96 1737.35,1644.99 1738.1,1645 1738.85,1644.94 1739.6,1644.76 1740.35,1644.5 1741.1,1644.16 1741.85,1643.76 1742.6,1643.34 1743.35,1642.91 1744.1,1642.48 1744.85,1642.08 1745.6,1641.72 1746.35,1641.43 1747.1,1641.24 1747.85,1641.11 1748.6,1641 1749.35,1640.89 1750.1,1640.78 1750.85,1640.69 1751.6,1640.6 1752.35,1640.52 1753.1,1640.45 1753.85,1640.39 1754.6,1640.35 1755.35,1640.32 1756.1,1640.3 1756.85,1640.31 1757.6,1640.35 1758.35,1640.42 1759.1,1640.53 1759.85,1640.66 1760.6,1640.82 1761.35,1640.99 1762.1,1641.17 1762.85,1641.37 1763.6,1641.57 1764.35,1641.77 1765.1,1641.97 1765.85,1642.17 1766.6,1642.41 1767.35,1642.71 1768.1,1643.05 1768.85,1643.41 1769.6,1643.78 1770.35,1644.14 1771.1,1644.49 1771.85,1644.81 1772.6,1645.09 1773.35,1645.3 1774.1,1645.45 1774.85,1645.51 1775.6,1645.54 1776.35,1645.56 1777.1,1645.59 1777.85,1645.62 1778.6,1645.64 1779.35,1645.67 1780.1,1645.69 1780.85,1645.72 1781.6,1645.74 1782.35,1645.76 1783.1,1645.78 1783.85,1645.8 1784.6,1645.81 1785.35,1645.83 1786.1,1645.85 1786.85,1645.86 1787.6,1645.88 1788.35,1645.89 1789.1,1645.9 1789.85,1645.91 1790.6,1645.92 1791.35,1645.93 1792.1,1645.94 1792.85,1645.95 1793.6,1645.96 1794.35,1645.97 1795.1,1645.97 1795.85,1645.98 1796.6,1645.98 1797.35,1645.99 1798.1,1645.99 1798.85,1645.99 1799.6,1646 1800.35,1646 1801.1,1646 1801.85,1646 1802.6,1645.97 1803.35,1645.79 1804.1,1645.47 1804.85,1645.04 1805.6,1644.54 1806.35,1644.01 1807.1,1643.49 1807.85,1643 1808.6,1642.58 1809.35,1642.28 1810.1,1642.12 1810.85,1642.21 1811.6,1642.82 1812.35,1643.75 1813.1,1644.79 1813.85,1645.74 1814.6,1646.37 1815.35,1646.54 1816.1,1646.62 1816.85,1646.69 1817.6,1646.75 1818.35,1646.81 1819.1,1646.85 1819.85,1646.89 1820.6,1646.93 1821.35,1646.96 1822.1,1646.98 1822.85,1646.99 1823.6,1647 1824.35,1646.97 1825.1,1646.04 1825.85,1644.01 1826.6,1641.14 1827.35,1637.72 1828.1,1634.03 1828.85,1630.33 1829.6,1626.92 1830.35,1623.72 1831.1,1620.34 1831.85,1616.82 1832.6,1613.21 1833.35,1609.59 1834.1,1605.99 1834.85,1602.49 1835.6,1599.06 1836.35,1595.45 1837.1,1591.73 1837.85,1588.06 1838.6,1584.58 1839.35,1581.44 1840.1,1578.78 1840.85,1576.74 1841.6,1574.93 1842.35,1573.16 1843.1,1571.47 1843.85,1569.9 1844.6,1568.49 1845.35,1567.28 1846.1,1566.31 1846.85,1565.62 1847.6,1565.25 1848.35,1565.22 1849.1,1565.42 1849.85,1565.8 1850.6,1566.33 1851.35,1566.99 1852.1,1567.76 1852.85,1568.6 1853.6,1569.5 1854.35,1570.43 1855.1,1571.36 1855.85,1572.37 1856.6,1573.69 1857.35,1575.25 1858.1,1576.97 1858.85,1578.78 1859.6,1580.59 1860.35,1582.31 1861.1,1583.88 1861.85,1585.2 1862.6,1586.2 1863.35,1586.98 1864.1,1587.71 1864.85,1588.39 1865.6,1589.01 1866.35,1589.58 1867.1,1590.1 1867.85,1590.58 1868.6,1591.01 1869.35,1591.4 1870.1,1591.74 1870.85,1592.04 1871.6,1592.3 1872.35,1592.53 1873.1,1592.73 1873.85,1592.91 1874.6,1593.09 1875.35,1593.27 1876.1,1593.46 1876.85,1593.66 1877.6,1593.9 1878.35,1594.18 1879.1,1594.5 1879.85,1594.9 1880.6,1595.39 1881.35,1595.96 1882.1,1596.59 1882.85,1597.28 1883.6,1598.02 1884.35,1598.78 1885.1,1599.55 1885.85,1600.33 1886.6,1601.11 1887.35,1601.91 1888.1,1602.76 1888.85,1603.64 1889.6,1604.55 1890.35,1605.5 1891.1,1606.46 1891.85,1607.43 1892.6,1608.42 1893.35,1609.41 1894.1,1610.41 1894.85,1611.52 1895.6,1612.69 1896.35,1613.86 1897.1,1614.94 1897.85,1615.86 1898.6,1616.56 1899.35,1617.16 1900.1,1617.72 1900.85,1618.22 1901.6,1618.69 1902.35,1619.13 1903.1,1619.54 1903.85,1619.93 1904.6,1620.31 1905.35,1620.69 1906.1,1621.06 1906.85,1621.45 1907.6,1621.85 1908.35,1622.26 1909.1,1622.65 1909.85,1623.03 1910.6,1623.4 1911.35,1623.77 1912.1,1624.13 1912.85,1624.49 1913.6,1624.84 1914.35,1625.2 1915.1,1625.56 1915.85,1625.92 1916.6,1626.28 1917.35,1626.65 1918.1,1627.03 1918.85,1627.42 1919.6,1627.82 1920.35,1628.23 1921.1,1628.66 1921.85,1629.12 1922.6,1629.59 1923.35,1630.08 1924.1,1630.59 1924.85,1631.11 1925.6,1631.63 1926.35,1632.16 1927.1,1632.69 1927.85,1633.21 1928.6,1633.73 1929.35,1634.24 1930.1,1634.74 1930.85,1635.22 1931.6,1635.68 1932.35,1636.12 1933.1,1636.53 1933.85,1636.92 1934.6,1637.27 1935.35,1637.59 1936.1,1637.9 1936.85,1638.21 1937.6,1638.51 1938.35,1638.81 1939.1,1639.1 1939.85,1639.38 1940.6,1639.66 1941.35,1639.92 1942.1,1640.19 1942.85,1640.44 1943.6,1640.69 1944.35,1640.93 1945.1,1641.17 1945.85,1641.39 1946.6,1641.61 1947.35,1641.82 1948.1,1642.03 1948.85,1642.22 1949.6,1642.41 1950.35,1642.58 1951.1,1642.75 1951.85,1642.91 1952.6,1643.07 1953.35,1643.21 1954.1,1643.35 1954.85,1643.49 1955.6,1643.63 1956.35,1643.77 1957.1,1643.91 1957.85,1644.05 1958.6,1644.18 1959.35,1644.32 1960.1,1644.45 1960.85,1644.57 1961.6,1644.69 1962.35,1644.81 1963.1,1644.92 1963.85,1645.02 1964.6,1645.12 1965.35,1645.21 1966.1,1645.29 1966.85,1645.37 1967.6,1645.43 1968.35,1645.49 1969.1,1645.53 1969.85,1645.57 1970.6,1645.59 1971.35,1645.6 1972.1,1645.6 1972.85,1645.6 1973.6,1645.6 1974.35,1645.6 1975.1,1645.6 1975.85,1645.6 1976.6,1645.6 1977.35,1645.6 1978.1,1645.6 1978.85,1645.6 1979.6,1645.6 1980.35,1645.6 1981.1,1645.6 1981.85,1645.6 1982.6,1645.6 1983.35,1645.6 1984.1,1645.6 1984.85,1645.6 1985.6,1645.6 1986.35,1645.6 1987.1,1645.6 1987.85,1645.6 1988.6,1645.6 1989.35,1645.6 1990.1,1645.6 1990.85,1645.58 1991.6,1645.54 1992.35,1645.48 1993.1,1645.4 1993.85,1645.31 1994.6,1645.19 1995.35,1645.06 1996.1,1644.92 1996.85,1644.77 1997.6,1644.6 1998.35,1644.43 1999.1,1644.25 1999.85,1644.06 2000.6,1643.86 2001.35,1643.66 2002.1,1643.46 2002.85,1643.26 2003.6,1643.06 2004.35,1642.86 2005.1,1642.66 2005.85,1642.46 2006.6,1642.28 2007.35,1642.09 2008.1,1641.92 2008.85,1641.76 2009.6,1641.59 2010.35,1641.42 2011.1,1641.26 2011.85,1641.09 2012.6,1640.93 2013.35,1640.76 2014.1,1640.59 2014.85,1640.42 2015.6,1640.25 2016.35,1640.08 2017.1,1639.9 2017.85,1639.72 2018.6,1639.54 2019.35,1639.36 2020.1,1639.17 2020.85,1638.98 2021.6,1638.79 2022.35,1638.59 2023.1,1638.38 2023.85,1638.18 2024.6,1637.96 2025.35,1637.74 2026.1,1637.52 2026.85,1637.29 2027.6,1637.05 2028.35,1636.81 2029.1,1636.56 2029.85,1636.3 2030.6,1636.03 2031.35,1635.75 2032.1,1635.47 2032.85,1635.18 2033.6,1634.89 2034.35,1634.59 2035.1,1634.29 2035.85,1633.98 2036.6,1633.66 2037.35,1633.35 2038.1,1633.02 2038.85,1632.7 2039.6,1632.36 2040.35,1632.03 2041.1,1631.69 2041.85,1631.36 2042.6,1631.01 2043.35,1630.67 2044.1,1630.32 2044.85,1629.98 2045.6,1629.62 2046.35,1629.26 2047.1,1628.89 2047.85,1628.52 2048.6,1628.13 2049.35,1627.74 2050.1,1627.35 2050.85,1626.95 2051.6,1626.54 2052.35,1626.13 2053.1,1625.71 2053.85,1625.3 2054.6,1624.88 2055.35,1624.45 2056.1,1624.03 2056.85,1623.6 2057.6,1623.17 2058.35,1622.74 2059.1,1622.32 2059.85,1621.89 2060.6,1621.46 2061.35,1621.04 2062.1,1620.62 2062.85,1620.2 2063.6,1619.78 2064.35,1619.37 2065.1,1618.97 2065.85,1618.58 2066.6,1618.19 2067.35,1617.8 2068.1,1617.41 2068.85,1617.02 2069.6,1616.63 2070.35,1616.23 2071.1,1615.83 2071.85,1615.42 2072.6,1615 2073.35,1614.57 2074.1,1614.13 2074.85,1613.67 2075.6,1613.2 2076.35,1612.71 2077.1,1612.2 2077.85,1611.66 2078.6,1611.09 2079.35,1610.46 2080.1,1609.78 2080.85,1609.07 2081.6,1608.32 2082.35,1607.53 2083.1,1606.73 2083.85,1605.9 2084.6,1605.07 2085.35,1604.23 2086.1,1603.39 2086.85,1602.56 2087.6,1601.74 2088.35,1600.93 2089.1,1600.16 2089.85,1599.41 2090.6,1598.7 2091.35,1598.03 2092.1,1597.41 2092.85,1596.84 2093.6,1596.3 2094.35,1595.78 2095.1,1595.29 2095.85,1594.81 2096.6,1594.35 2097.35,1593.9 2098.1,1593.47 2098.85,1593.04 2099.6,1592.61 2100.35,1592.2 2101.1,1591.83 2101.85,1591.48 2102.6,1591.16 2103.35,1590.85 2104.1,1590.55 2104.85,1590.25 2105.6,1589.94 2106.35,1589.62 2107.1,1589.28 2107.85,1588.9 2108.6,1588.49 2109.35,1588.04 2110.1,1587.53 2110.85,1586.96 2111.6,1586.24 2112.35,1585.32 2113.1,1584.24 2113.85,1583.02 2114.6,1581.7 2115.35,1580.31 2116.1,1578.87 2116.85,1577.43 2117.6,1576.02 2118.35,1574.64 2119.1,1573.1 2119.85,1571.39 2120.6,1569.59 2121.35,1567.77 2122.1,1565.98 2122.85,1564.31 2123.6,1562.82 2124.35,1561.58 2125.1,1560.66 2125.85,1560.06 2126.6,1559.51 2127.35,1559 2128.1,1558.55 2128.85,1558.18 2129.6,1557.9 2130.35,1557.74 2131.1,1557.71 2131.85,1557.87 2132.6,1558.24 2133.35,1558.78 2134.1,1559.47 2134.85,1560.29 2135.6,1561.22 2136.35,1562.23 2137.1,1563.75 2137.85,1566.19 2138.6,1569.34 2139.35,1572.98 2140.1,1576.9 2140.85,1580.87 2141.6,1584.67 2142.35,1588.24 2143.1,1591.98 2143.85,1595.88 2144.6,1599.83 2145.35,1603.76 2146.1,1607.56 2146.85,1611.15 2147.6,1614.46 2148.35,1617.76 2149.1,1621.09 2149.85,1624.38 2150.6,1627.53 2151.35,1630.46 2152.1,1633.07 2152.85,1635.29 2153.6,1637.03 2154.35,1638.35 2155.1,1639.62 2155.85,1640.82 2156.6,1641.92 2157.35,1642.88 2158.1,1643.67 2158.85,1644.25 2159.6,1644.61 2160.35,1644.7 2161.1,1644.66 2161.85,1644.56 2162.6,1644.42 2163.35,1644.24 2164.1,1644.01 2164.85,1643.76 2165.6,1643.48 2166.35,1643.19 2167.1,1642.88 2167.85,1642.56 2168.6,1642.24 2169.35,1641.92 2170.1,1641.58 2170.85,1641.17 2171.6,1640.71 2172.35,1640.19 2173.1,1639.64 2173.85,1639.06 2174.6,1638.45 2175.35,1637.82 2176.1,1637.19 2176.85,1636.56 2177.6,1635.94 2178.35,1635.34 2179.1,1634.76 2179.85,1634.21 2180.6,1633.7 2181.35,1633.25 2182.1,1632.85 2182.85,1632.5 2183.6,1632.19 2184.35,1631.9 2185.1,1631.64 2185.85,1631.4 2186.6,1631.17 2187.35,1630.95 2188.1,1630.73 2188.85,1630.52 2189.6,1630.3 2190.35,1630.08 2191.1,1629.84 2191.85,1629.58 2192.6,1629.3 2193.35,1628.99 2194.1,1628.65 2194.85,1628.28 2195.6,1627.85 2196.35,1627.32 2197.1,1626.71 2197.85,1626.03 2198.6,1625.29 2199.35,1624.5 2200.1,1623.68 2200.85,1622.83 2201.6,1621.96 2202.35,1621.09 2203.1,1620.23 2203.85,1619.39 2204.6,1618.59 2205.35,1617.82 2206.1,1617.11 2206.85,1616.35 2207.6,1615.51 2208.35,1614.66 2209.1,1613.82 2209.85,1613.06 2210.6,1612.43 2211.35,1611.96 2212.1,1611.72 2212.85,1611.74 2213.6,1611.95 2214.35,1612.34 2215.1,1612.89 2215.85,1613.57 2216.6,1614.37 2217.35,1615.27 2218.1,1616.24 2218.85,1617.27 2219.6,1618.84 2220.35,1621.14 2221.1,1623.86 2221.85,1626.74 2222.6,1629.47 2223.35,1631.77 2224.1,1633.79 2224.85,1635.94 2225.6,1638.1 2226.35,1640.17 2227.1,1642.05 2227.85,1643.63 2228.6,1644.81 2229.35,1645.48 2230.1,1645.6 2230.85,1645.56 2231.6,1645.48 2232.35,1645.38 2233.1,1645.24 2233.85,1645.08 2234.6,1644.91 2235.35,1644.72 2236.1,1644.53 2236.85,1644.33 2237.6,1644.14 2238.35,1643.95 2239.1,1643.78 2239.85,1643.58 2240.6,1643.35 2241.35,1643.09 2242.1,1642.83 2242.85,1642.58 2243.6,1642.35 2244.35,1642.15 2245.1,1642 2245.85,1641.91 2246.6,1641.91 2247.35,1642.05 2248.1,1642.31 2248.85,1642.65 2249.6,1643.06 2250.35,1643.48 2251.1,1643.88 2251.85,1644.24 2252.6,1644.52 2253.35,1644.68 2254.1,1644.73 2254.85,1644.76 2255.6,1644.8 2256.35,1644.83 2257.1,1644.86 2257.85,1644.89 2258.6,1644.91 2259.35,1644.93 2260.1,1644.95 2260.85,1644.96 2261.6,1644.98 2262.35,1644.99 2263.1,1644.99 2263.85,1645 2264.6,1645 2265.35,1644.94 2266.1,1644.78 2266.85,1644.56 2267.6,1644.32 2268.35,1644.09 2269.1,1643.9 2269.85,1643.81 2270.6,1643.81 2271.35,1643.85 2272.1,1643.92 2272.85,1644.02 2273.6,1644.14 2274.35,1644.28 2275.1,1644.43 2275.85,1644.6 2276.6,1644.77 2277.35,1644.94 2278.1,1645.11 2278.85,1645.27 2279.6,1645.42 2280.35,1645.57 2281.1,1645.73 2281.85,1645.91 2282.6,1646.1 2283.35,1646.3 2284.1,1646.5 2284.85,1646.69 2285.6,1646.88 2286.35,1647.05 2287.1,1647.2 2287.85,1647.33 2288.6,1647.42 2289.35,1647.48 2290.1,1647.5 2290.85,1647.5 2291.6,1647.5 2292.35,1647.5 2293.1,1647.5 2293.85,1647.5 2294.6,1647.5 2295.35,1647.5 2296.1,1647.5 2296.85,1647.5 2297.6,1647.5 2298.35,1647.5 2299.1,1647.5 2299.85,1647.5 2300.6,1647.5 2301.35,1647.5 2302.1,1647.5 2302.85,1647.5 2303.6,1647.5 2304.35,1647.5 2305.1,1647.5 2305.85,1647.5 2306.6,1647.5 2307.35,1647.5 2308.1,1647.5 2308.85,1647.5 2309.6,1647.5 2310.35,1647.5 2311.1,1647.5 2311.85,1647.5 2312.6,1647.5 2313.35,1647.5 2314.1,1647.5 2314.85,1647.5 2315.6,1647.5 2316.35,1647.5 2317.1,1647.5 2317.85,1647.5 2318.6,1647.5 2319.35,1647.5 2320.1,1647.5 2320.85,1647.5 2321.6,1647.5 2322.35,1647.5 2323.1,1647.5 2323.85,1647.5 2324.6,1647.5 2325.35,1647.5 2326.1,1647.5 2326.85,1647.5 2327.6,1647.5 2328.35,1647.5 2329.1,1647.5 2329.85,1647.5 2330.6,1647.5 2331.35,1647.5 2332.1,1647.5 2332.85,1647.5 2333.6,1647.5 2334.35,1647.5 2335.1,1647.5 2335.85,1647.5 2336.6,1647.5 2337.35,1647.5 2338.1,1647.5 2338.85,1647.5 2339.6,1647.5 2340.35,1647.5 2341.1,1647.5 2341.85,1647.5 2342.6,1647.5 2343.35,1647.5 2344.1,1647.5 2344.85,1647.5 2345.6,1647.5 2346.35,1647.5 2347.1,1647.5 2347.85,1647.5 2348.6,1647.5 2349.35,1647.5 2350.1,1647.5 2350.85,1647.5 2351.6,1647.5 2352.35,1647.5 2353.1,1647.5 2353.85,1647.5 2354.6,1647.5 2355.35,1647.5 2356.1,1647.5 2356.85,1647.5 2357.6,1647.5 2358.35,1647.5 2359.1,1647.5 2359.85,1647.5 2360.6,1647.5 2361.35,1647.5 2362.1,1647.5 2362.85,1647.5 2363.6,1647.5 2364.35,1647.5 2365.1,1647.5 2365.85,1647.5 2366.6,1647.5 2367,1647.5 L2367,1648.2 Z" fill="#0000ff" stroke="#000" stroke-width="2.0" stroke-linejoin="round"/>
<text transform="translate(0,1675.7) scale(1,1.03)" x="170.4" font-family="'Liberation Serif','Times New Roman',serif" font-size="78" fill="#262626">0</text>
<text transform="translate(0,1442.8) scale(1,1.03)" x="115 151.7 170.4" font-family="'Liberation Serif','Times New Roman',serif" font-size="78" fill="#262626">0.2</text>
<text transform="translate(0,1209.9) scale(1,1.03)" x="115 151.7 170.4" font-family="'Liberation Serif','Times New Roman',serif" font-size="78" fill="#262626">0.4</text>
<text transform="translate(84.5,1417.3) rotate(-90) scale(1,1.033)" text-anchor="middle" font-family="'Liberation Serif','Times New Roman',serif" font-size="82.6" fill="#262626">Energy (J)</text>
<text transform="translate(233.6,1744.4) scale(1,1.03)" text-anchor="middle" font-family="'Liberation Serif','Times New Roman',serif" font-size="78" fill="#262626">0</text>
<text transform="translate(500.25,1744.4) scale(1,1.03)" text-anchor="middle" font-family="'Liberation Serif','Times New Roman',serif" font-size="78" fill="#262626">30</text>
<text transform="translate(766.91,1744.4) scale(1,1.03)" text-anchor="middle" font-family="'Liberation Serif','Times New Roman',serif" font-size="78" fill="#262626">60</text>
<text transform="translate(1033.57,1744.4) scale(1,1.03)" text-anchor="middle" font-family="'Liberation Serif','Times New Roman',serif" font-size="78" fill="#262626">90</text>
<text transform="translate(1300.22,1744.4) scale(1,1.03)" text-anchor="middle" font-family="'Liberation Serif','Times New Roman',serif" font-size="78" fill="#262626">120</text>
<text transform="translate(1566.88,1744.4) scale(1,1.03)" text-anchor="middle" font-family="'Liberation Serif','Times New Roman',serif" font-size="78" fill="#262626">150</text>
<text transform="translate(1833.53,1744.4) scale(1,1.03)" text-anchor="middle" font-family="'Liberation Serif','Times New Roman',serif" font-size="78" fill="#262626">180</text>
<text transform="translate(2100.18,1744.4) scale(1,1.03)" text-anchor="middle" font-family="'Liberation Serif','Times New Roman',serif" font-size="78" fill="#262626">210</text>
<text transform="translate(2366.84,1744.4) scale(1,1.03)" text-anchor="middle" font-family="'Liberation Serif','Times New Roman',serif" font-size="78" fill="#262626">240</text>
<text transform="translate(1295,1842.9) scale(1,1.033)" text-anchor="middle" font-family="'Liberation Serif','Times New Roman',serif" font-size="82.6" fill="#000">Distance (m)</text>
<text transform="translate(623.6,135.3) scale(1,1.033)" font-family="'Liberation Serif','Times New Roman',serif" font-size="82.6" fill="#000">Pantograph location</text>
<text transform="translate(1927.62,161.5)" font-family="'Liberation Serif','Times New Roman',serif" font-style="italic" font-size="84.6" fill="#000">T</text><text transform="translate(1973.7,171.8) scale(1,0.87)" font-family="'Liberation Serif','Times New Roman',serif" font-style="italic" font-size="56" fill="#000">s</text><text transform="translate(2017.4,157) scale(1,0.686)" font-family="'Liberation Serif','Times New Roman',serif" font-size="96" fill="#000">=</text><text transform="translate(2090.2,161.5) scale(1,1.033)" font-family="'Liberation Serif','Times New Roman',serif" font-size="82.6" fill="#000">9.8 kN</text>
<text transform="translate(1874.72,735.2)" font-family="'Liberation Serif','Times New Roman',serif" font-style="italic" font-size="84.6" fill="#000">T</text><text transform="translate(1920.8,745.5) scale(1,0.87)" font-family="'Liberation Serif','Times New Roman',serif" font-style="italic" font-size="56" fill="#000">s</text><text transform="translate(1964.5,730.7) scale(1,0.686)" font-family="'Liberation Serif','Times New Roman',serif" font-size="96" fill="#000">=</text><text transform="translate(2037.3,735.2) scale(1,1.033)" font-family="'Liberation Serif','Times New Roman',serif" font-size="82.6" fill="#000">12.8 kN</text>
<g transform="translate(1880.3,1316) scale(0.99,0.962) translate(-1880.3,-1316)"><text transform="translate(1874.72,1316.3)" font-family="'Liberation Serif','Times New Roman',serif" font-style="italic" font-size="84.6" fill="#000">T</text><text transform="translate(1920.8,1326.6) scale(1,0.87)" font-family="'Liberation Serif','Times New Roman',serif" font-style="italic" font-size="56" fill="#000">s</text><text transform="translate(1964.5,1311.8) scale(1,0.686)" font-family="'Liberation Serif','Times New Roman',serif" font-size="96" fill="#000">=</text><text transform="translate(2037.3,1316.3) scale(1,1.033)" font-family="'Liberation Serif','Times New Roman',serif" font-size="82.6" fill="#000">15.8 kN</text></g>
<path d="M1296.2,51.9V1651.4" stroke="#dd0000" stroke-width="7.2" stroke-dasharray="55 27.15" fill="none"/>
</svg></body></html>
